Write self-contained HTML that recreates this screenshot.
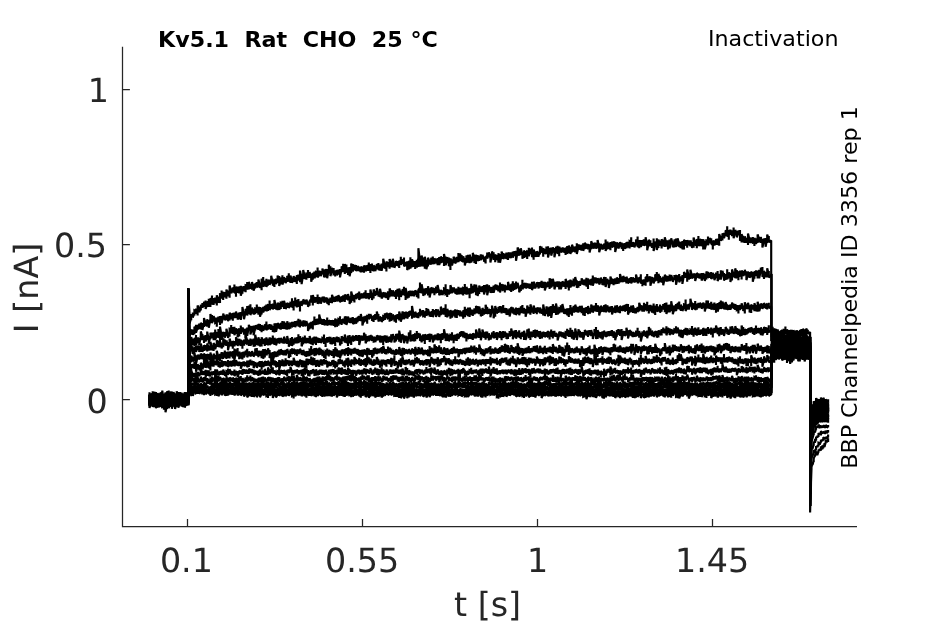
<!DOCTYPE html>
<html lang="en">
<head>
<meta charset="utf-8">
<title>Kv5.1 Rat CHO 25 °C - Inactivation</title>
<style>
html,body{margin:0;padding:0;background:#fff;}
body{width:945px;height:624px;overflow:hidden;position:relative;font-family:"DejaVu Sans","Liberation Sans",sans-serif;}
svg{position:absolute;left:0;top:0;display:block;will-change:transform;}
.tk{font-size:33.33px;fill:#262626;text-rendering:geometricPrecision;}
.sm{font-size:21.33px;fill:#000;}
.ax{stroke:#262626;stroke-width:1.25;fill:none;stroke-linecap:butt;}
.tr path{fill:none;stroke:#000;stroke-width:2.15;stroke-linejoin:miter;stroke-miterlimit:2;stroke-linecap:butt;}
</style>
</head>
<body>
<svg width="945" height="624" viewBox="0 0 945 624" font-family="'DejaVu Sans','Liberation Sans',sans-serif">
<rect width="945" height="624" fill="#fff"/>
<!-- axes -->
<g class="ax">
<path d="M122.5,46.8 V526.5 H857"/>
<path d="M122.5,89.5 H129.9 M122.5,244.5 H129.9 M122.5,399.5 H129.9"/>
<path d="M187.5,526.5 V518.9 M362.5,526.5 V518.9 M537.5,526.5 V518.9 M712.5,526.5 V518.9"/>
</g>
<!-- tick labels -->
<g class="tk" text-anchor="end">
<text x="109" y="102.4">1</text>
<text x="107" y="257.4">0.5</text>
<text x="107.6" y="412.5">0</text>
</g>
<g class="tk" text-anchor="middle">
<text x="186.4" y="572.4">0.1</text>
<text x="362.1" y="572.3">0.55</text>
<text x="537.5" y="572.3">1</text>
<text x="712.1" y="572.3">1.45</text>
<text x="487.6" y="615.9">t [s]</text>
<text transform="translate(38.1,288) rotate(-90)">I [nA]</text>
</g>
<!-- titles -->
<text class="sm" transform="translate(158,46.8) scale(1.0417,1)" font-weight="bold" xml:space="preserve">Kv5.1  Rat  CHO  25 °C</text>
<text class="sm" transform="translate(838.5,45.8) scale(1.0417,1)" text-anchor="end">Inactivation</text>
<text class="sm" transform="translate(856.7,468.8) rotate(-90) scale(1.0417,1)">BBP Channelpedia ID 3356 rep 1</text>
<!-- traces -->
<g class="tr">
<path d="M149.5,396.8L149.5,397.6V394.6V400.5L151.1,399V403.8V394.2L152.7,396.3V393.2V399.5L154.3,397.1V400.7V393.5L155.9,396.6V392V401.3L157.5,396.7V399.5V394L159.1,398.6V394.7V402.6L160.7,396.8V399.9V393.6L162.3,397V394.5V399.5L163.9,398.4V402.8V394L165.5,397.5V394.6V400.3L167.1,397.2V403.1V391.3L168.7,394.8V390.5V399.1L170.3,398.3V402.3V394.3L171.9,396.4V391.5V401.3L173.5,398.7V403.2V394.1L175.1,396.5V393.8V399.3L176.7,396.9V399.5V394.2L178.3,396.6V393.8V399.3L179.9,396V399.2V392.7L181.5,396.3V393.8V398.8L183.1,397.5V401.5V393.6L184.7,395.4V392.1V398.7L186.3,395.6V398.8V392.4L188.2,398.8V288.4L189.6,320.8V318.2V323.4L191.2,317.6V320.2V315.1L192.8,315V312.5V317.6L194.4,312.9V315.5V310.3L196,311.1V308.5V313.7L197.6,310.4V315.5V305.4L199.2,309.4V306.6V312.3L200.8,308V310.5V305.6L202.4,305.4V303V307.8L204,304.4V307V301.8L205.6,304.7V300.4V309L207.2,304.3V307V301.7L208.8,302.7V298.8V306.7L210.4,302.7V307.1V298.3L212,300.1V295.6V304.6L213.6,301.7V305.1V298.3L215.2,300.3V297.5V303.2L216.8,300.5V305.6V295.3L218.4,299.7V296.7V302.8L220,298.6V302.9V294.2L221.6,294.5V290.5V298.5L223.2,296.1V300.1V292.1L224.8,294.7V292V297.3L226.4,294.2V298.8V289.6L228,293.3V290.4V296.2L229.6,291.7V297.7V285.6L231.2,290.8V288.4V293.3L232.8,290V292.4V287.7L234.4,288.9V284.6V293.1L236,291.7V296.7V286.8L237.6,289.6V286.6V292.7L239.2,290V293.4V286.5L240.8,290.7V285.7V295.8L242.4,290.3V293.7V286.8L244,288.6V286V291.2L245.6,288.7V292.2V285.2L247.2,285.8V282V289.6L248.8,285.7V289.4V281.9L250.4,286.5V284.1V288.8L252,285.9V289.7V282L253.6,287.3V283.9V290.7L255.2,286V288.6V283.4L256.8,284.8V282.1V287.6L258.4,283.5V287.5V279.6L260,285.4V282.8V288L261.6,284.5V290.2V278.7L263.2,281.9V277.1V286.7L264.8,283.7V286.4V281L266.4,282.8V278.7V286.9L268,282.9V285.7V280L269.6,282.1V279.5V284.8L271.2,279.8V283.8V275.8L272.8,283V280.5V285.5L274.4,283.7V286.9V280.4L276,281.3V278.5V284.1L277.6,279.3V283.1V275.5L279.2,280.9V276V285.9L280.8,281.1V284.4V277.7L282.4,280V275.3V284.6L284,279.9V282.5V277.3L285.6,280.5V277.9V283.2L287.2,278.9V281.9V276L288.8,277.4V273.3V281.5L290.4,279.3V282.9V275.6L292,280.2V277.5V282.8L293.6,279V281.9V276.1L295.2,279.4V276.7V282L296.8,279.7V284.1V275.3L298.4,277.5V274.5V280.4L300,276.5V282.3V270.6L301.6,278.9V273.7V284.2L303.2,274.5V278.9V270.1L304.8,276.5V274V279L306.4,276.6V279.7V273.5L308,273.8V270V277.7L309.6,275.1V278.1V272.1L311.2,277.7V273.6V281.7L312.8,276.3V279.7V273L314.4,274.9V271.5V278.3L316,274.6V277.2V271.9L317.6,272.5V267.4V277.5L319.2,273.7V276.5V270.9L320.8,273.5V270.9V276.1L322.4,271.6V274.6V268.5L324,273.4V269.5V277.3L325.6,273.3V277.5V269.1L327.2,273.7V269.1V278.3L328.8,269.1V273.5V264.7L330.4,271.2V266.2V276.1L332,270.6V273.1V268L333.6,271.1V268V274.2L335.2,273.7V276.6V270.7L336.8,272.5V269.7V275.2L338.4,272.2V274.7V269.6L340,273.2V269.1V277.4L341.6,269.2V271.7V266.6L343.2,267.9V263.7V272L344.8,269.1V274.1V264.2L346.4,268.4V264.4V272.4L348,271.1V275V267.3L349.6,271.6V267V276.3L351.2,268.2V272.9V263.6L352.8,267.7V264V271.4L354.4,267.6V270.2V264.9L356,268V265V270.9L357.6,268.6V271.2V265.9L359.2,268.8V266.4V271.1L360.8,269.6V272.6V266.7L362.4,269.2V266.4V272.1L364,269.1V272.7V265.5L365.6,268.3V265.3V271.2L367.2,268.2V271.1V265.3L368.8,266.6V262.4V270.7L370.4,268.6V273V264.2L372,267.1V263.6V270.6L373.6,268.4V271.4V265.4L375.2,268.2V265.4V271.1L376.8,266.4V268.9V264L378.4,266.5V263V270.1L380,267.8V270.8V264.7L381.6,267.3V263.6V270.9L383.2,263.4V268V258.8L384.8,265.7V263V268.5L386.4,266.4V271.4V261.4L388,264.6V262.1V267L389.6,263.9V268.8V259L391.2,263.8V260.6V267L392.8,263V267.4V258.7L394.4,265.4V263.1V267.8L396,263.5V266V261.1L397.6,263.6V261.1V266L399.2,264.7V268V261.5L400.8,260.8V256.8V264.7L402.4,261.9V264.3V259.4L404,261.8V257.4V266.3L405.6,264.2V266.6V261.8L407.2,265.6V261.2V270.1L408.8,265.4V269.6V261.1L410.4,262.8V257.2V268.4L412,263.3V267.3V259.3L413.6,263.4V261V265.9L415.2,265.2V269V261.3L416.8,263.7V259.7V267.6L418.4,257.7V267.1V248.2L420,261.4V256.3V266.5L421.6,261V266.6V255.5L423.2,261.9V257.4V266.4L424.8,262.8V268.8V256.7L426.4,264.5V259.7V269.2L428,262.1V266.4V257.7L429.6,262V259.5V264.4L431.2,261.2V264.7V257.8L432.8,260.2V256.4V263.9L434.4,261.4V264.3V258.5L436,260.7V258.4V263.1L437.6,261.8V265.3V258.2L439.2,261V257.1V265L440.8,259.9V263.2V256.6L442.4,259.7V257V262.5L444,260.1V266.1V254.1L445.6,260.8V256.4V265.2L447.2,260.2V263.2V257.2L448.8,261.7V257.4V265.9L450.4,264.2V270V258.4L452,262.3V259.3V265.4L453.6,259.9V263.1V256.7L455.2,260.5V257.5V263.6L456.8,260.2V262.6V257.7L458.4,257.5V253V261.9L460,257.2V260.9V253.5L461.6,258.3V254.9V261.6L463.2,259.3V262.5V256.2L464.8,261.8V258V265.6L466.4,259.3V263.1V255.5L468,258.6V254.7V262.5L469.6,258.9V263.2V254.7L471.2,259.6V256.7V262.4L472.8,257.1V261.2V252.9L474.4,258.9V254.6V263.1L476,259.4V264V254.9L477.6,258V255.1V260.9L479.2,258.5V260.9V256.1L480.8,257.1V254.3V259.9L482.4,257.2V259.6V254.8L484,259V256.5V261.5L485.6,260.4V263.5V257.3L487.2,255.5V252.5V258.5L488.8,254.7V257.2V252.3L490.4,258.1V253.6V262.6L492,255.1V258.6V251.5L493.6,255.6V252.2V258.9L495.2,258.4V262.3V254.4L496.8,257.6V255V260.1L498.4,258V262.8V253.2L500,258.4V254V262.8L501.6,255.3V259.1V251.6L503.2,255.9V252.9V258.9L504.8,256.3V258.7V253.9L506.4,255.7V252.5V258.9L508,256.4V260.1V252.7L509.6,255.1V252.3V258L511.2,255.6V258.3V252.8L512.8,254.6V251.6V257.6L514.4,253.6V256.1V251L516,255.7V250.7V260.8L517.6,251.7V256.1V247.4L519.2,252.1V248.7V255.5L520.8,251.6V254.9V248.3L522.4,255.3V251.9V258.7L524,254.2V258V250.5L525.6,254V251V257L527.2,255.2V259V251.4L528.8,252V247.8V256.2L530.4,251.4V254.1V248.7L532,252.3V247.4V257.1L533.6,254.6V259.7V249.5L535.2,254.1V251.4V256.7L536.8,254.1V256.9V251.2L538.4,254.2V251.7V256.7L540,250.3V254.4V246.2L541.6,249.1V246.5V251.8L543.2,252.5V256.8V248.2L544.8,251.4V248.7V254.1L546.4,250.5V254.3V246.6L548,251.9V246.2V257.6L549.6,250.7V253.6V247.8L551.2,251.6V247.6V255.6L552.8,250V252.7V247.3L554.4,252.7V248.1V257.2L556,249.9V253V246.7L557.6,249.8V245.8V253.8L559.2,251.6V256.3V246.8L560.8,250.1V247.8V252.5L562.4,250V252.5V247.6L564,250.1V247.7V252.5L565.6,251.3V254.9V247.7L567.2,249.9V246V253.8L568.8,249.4V253.2V245.5L570.4,250.4V246.8V253.9L572,248.6V252.6V244.7L573.6,249V246.5V251.5L575.2,249.5V252.4V246.6L576.8,248.7V243.3V254.1L578.4,247.3V249.9V244.6L580,247.2V244.7V249.7L581.6,247.9V250.8V245L583.2,247V243.2V250.8L584.8,246V249.2V242.8L586.4,246V243.6V248.5L588,246.7V249.4V244.1L589.6,248.3V244.2V252.4L591.2,245.3V249.3V241.2L592.8,245.6V242.8V248.5L594.4,245.7V248.7V242.7L596,245.7V242.7V248.7L597.6,244.2V248.5V239.9L599.2,247.7V243.2V252.3L600.8,246.7V249.6V243.9L602.4,247V244.6V249.4L604,246.4V249.1V243.8L605.6,245.3V239.5V251L607.2,245.7V249.6V241.7L608.8,245.8V242.7V248.8L610.4,246.3V250.2V242.3L612,244.6V241.5V247.6L613.6,244.2V247.2V241.2L615.2,246.9V241.7V252.1L616.8,245.5V248.5V242.5L618.4,245.6V242.7V248.5L620,244.7V247.3V242.1L621.6,245.6V242.6V248.6L623.2,247.3V251.1V243.5L624.8,246V243.1V248.8L626.4,245.3V248.4V242.2L628,244.6V241.7V247.5L629.6,244.8V248.5V241.1L631.2,241.9V237.3V246.5L632.8,244.7V247.1V242.3L634.4,244.9V242.3V247.4L636,242.7V245.7V239.6L637.6,241.8V236.6V247.1L639.2,244.3V248.2V240.3L640.8,243.5V240.1V246.9L642.4,243V245.8V240.2L644,242.5V239.3V245.8L645.6,241.5V245.8V237.3L647.2,245.5V240.7V250.3L648.8,242.9V246.1V239.7L650.4,242.9V240.2V245.5L652,245.7V248.1V243.3L653.6,244.8V238.5V251.1L655.2,244.3V247V241.7L656.8,244.2V238.2V250.1L658.4,243.8V248.1V239.6L660,243.2V240.6V245.7L661.6,243.8V248.4V239.2L663.2,242.9V239.6V246.3L664.8,242.2V247.1V237.3L666.4,243.2V240.3V246L668,244.9V249.5V240.4L669.6,243.8V239.4V248.2L671.2,241.5V244.6V238.3L672.8,244.3V241.3V247.3L674.4,243.5V247.5V239.5L676,242.7V238.6V246.8L677.6,242.2V246.2V238.2L679.2,244.2V241.5V246.9L680.8,245.2V248.2V242.1L682.4,245.1V241V249.3L684,244.6V249.4V239.8L685.6,242.7V239.9V245.5L687.2,244V247.7V240.3L688.8,242.8V240.2V245.3L690.4,243.4V246.4V240.4L692,245V241.9V248L693.6,242.7V247.7V237.6L695.2,242.8V240.3V245.4L696.8,243.7V248.2V239.3L698.4,241V236V246L700,242.6V246.2V239L701.6,242.5V239V245.9L703.2,244.3V249.4V239.2L704.8,245V240.7V249.3L706.4,243V245.5V240.4L708,240.8V236.5V245.1L709.6,240.5V242.9V238.1L711.2,240.9V238.3V243.5L712.8,245.2V249.6V240.7L714.4,242.9V240.3V245.4L716,242V245.1V238.9L717.6,241.8V238.6V244.9L719.2,239.9V245.7V234L720.8,238.3V235.7V240.8L722.4,237V240.5V233.4L724,235.5V232.8V238.3L725.6,233.2V235.9V230.5L727.2,231.5V226.3V236.6L728.8,235V239.8V230.2L730.4,231.9V229.4V234.4L732,233.4V236.3V230.5L733.6,232.9V227.5V238.2L735.2,232.8V235.5V230L736.8,234.1V230.8V237.3L738.4,232.7V235.1V230.4L740,235.3V229.9V240.7L741.6,238.4V242.5V234.2L743.2,239V235.8V242.3L744.8,239.8V243.1V236.5L746.4,240.4V238.1V242.7L748,239.3V245.1V233.4L749.6,240.1V237.3V242.8L751.2,240.5V242.9V238.1L752.8,239.8V237V242.6L754.4,242V246V238.1L756,241.1V238.2V244L757.6,238.6V242.9V234.4L759.2,239.4V236.7V242.1L760.8,240V242.9V237.1L762.4,243.2V238.9V247.5L764,240.9V243.5V238.4L765.6,242.5V238.1V246.8L767.2,238.7V242.9V234.5L768.8,239.1V236V242.2L771.2,240.5V332L772.6,330.1V326.7V333.5L774.2,332.7V337V328.4L775.8,331.8V328.7V334.9L777.4,332.8V336.1V329.4L779,333.5V331.3V335.8L780.6,333.3V335.9V330.7L782.2,331.9V329.4V334.3L783.8,332.4V334.8V329.9L785.4,330.2V326.4V334L787,331.9V334.3V329.4L788.6,332.3V330.1V334.5L790.2,333.5V337.1V329.9L791.8,332.9V329.8V336.1L793.4,332.2V334.2V330.2L795,334.1V330.5V337.6L796.6,332.8V335.1V330.5L798.2,333.1V331V335.2L799.8,332.3V334.7V330L801.4,332.4V328.9V336L803,333.1V337.5V328.8L804.6,331.9V329.2V334.6L806.2,331.6V334.6V328.5L807.8,331.8V329.7V333.8L810.1,332V440L811.3,407V408.7V405.4L812.5,405.9V404.3V407.5L813.7,404V406.7V401.3L814.9,403.4V401.4V405.3L816.1,401.2V404.3V398.1L817.3,400.9V398.9V402.9L818.5,401.5V403.1V400L819.7,400.5V398.9V402.2L820.9,400.1V402.8V397.4L822.1,402V400.5V403.5L823.3,401V404.3V397.8L824.5,400.4V398.9V402L825.7,400.7V402.2V399.3L826.9,402V399.2V404.8L828.1,401V402.7V399.2"/>
<path d="M149.5,399.5L149.5,398.2V394.6V401.8L151.1,399.1V402V396.2L152.7,400V395.4V404.5L154.3,400V403V397L155.9,398.9V394.7V403.1L157.5,400.1V403.7V396.6L159.1,398.1V394.1V402.1L160.7,398.9V401.4V396.3L162.3,399.8V397V402.5L163.9,400.8V404.1V397.6L165.5,399V395.3V402.7L167.1,398.9V401.6V396.3L168.7,398.8V395.2V402.4L170.3,399.5V402.4V396.7L171.9,401.2V396.9V405.4L173.5,399.5V402.3V396.7L175.1,398.7V395.7V401.7L176.7,398.8V403.9V393.8L178.3,400.5V395.9V405L179.9,400.3V404.6V396L181.5,397.6V393.4V401.9L183.1,400.9V403.7V398L184.7,401.1V397.8V404.5L186.3,399.5V403.2V395.8L188.7,401.5V288.5L189.6,332.9V330.2V335.6L191.2,332.2V334.8V329.6L192.8,332.2V329.5V334.9L194.4,330.6V334.5V326.8L196,328.7V324.8V332.7L197.6,327.6V330.1V325.2L199.2,326.4V323.6V329.1L200.8,326.1V329.6V322.7L202.4,326.6V323V330.1L204,322.5V327V318L205.6,323.2V320.4V325.9L207.2,323V326.7V319.3L208.8,323.9V319.9V327.8L210.4,318.7V323.2V314.1L212,319.1V315.1V323L213.6,318.9V321.7V316.1L215.2,320.3V317.6V323L216.8,322.3V326.7V317.9L218.4,319.2V316.5V321.9L220,320.6V325.1V316.1L221.6,319.5V315.8V323.2L223.2,316.5V319.6V313.5L224.8,317.8V315.4V320.3L226.4,317.4V320.3V314.4L228,317.8V314.4V321.2L229.6,316.7V320.6V312.7L231.2,316.2V313.3V319.1L232.8,316.9V320.8V313L234.4,315.3V312.4V318.1L236,314.8V318V311.6L237.6,316.3V313.2V319.5L239.2,315.9V319.3V312.4L240.8,315.9V312V319.9L242.4,311.3V315.7V306.9L244,315.2V311.2V319.2L245.6,312.1V315.2V309.1L247.2,310.7V306.1V315.4L248.8,309.9V314.1V305.7L250.4,309.7V304.3V315.1L252,310.7V313.7V307.7L253.6,311.8V309.1V314.6L255.2,311.2V314.2V308.3L256.8,308.7V304.6V312.7L258.4,310.9V314.8V306.9L260,311.9V307V316.8L261.6,311.2V314.6V307.9L263.2,309.6V306.8V312.4L264.8,308.6V311.3V306L266.4,307.9V304.5V311.3L268,307.9V310.9V305L269.6,305.3V300.5V310L271.2,306.8V309.1V304.5L272.8,306.5V303.6V309.5L274.4,304.5V309V300L276,307.2V304.7V309.6L277.6,306.5V310.2V302.7L279.2,306.2V302.7V309.7L280.8,306V309.1V302.8L282.4,303.7V300.8V306.7L284,304.9V309.1V300.8L285.6,306.1V303.2V309L287.2,305.3V308V302.7L288.8,305.6V303.1V308.1L290.4,304.9V307.2V302.6L292,302.8V298.3V307.3L293.6,306.1V310.5V301.7L295.2,301.8V297.5V306.1L296.8,303.7V307.4V300.1L298.4,302.4V298.9V305.9L300,306.6V311.4V301.8L301.6,303.3V300.8V305.8L303.2,301.9V304.4V299.4L304.8,302V299.7V304.2L306.4,302.2V304.8V299.6L308,304.1V301.4V306.8L309.6,303.5V305.8V301.1L311.2,298.8V295.2V302.4L312.8,300.2V305.4V295L314.4,299.8V297V302.6L316,300.1V302.5V297.6L317.6,299.2V294.6V303.8L319.2,300.5V303.8V297.3L320.8,300.6V297.5V303.7L322.4,299.1V301.5V296.7L324,299.6V296.6V302.5L325.6,300.1V302.5V297.6L327.2,300.5V297.5V303.6L328.8,302.1V305.2V299.1L330.4,300.1V297.5V302.8L332,299V303.2V294.8L333.6,299.2V296.7V301.7L335.2,299.4V302.1V296.7L336.8,298.4V295.7V301.2L338.4,298.2V301.4V295L340,299.4V296.6V302.2L341.6,299.3V302.1V296.5L343.2,298.2V295.3V301.2L344.8,298.3V302V294.5L346.4,296.9V294.4V299.5L348,297.2V300.4V293.9L349.6,300.1V296.3V303.9L351.2,297.1V302.7V291.6L352.8,297.6V294.7V300.5L354.4,299V302.6V295.5L356,296.5V293.8V299.1L357.6,295.8V298.6V293.1L359.2,295.7V291.4V299.9L360.8,296.3V298.8V293.7L362.4,295.7V293.2V298.3L364,295.5V298.2V292.7L365.6,294.3V290.2V298.5L367.2,296V298.6V293.3L368.8,296.1V293V299.2L370.4,293.8V298.1V289.6L372,296.3V292.7V299.9L373.6,294V298.5V289.4L375.2,293.4V291V295.8L376.8,291.6V295.1V288.1L378.4,294.1V291.7V296.5L380,293.1V297.3V288.8L381.6,295.8V293V298.5L383.2,294.9V297.4V292.3L384.8,294.8V292.3V297.3L386.4,295.6V298.3V292.9L388,295.5V291.3V299.8L389.6,292.8V297.2V288.4L391.2,293.1V290V296.1L392.8,293.4V296.4V290.5L394.4,294V291.4V296.6L396,294.5V298.9V290.2L397.6,292.6V288.7V296.4L399.2,294.5V300.3V288.6L400.8,293.8V290.7V296.8L402.4,292.3V295.2V289.4L404,290.9V286.8V295L405.6,294V300V288L407.2,295.4V292.6V298.2L408.8,294.6V297.8V291.3L410.4,293.2V290.4V296L412,293.6V296.2V291L413.6,293.5V290.7V296.3L415.2,292.8V295.2V290.3L416.8,293.7V290.4V297L418.4,294.2V298.6V289.9L420,287.6V282.5V292.7L421.6,289V293.6V284.3L423.2,292.1V288.4V295.7L424.8,292V295.2V288.7L426.4,290.7V288V293.4L428,290.9V295.6V286.2L429.6,292.9V288.3V297.5L431.2,290V292.7V287.4L432.8,289.9V287.5V292.2L434.4,291.9V295.2V288.6L436,289.9V286.5V293.2L437.6,289.1V293V285.1L439.2,292.5V289.6V295.3L440.8,292.6V295.2V290L442.4,292.6V290.2V295L444,291.3V294.2V288.4L445.6,289.2V284.3V294.1L447.2,293.2V297V289.4L448.8,292V289.6V294.4L450.4,289.5V293.8V285.2L452,290.1V287.2V293.1L453.6,290V292.6V287.4L455.2,291.1V288.7V293.5L456.8,292.2V294.8V289.7L458.4,290.5V286.8V294.2L460,291V294.2V287.9L461.6,290.9V287.5V294.3L463.2,291.7V295.4V288.1L464.8,288.9V284V293.8L466.4,290.9V294.8V287L468,290.8V288.3V293.4L469.6,293.8V298.2V289.3L471.2,288.6V283.7V293.4L472.8,289.6V293.3V285.9L474.4,288.1V284.3V291.9L476,290V295.3V284.7L477.6,291.9V287.8V295.9L479.2,289.8V294V285.6L480.8,289.2V286.6V291.7L482.4,289.3V292.3V286.2L484,289.7V285V294.4L485.6,288.6V292.2V284.9L487.2,289.8V284.3V295.2L488.8,288.1V290.9V285.4L490.4,289.8V286.9V292.7L492,290.1V293.1V287.1L493.6,289.1V285.6V292.7L495.2,287.2V289.6V284.7L496.8,287.2V284.7V289.8L498.4,288.7V291.5V285.9L500,287.4V282.4V292.4L501.6,287.3V290.4V284.3L503.2,287V284.3V289.7L504.8,288.9V292.6V285.1L506.4,287.8V285.5V290.1L508,286V290.1V281.9L509.6,287.8V285.2V290.5L511.2,288V292V284L512.8,285.9V281.3V290.5L514.4,287.2V289.9V284.4L516,285.3V281.6V288.9L517.6,285.5V288.3V282.8L519.2,289.5V286.7V292.3L520.8,288.5V291V286L522.4,284.5V279.8V289.2L524,285.7V288.2V283.2L525.6,285.5V282.8V288.3L527.2,285.9V288.2V283.5L528.8,285.8V283.4V288.3L530.4,286.3V288.9V283.8L532,285.9V281.8V290.1L533.6,285.2V288.8V281.7L535.2,286.1V283.8V288.4L536.8,284.6V287V282.3L538.4,285.2V282V288.4L540,284.9V287.6V282.2L541.6,284.3V280.7V287.8L543.2,284.9V287.9V281.9L544.8,286.1V281.7V290.4L546.4,285.1V287.5V282.8L548,284.3V281.5V287.1L549.6,283.7V289V278.3L551.2,283.1V278.8V287.4L552.8,282.6V286.5V278.7L554.4,285.5V281.8V289.3L556,284.3V286.8V281.9L557.6,284V281.3V286.7L559.2,285.5V289.4V281.6L560.8,285.7V282.1V289.3L562.4,284V286.8V281.2L564,284.1V281.5V286.8L565.6,283.9V288.9V278.9L567.2,283.9V280.9V286.8L568.8,285.6V290.6V280.5L570.4,283.5V279.6V287.4L572,284V286.5V281.5L573.6,282.4V278.5V286.3L575.2,281.3V285.5V277.1L576.8,284V280.3V287.7L578.4,284.7V287.8V281.6L580,283.2V280.8V285.7L581.6,281.4V284.4V278.3L583.2,282.2V279.6V284.8L584.8,282.6V285.4V279.7L586.4,282.1V277.7V286.5L588,283.8V289V278.6L589.6,282.1V279.5V284.6L591.2,282.3V285.4V279.1L592.8,280.7V275.6V285.8L594.4,280.4V283.2V277.6L596,280.3V277.4V283.2L597.6,280.9V283.5V278.2L599.2,281.5V278.3V284.6L600.8,280.5V283.6V277.5L602.4,282.1V279.1V285L604,281.3V285.4V277.1L605.6,282V277V286.9L607.2,281.4V284V278.8L608.8,283.8V279.7V288L610.4,280.5V284.3V276.6L612,281.1V278.4V283.8L613.6,282.2V285.3V279.1L615.2,281.1V278.3V284L616.8,280.8V284.1V277.5L618.4,280.8V277.9V283.6L620,278.2V282.5V274L621.6,279.5V277V282L623.2,279.1V282.2V276L624.8,279.2V276.9V281.5L626.4,280.1V283.6V276.7L628,281.1V278.7V283.4L629.6,280.6V283V278.1L631.2,280.1V276.9V283.4L632.8,279.9V282.4V277.4L634.4,280.3V277.9V282.6L636,278.3V282.1V274.5L637.6,280.6V277.9V283.3L639.2,279.9V282.5V277.3L640.8,278.5V274.3V282.6L642.4,283.1V286.2V280L644,281.9V279.2V284.7L645.6,281.4V285.7V277L647.2,278V273.9V282L648.8,278.9V281.5V276.4L650.4,281V276.2V285.8L652,279.8V282.4V277.2L653.6,280.4V277.4V283.4L655.2,278V281.4V274.6L656.8,276.2V271.9V280.5L658.4,278.6V283.2V273.9L660,278.6V276.1V281L661.6,280.3V282.8V277.8L663.2,280.8V276.4V285.2L664.8,278V281.4V274.7L666.4,278.4V275.4V281.5L668,279V281.6V276.5L669.6,277.7V274.4V280.9L671.2,277.9V280.7V275.1L672.8,279.7V277.4V282L674.4,277.5V279.9V275.1L676,279.8V274.7V284.8L677.6,278V280.6V275.4L679.2,278.2V274.1V282.3L680.8,278.8V281.2V276.4L682.4,279.5V275.1V283.9L684,275V278V272.1L685.6,275.2V272.7V277.7L687.2,275.5V281.7V269.4L688.8,276.5V273.7V279.4L690.4,274.4V278.9V269.8L692,275.9V273.5V278.3L693.6,275.8V278.2V273.4L695.2,277.2V273.6V280.9L696.8,275.3V277.7V272.9L698.4,275.6V273.2V278.1L700,276.3V278.7V273.9L701.6,276.7V272.9V280.5L703.2,276.4V279.6V273.2L704.8,277.4V273.8V281L706.4,275.5V279.4V271.5L708,274.8V271.7V277.8L709.6,275.4V278.1V272.7L711.2,275.6V272.1V279.1L712.8,275.9V278.8V273L714.4,277.2V274.1V280.2L716,275.4V278.3V272.6L717.6,276.1V271.1V281.1L719.2,277.2V279.7V274.7L720.8,274.9V270.3V279.6L722.4,273.4V276V270.8L724,276.8V273.1V280.5L725.6,277.6V279.9V275.2L727.2,274.3V269.3V279.3L728.8,275.3V278.4V272.3L730.4,277.4V272.7V282L732,274.9V280.5V269.4L733.6,274.5V271.8V277.2L735.2,273.4V278.3V268.4L736.8,273.7V270.1V277.2L738.4,276.3V280.3V272.3L740,273.2V270.6V275.8L741.6,275V279.6V270.4L743.2,273.5V271.1V275.9L744.8,272.7V275.5V269.8L746.4,275.7V271.3V280.1L748,274.5V277.5V271.6L749.6,274.9V272V277.8L751.2,274.4V277.5V271.4L752.8,276.9V272V281.7L754.4,275.1V278.7V271.5L756,272.7V270.3V275.1L757.6,274.6V278.5V270.6L759.2,274V269.8V278.2L760.8,270.5V273.3V267.7L762.4,271.9V267.1V276.7L764,275V279.1V270.9L765.6,274.7V272.1V277.2L767.2,272.9V277.4V268.3L768.8,274.2V270.9V277.6L771.7,274.1V337L772.6,335.3V332.2V338.4L774.2,337.1V342.5V331.7L775.8,338.6V334.8V342.4L777.4,336.4V339.1V333.6L779,338.3V333.5V343.1L780.6,336.5V341.7V331.3L782.2,334.7V330.8V338.6L783.8,335.8V338.9V332.7L785.4,339.7V334.9V344.5L787,338.2V342.1V334.3L788.6,336.6V334.2V339L790.2,336.4V339.4V333.4L791.8,338.3V335.2V341.4L793.4,336.3V340.2V332.3L795,336.3V333.6V339.1L796.6,334.6V338.7V330.6L798.2,335.4V332.7V338L799.8,336.7V339.8V333.5L801.4,339.7V336.8V342.6L803,338.6V341.2V336L804.6,335V331.7V338.3L806.2,337.2V340.3V334L807.8,338.3V335.8V340.8L810.7,337V446L811.3,412.3V414.3V410.4L812.5,408.8V406.8V410.7L813.7,406.4V408V404.8L814.9,405.5V402.2V408.7L816.1,405.7V408.8V402.7L817.3,405.4V402.9V407.8L818.5,404.2V405.6V402.8L819.7,404.1V401.7V406.5L820.9,403.7V405.1V402.3L822.1,404.1V402.5V405.8L823.3,404V405.5V402.6L824.5,403.7V401.6V405.7L825.7,402.9V404.5V401.2L826.9,404.8V402.4V407.2L828.1,404.1V405.7V402.4"/>
<path d="M149.5,402.1L149.5,403.7V399.4V407.9L151.1,402.6V405.4V399.8L152.7,402.8V400.1V405.6L154.3,402.8V406V399.6L155.9,401V397.1V404.8L157.5,403.4V407.6V399.3L159.1,402.4V399.4V405.4L160.7,402.9V405.4V400.3L162.3,402.6V399.7V405.5L163.9,402.2V405.6V398.8L165.5,403.9V398.2V409.7L167.1,401.7V406.6V396.8L168.7,403.6V399V408.2L170.3,402.7V405.8V399.7L171.9,402.4V400.1V404.7L173.5,401.6V405.2V398.1L175.1,402.6V399.1V406L176.7,402.6V406.9V398.3L178.3,401.2V398V404.4L179.9,401.2V404.3V398.1L181.5,402.9V399.3V406.5L183.1,402.3V405V399.5L184.7,402.6V399.7V405.5L186.3,402.9V405.9V399.8L188.2,404.1V288.4L189.6,342.5V338.4V346.6L191.2,341V344.9V337L192.8,341.9V339V344.8L194.4,342V346.2V337.9L196,340.2V335V345.5L197.6,340.3V343.1V337.5L199.2,341.7V338V345.4L200.8,335.8V340.2V331.4L202.4,336.6V334.1V339.1L204,339.4V342.9V335.9L205.6,338.2V335.1V341.4L207.2,336V340.3V331.6L208.8,339.7V335.7V343.7L210.4,336V339.3V332.8L212,335.2V332.5V337.9L213.6,336.4V340.3V332.5L215.2,334.8V329.6V339.9L216.8,335.3V337.5V333L218.4,333.5V329.1V337.9L220,333.8V341V326.6L221.6,335.8V331.8V339.8L223.2,334.4V336.8V332.1L224.8,334.8V331.9V337.8L226.4,332.5V336.3V328.7L228,335.2V332.5V337.9L229.6,332.7V336.7V328.7L231.2,329.1V325V333.3L232.8,330.6V334V327.3L234.4,330.9V326.7V335.2L236,331.1V334V328.3L237.6,332.9V328.8V337.1L239.2,332.9V336.6V329.3L240.8,329.6V325.4V333.7L242.4,329.9V332.2V327.5L244,331.1V328.7V333.5L245.6,333.4V338V328.7L247.2,331.6V327.4V335.9L248.8,327.3V329.9V324.8L250.4,330V325.7V334.4L252,329.3V332.4V326.2L253.6,330.4V325.5V335.3L255.2,328V330.4V325.6L256.8,326.9V324.7V329.1L258.4,327V330V324L260,327.2V323.9V330.4L261.6,328.7V332.2V325.3L263.2,328.2V325.6V330.7L264.8,327.1V329.7V324.4L266.4,325.9V321.5V330.2L268,327.5V329.8V325.1L269.6,326.5V323.9V329.1L271.2,327.3V330V324.7L272.8,328.9V326V331.9L274.4,327.9V332.4V323.5L276,327.5V323.3V331.7L277.6,325.4V328V322.9L279.2,326.1V323.5V328.8L280.8,326.5V329.8V323.1L282.4,324.8V320.9V328.7L284,325.3V329V321.6L285.6,326.2V323.1V329.3L287.2,325.5V329.7V321.3L288.8,326.1V323.3V328.9L290.4,326.2V328.8V323.6L292,324.5V321.8V327.2L293.6,324.5V327.1V321.9L295.2,324.2V321.1V327.2L296.8,323.3V325.7V321L298.4,322.7V318.8V326.6L300,323.7V327.4V320L301.6,323.6V321.4V325.8L303.2,323.6V326.8V320.5L304.8,323.3V320.6V326.1L306.4,323.6V326V321.1L308,327.2V323.4V331L309.6,326.1V329.3V322.8L311.2,324.9V321.8V328L312.8,325.9V329.6V322.1L314.4,320.9V316.6V325.1L316,322.1V325.1V319.2L317.6,321.4V318.4V324.5L319.2,319.5V324.3V314.6L320.8,321.2V318.6V323.8L322.4,322.3V325.1V319.4L324,322.1V319.1V325.1L325.6,322.9V325.4V320.4L327.2,321.5V317.6V325.5L328.8,322.7V325.3V320.2L330.4,322.5V319.9V325.1L332,322.9V325.5V320.2L333.6,322.9V320V325.8L335.2,322.9V327.3V318.5L336.8,322.9V319.3V326.5L338.4,322.4V325.8V318.9L340,319.7V316.3V323.1L341.6,322.3V325.1V319.5L343.2,320.9V318.5V323.3L344.8,320.4V324.3V316.4L346.4,320.6V316.3V324.9L348,319.6V322.4V316.8L349.6,320.5V318.2V322.8L351.2,320.4V323V317.8L352.8,320.6V317.1V324.1L354.4,321.3V324.2V318.4L356,320.6V317.8V323.5L357.6,319.6V322.2V316.9L359.2,318.3V315.8V320.8L360.8,317.5V321.2V313.9L362.4,321.2V316.9V325.5L364,319.6V322.6V316.6L365.6,318.4V315.7V321.1L367.2,319.9V323.8V316L368.8,316.5V313.7V319.2L370.4,316.4V318.8V314L372,318.3V315.9V320.8L373.6,318.8V322V315.6L375.2,316.9V314.1V319.8L376.8,315.5V319.6V311.4L378.4,317.8V314.1V321.5L380,318.8V321.2V316.4L381.6,319.5V316.9V322L383.2,318.5V321.1V316L384.8,316.5V313.3V319.7L386.4,315.6V318.2V312.9L388,315.7V313.3V318.2L389.6,317.4V321.7V313L391.2,316.9V313.1V320.7L392.8,317V319.7V314.4L394.4,318.3V315.2V321.4L396,318.8V322.7V315L397.6,316.6V314.1V319L399.2,315.9V320.4V311.5L400.8,317.6V313.5V321.8L402.4,315.6V319.6V311.5L404,315.6V312.1V319L405.6,315.1V318.3V311.8L407.2,315.3V312V318.6L408.8,314.2V317V311.5L410.4,313V310.6V315.4L412,312.4V318.7V306L413.6,315.1V312.6V317.5L415.2,314.6V317.4V311.8L416.8,315.2V312.9V317.6L418.4,315.8V318.3V313.3L420,312.5V308.8V316.2L421.6,313V315.5V310.5L423.2,313V310.1V315.9L424.8,315V317.8V312.3L426.4,311.8V307.9V315.7L428,312.2V315.3V309.1L429.6,314.2V312V316.4L431.2,314.2V316.9V311.6L432.8,313V308.9V317.1L434.4,312.5V314.6V310.3L436,313V309V317L437.6,312.4V315.4V309.4L439.2,313.8V310.7V316.9L440.8,310.9V315.2V306.7L442.4,311.3V308.4V314.2L444,311.5V314.8V308.1L445.6,310.5V304.2V316.8L447.2,313.2V317.5V309L448.8,313V310.8V315.2L450.4,314.4V318.7V310.1L452,313.9V310.4V317.4L453.6,313.2V315.8V310.6L455.2,313.4V309.3V317.5L456.8,314V318V310L458.4,312.4V310V314.8L460,313.6V316.4V310.8L461.6,314V311.7V316.3L463.2,314.6V318.7V310.4L464.8,311.8V306.7V316.9L466.4,312.1V315.1V309.1L468,311.8V307.5V316.2L469.6,312.3V317V307.5L471.2,311.9V309.7V314.1L472.8,313.4V316V310.7L474.4,311.2V308.2V314.2L476,309.7V313.4V306L477.6,309.6V306V313.2L479.2,310.4V314.2V306.5L480.8,312.9V309.6V316.3L482.4,311.9V315.9V307.9L484,311.8V309.1V314.4L485.6,309.5V314.1V304.8L487.2,310.4V306.9V313.9L488.8,311.3V313.9V308.8L490.4,313.1V308.9V317.2L492,309.6V313.6V305.6L493.6,313.4V308.4V318.3L495.2,311.5V316.8V306.1L496.8,311.2V308.9V313.6L498.4,310V313V307L500,309.1V306.1V312.1L501.6,310V313.5V306.6L503.2,308.8V304.9V312.6L504.8,310.6V313.2V308.1L506.4,311.5V308.1V314.8L508,312.2V314.9V309.6L509.6,312.3V308.3V316.4L511.2,309.4V311.7V307.1L512.8,310.2V307.3V313.2L514.4,311.9V314.8V309L516,311.2V307.5V315L517.6,311.2V314.1V308.3L519.2,311.4V307.7V315.2L520.8,309.8V313.2V306.4L522.4,309V305V313.1L524,310.8V313.7V308L525.6,312.8V308.9V316.7L527.2,309.5V313.4V305.5L528.8,310.1V307.1V313.2L530.4,309.6V314.8V304.4L532,310.1V307.8V312.4L533.6,309.8V314V305.6L535.2,310.3V308V312.6L536.8,311V314.2V307.8L538.4,309.5V307.2V311.9L540,310.6V313.4V307.7L541.6,311.5V309.3V313.7L543.2,310V315.6V304.5L544.8,312.7V309.5V315.9L546.4,310.2V314V306.4L548,311.8V307.2V316.4L549.6,311.4V316.1V306.6L551.2,312V306.1V317.9L552.8,308.6V313V304.2L554.4,309.3V306V312.7L556,309.3V315V303.5L557.6,311.4V308.4V314.4L559.2,310.8V313.6V308.1L560.8,308.7V305.2V312.2L562.4,308.3V312.6V304L564,311.2V308.8V313.7L565.6,311.6V314.2V309L567.2,311.8V308.2V315.3L568.8,313.1V316.9V309.3L570.4,309.6V305V314.2L572,311.7V315.7V307.7L573.6,309.1V305.7V312.5L575.2,308.5V312.3V304.7L576.8,309.5V306.8V312.1L578.4,309.8V312.7V306.9L580,308.7V305.8V311.6L581.6,309.4V313.2V305.7L583.2,311.6V307.9V315.2L584.8,311.9V315.9V307.9L586.4,309.9V307.1V312.8L588,310.1V314.2V306.1L589.6,310.8V308V313.6L591.2,308.6V312.6V304.6L592.8,309V305.6V312.5L594.4,308.6V311.3V305.9L596,307.3V303.1V311.5L597.6,308.7V312V305.3L599.2,311.1V306.6V315.6L600.8,309V312.2V305.8L602.4,309V306.5V311.6L604,308.8V312.3V305.3L605.6,308.3V304.3V312.3L607.2,308.5V311.5V305.4L608.8,309.7V307.1V312.3L610.4,309.3V312.2V306.3L612,310.3V306V314.5L613.6,310.1V312.3V307.9L615.2,309.2V305.5V312.9L616.8,308.8V312.4V305.3L618.4,309.7V306.9V312.5L620,309.6V313.2V305.9L621.6,308.5V306.2V310.8L623.2,308.3V311V305.5L624.8,308.1V304.8V311.5L626.4,307.6V311.1V304L628,309.3V304V314.6L629.6,310.1V312.8V307.4L631.2,308.6V305.5V311.7L632.8,309.2V313.1V305.4L634.4,310.6V308.2V313L636,310.9V313.6V308.3L637.6,309.5V306.8V312.1L639.2,307.1V311.4V302.8L640.8,307.4V305V309.9L642.4,308.9V311.8V306L644,307V302.7V311.4L645.6,307.7V310.3V305.1L647.2,305.9V301.8V310L648.8,309.5V313.5V305.4L650.4,307.8V304.8V310.9L652,309.3V312.8V305.8L653.6,308.4V303.5V313.3L655.2,310.4V314.9V305.9L656.8,307.8V304V311.6L658.4,309.3V311.8V306.7L660,308.6V304.6V312.5L661.6,309.3V311.8V306.7L663.2,306.7V304V309.4L664.8,307.6V312.2V303L666.4,308.2V302.6V313.9L668,308.7V312.5V305L669.6,308.4V304.6V312.2L671.2,306.3V311.3V301.3L672.8,309.8V305.4V314.2L674.4,308.6V311.6V305.7L676,307.4V304V310.9L677.6,306V309V302.9L679.2,305.3V301.4V309.3L680.8,307.8V310.9V304.8L682.4,308.5V306V311L684,306.8V309.2V304.5L685.6,305.3V299.4V311.1L687.2,307.2V309.7V304.6L688.8,306.6V303.8V309.4L690.4,302.8V306.8V298.8L692,306.2V302.6V309.8L693.6,306.2V308.9V303.4L695.2,305.5V300.9V310.1L696.8,306.9V309.8V304.1L698.4,305.4V302.7V308L700,305.2V307.7V302.8L701.6,306V303.3V308.7L703.2,305.6V308.6V302.5L704.8,307.4V303.2V311.5L706.4,304.7V308.8V300.6L708,304.3V300.5V308.2L709.6,306.2V309.1V303.4L711.2,305.6V301.7V309.5L712.8,306.8V309.7V303.9L714.4,305.7V302.5V308.9L716,308.4V312.7V304L717.6,307.3V303V311.6L719.2,305.8V309.2V302.5L720.8,304.6V300.6V308.7L722.4,305.1V308.7V301.6L724,306.3V303.3V309.3L725.6,306V309.8V302.1L727.2,307.1V304.3V309.8L728.8,307.8V310.1V305.5L730.4,307V304.3V309.7L732,305.4V308.1V302.6L733.6,306.2V303.5V308.8L735.2,307.1V310.1V304.2L736.8,307.5V304.9V310.1L738.4,309.4V313.4V305.4L740,307.3V304.7V309.9L741.6,306.1V308.9V303.3L743.2,308.3V305.5V311L744.8,307.8V313.4V302.3L746.4,306.5V304.2V308.9L748,306V309.2V302.8L749.6,308.8V305.2V312.4L751.2,308.7V313V304.5L752.8,307.2V304.9V309.5L754.4,307.2V311.3V303.2L756,308.1V304.9V311.3L757.6,306.7V311.7V301.7L759.2,307.7V304.2V311.2L760.8,305.9V308.2V303.6L762.4,306.2V303.5V308.9L764,305.6V308.1V303L765.6,306.2V303.7V308.6L767.2,307V309.5V304.5L768.8,305.3V302.7V308L771.2,306.5V340L772.6,340.2V336.6V343.7L774.2,338.5V342.7V334.3L775.8,339.8V336.6V342.9L777.4,339.2V341.7V336.6L779,340.4V336.4V344.4L780.6,340.3V343.7V336.8L782.2,341.5V338.4V344.6L783.8,338.3V342.9V333.7L785.4,338.8V334.6V342.9L787,340.4V343.8V337L788.6,340.5V337.2V343.8L790.2,340.2V344.2V336.1L791.8,339.9V335.9V344L793.4,341V343.9V338L795,340.9V337.9V343.9L796.6,338.8V343.6V334L798.2,338.6V333.6V343.7L799.8,338.9V342.5V335.3L801.4,341.2V337.6V344.8L803,343V346.9V339L804.6,342.6V337.3V347.8L806.2,340.4V343.1V337.8L807.8,339.6V337V342.1L810.1,340V452L811.3,415.5V417.1V413.9L812.5,413.2V410.6V415.9L813.7,409.9V412.1V407.6L814.9,409.8V406.8V412.9L816.1,408.3V409.8V406.8L817.3,407.3V405.7V408.9L818.5,406V407.7V404.3L819.7,406.2V402.4V410.1L820.9,406.7V408.3V405L822.1,406V403.2V408.7L823.3,406V407.4V404.6L824.5,406V404.2V407.7L825.7,405.9V407.4V404.4L826.9,405V402.3V407.6L828.1,407V409.4V404.6"/>
<path d="M149.5,397.9L149.5,396.3V392.3V400.2L151.1,397.2V399.7V394.7L152.7,395.5V391.2V399.8L154.3,395.7V399.7V391.7L155.9,396.8V392.9V400.8L157.5,398.9V403.4V394.4L159.1,398.5V395.4V401.7L160.7,398.2V401.4V395L162.3,395.5V390.4V400.6L163.9,398.5V401.3V395.6L165.5,397.9V394.9V400.9L167.1,399.9V403.8V396.1L168.7,398.8V395.7V402L170.3,399.5V404.4V394.6L171.9,396.8V393.1V400.5L173.5,396.7V400.6V392.9L175.1,396.7V394.1V399.4L176.7,396V400.8V391.2L178.3,398V395.7V400.3L179.9,398.1V400.9V395.2L181.5,396.7V392.4V400.9L183.1,398.1V401.1V395.1L184.7,398.3V395.9V400.7L186.3,398.3V401.5V395.2L188.7,399.9V292.1L189.6,352V348.1V355.9L191.2,347.8V351.5V344L192.8,350.8V347.6V354.1L194.4,351.3V354.6V348L196,348.8V345.9V351.8L197.6,347.8V350.1V345.6L199.2,349V346.1V351.9L200.8,347.8V352.1V343.6L202.4,349.3V346.7V351.9L204,348V350.9V345.2L205.6,347.6V345V350.2L207.2,347.4V351.4V343.4L208.8,348.2V346V350.4L210.4,346.2V350.5V341.9L212,347.7V345.2V350.2L213.6,346.9V350.9V343L215.2,346.5V343.7V349.3L216.8,343.6V346.9V340.3L218.4,343.6V340.4V346.9L220,344.3V347.5V341.1L221.6,345.5V342.7V348.4L223.2,342.8V347.2V338.5L224.8,342.3V339.5V345.2L226.4,343.1V345.9V340.4L228,346.2V342.1V350.2L229.6,342.6V346.5V338.7L231.2,343.6V341.3V345.9L232.8,344.8V348.7V341L234.4,343.7V341.1V346.3L236,341.1V345.1V337.2L237.6,342.1V338.4V345.9L239.2,342.2V345.4V339L240.8,342.2V339.4V345L242.4,344.7V348.7V340.7L244,342.4V339.4V345.4L245.6,339.2V343.9V334.6L247.2,341.2V338.7V343.6L248.8,343V345.9V340.1L250.4,342.2V338.6V345.8L252,342.2V344.8V339.5L253.6,342.6V338.5V346.8L255.2,340.6V346.6V334.7L256.8,341.7V338.6V344.8L258.4,341.6V345.8V337.3L260,342.8V339.1V346.4L261.6,341.9V346.6V337.3L263.2,341.4V339V343.7L264.8,342.3V346V338.6L266.4,341V337.2V344.8L268,342.1V345.4V338.8L269.6,341.2V337.3V345.1L271.2,341.7V344.5V338.8L272.8,339.5V335.4V343.6L274.4,341.5V345.1V337.9L276,341.8V338.4V345.3L277.6,340.7V343V338.4L279.2,340.5V337.7V343.4L280.8,340.3V342.8V337.9L282.4,340.9V338.6V343.3L284,340.3V343.8V336.7L285.6,341.1V338.8V343.3L287.2,339.9V343.9V335.9L288.8,343.6V340.6V346.7L290.4,342V345.7V338.3L292,341.5V337.1V345.9L293.6,341.9V344.8V339.1L295.2,340.4V337.5V343.3L296.8,340.5V343.4V337.6L298.4,338.6V334.3V342.9L300,339.2V342.1V336.3L301.6,342.2V338.1V346.3L303.2,341.3V344.2V338.4L304.8,339.3V335.6V342.9L306.4,340.8V343.5V338L308,340.4V338V342.8L309.6,339.9V343.7V336.1L311.2,341.4V338.5V344.3L312.8,341.5V345.3V337.7L314.4,339.9V336.6V343.3L316,341V344.9V337.1L317.6,340V337.5V342.4L319.2,340.7V343V338.4L320.8,340.8V338.6V343L322.4,340.2V342.5V337.9L324,338.6V334.5V342.8L325.6,342.8V346.9V338.7L327.2,339.9V337.1V342.6L328.8,339.6V342.3V337L330.4,340.4V336.8V343.9L332,341.2V344.4V338L333.6,340.3V337.1V343.6L335.2,341.9V345.9V337.9L336.8,339.1V336.5V341.7L338.4,339.9V342.6V337.2L340,341.9V338.4V345.4L341.6,340.2V344.1V336.2L343.2,338.9V336.7V341.1L344.8,338.6V342.8V334.4L346.4,340.5V337.9V343.1L348,340.8V346.1V335.6L349.6,339V334.9V343.2L351.2,341V345.1V336.9L352.8,338.2V335.2V341.3L354.4,338.8V341.3V336.4L356,337.6V335V340.2L357.6,338.3V341.1V335.4L359.2,340V335.1V344.9L360.8,338.3V340.8V335.8L362.4,338.2V335.6V340.7L364,336.7V340.6V332.8L365.6,338.8V334.3V343.3L367.2,339.2V341.8V336.6L368.8,338.3V335.4V341.1L370.4,337.9V340.6V335.2L372,337.7V335.4V340L373.6,339.7V342.7V336.7L375.2,339.4V336.8V342L376.8,337.9V340.5V335.4L378.4,337.3V335.2V339.4L380,339.1V342.5V335.8L381.6,338.7V335.8V341.5L383.2,340.6V344.9V336.2L384.8,338.2V335.3V341.2L386.4,339.3V342.9V335.7L388,339.7V337V342.3L389.6,339.7V341.9V337.5L391.2,338.4V334.3V342.5L392.8,336.5V338.9V334.1L394.4,339.2V336V342.4L396,337.8V341.5V334L397.6,336.4V333.4V339.4L399.2,336.2V341.8V330.6L400.8,338.7V334.6V342.8L402.4,336.8V339.5V334.1L404,339.2V335.2V343.2L405.6,338.3V340.8V335.8L407.2,339.9V336.3V343.5L408.8,335.8V339.2V332.5L410.4,335.9V330.3V341.4L412,338.1V341.2V334.9L413.6,337.7V334.1V341.3L415.2,337.8V341.2V334.4L416.8,335V331V338.9L418.4,335.5V337.9V333.1L420,337.1V333.4V340.8L421.6,339.2V342.5V335.8L423.2,337.1V334.3V340L424.8,339.2V344V334.4L426.4,337.1V334.4V339.7L428,337.1V340V334.2L429.6,337.7V333.4V342L431.2,336.6V339.3V334L432.8,338.9V335.4V342.5L434.4,337.6V340.4V334.9L436,336.9V334.4V339.4L437.6,337V340.5V333.4L439.2,336.4V333.7V339.1L440.8,338.7V343.3V334.1L442.4,336.3V332.9V339.7L444,333.9V338.4V329.3L445.6,337.1V333.3V340.9L447.2,337.3V341V333.6L448.8,338V334.8V341.2L450.4,337.7V340.3V335L452,335.8V332.2V339.4L453.6,339.1V343.3V335L455.2,337.5V334.5V340.5L456.8,337.4V341V333.9L458.4,336.3V333.6V339L460,334.6V337V332.2L461.6,333.5V331V335.9L463.2,334.6V337.6V331.5L464.8,334.9V332.6V337.2L466.4,337.3V341.5V333.1L468,336.6V334.2V339L469.6,336.5V339.1V333.9L471.2,336.5V334.1V339L472.8,336.6V340V333.2L474.4,335.8V333.2V338.3L476,334.1V338.6V329.5L477.6,335V332.5V337.4L479.2,333.2V338V328.4L480.8,336.2V332.3V340.2L482.4,333.4V337.3V329.6L484,335V332.3V337.7L485.6,335.7V339.7V331.8L487.2,334.4V331.6V337.1L488.8,336.9V340.4V333.3L490.4,337.4V335.1V339.6L492,335V337.4V332.6L493.6,334.5V330.9V338.2L495.2,335.5V338.1V332.8L496.8,335.9V332V339.8L498.4,335.1V337.3V332.9L500,334.4V331V337.7L501.6,336V340.2V331.9L503.2,334.3V330.9V337.8L504.8,334.2V336.9V331.6L506.4,335.8V332.8V338.8L508,336.7V339V334.4L509.6,333.7V331V336.5L511.2,332.3V335.9V328.6L512.8,335.2V331.3V339.2L514.4,333.9V337.4V330.4L516,334.3V330.1V338.6L517.6,334.5V337V332L519.2,333.9V330.3V337.4L520.8,336.2V339.2V333.1L522.4,334.1V331.8V336.5L524,335.3V339.9V330.8L525.6,336.7V333.5V339.9L527.2,333.1V336.6V329.6L528.8,332.7V328.6V336.8L530.4,335.9V340V331.8L532,334.3V331.6V337L533.6,333.6V337V330.2L535.2,333.8V329.5V338L536.8,333.3V336.4V330.2L538.4,334V330.9V337.1L540,335.1V339V331.2L541.6,335.2V332.2V338.3L543.2,334.4V337.1V331.7L544.8,334.7V332.1V337.2L546.4,334.6V336.9V332.2L548,333.5V330.7V336.4L549.6,335.7V339.6V331.9L551.2,333V329.5V336.4L552.8,334.9V338.4V331.4L554.4,333.1V330.7V335.5L556,335.1V337.1V333L557.6,337V333.5V340.6L559.2,334.2V336.8V331.7L560.8,334V331.6V336.3L562.4,334.9V337.4V332.4L564,335.1V332.4V337.9L565.6,335.5V338.9V332L567.2,332.1V328.7V335.5L568.8,334.2V337V331.4L570.4,332.3V327.7V336.8L572,334.5V338.8V330.1L573.6,335.9V331.9V339.8L575.2,333.1V337.8V328.4L576.8,335.7V331.4V340L578.4,332.1V334.9V329.3L580,334V330.7V337.2L581.6,335V337.8V332.3L583.2,335.9V332V339.7L584.8,332.6V335.3V330L586.4,332.9V330.6V335.3L588,333.9V337V330.8L589.6,332.6V330.1V335.2L591.2,333.2V336.3V330L592.8,336V333V339.1L594.4,332.6V335.8V329.3L596,332.9V326.9V338.9L597.6,334.7V339.1V330.2L599.2,334.5V331.7V337.2L600.8,335.3V338.4V332.2L602.4,335.4V331.3V339.4L604,333.1V335.6V330.7L605.6,334.5V331.9V337L607.2,334.2V336.8V331.6L608.8,333.4V330.9V335.8L610.4,333.5V336V331L612,332.9V330V335.9L613.6,334.7V338.1V331.2L615.2,336.3V332.3V340.3L616.8,333.5V336.7V330.2L618.4,331.7V329V334.5L620,332.8V336V329.6L621.6,334.6V329V340.1L623.2,333.5V335.8V331.2L624.8,333.5V330.9V336L626.4,331.8V335.8V327.8L628,334.3V330.2V338.4L629.6,332.6V335.1V330L631.2,333.2V330.7V335.8L632.8,334.7V337.3V332.2L634.4,334.5V332.2V336.8L636,334.1V336.7V331.6L637.6,331.7V327.8V335.7L639.2,334.4V337.7V331.1L640.8,337V332.7V341.4L642.4,334.6V336.7V332.4L644,332.5V330.2V334.8L645.6,334.2V337.1V331.4L647.2,334.3V330.5V338.2L648.8,331.2V335.4V327L650.4,331.3V328.5V334.1L652,333.5V336.2V330.8L653.6,334.5V332V337.1L655.2,333.6V336.2V331L656.8,334.2V331V337.5L658.4,334V337.6V330.5L660,332.7V330.3V335.1L661.6,332.8V335.6V330.1L663.2,330.1V327.4V332.8L664.8,331.2V333.6V328.9L666.4,330.7V326.2V335.3L668,330.4V333V327.8L669.6,331.7V328.3V335.1L671.2,331.8V334.4V329.3L672.8,332.1V329.6V334.6L674.4,331.4V333.6V329.2L676,329.7V326.2V333.1L677.6,330.6V333.6V327.6L679.2,332.8V329.4V336.3L680.8,333.7V337.6V329.8L682.4,334.1V330.1V338L684,332V334.6V329.4L685.6,331.2V327.7V334.8L687.2,331.9V335.6V328.3L688.8,332.2V329.9V334.5L690.4,332V334.4V329.6L692,330.4V326V334.8L693.6,332.7V336.7V328.7L695.2,331.1V327.6V334.5L696.8,332.4V335.8V328.9L698.4,331V327.3V334.7L700,332.5V335V329.9L701.6,331.7V329.3V334.1L703.2,332V336.1V328L704.8,331.9V328.4V335.4L706.4,332.4V336V328.8L708,330.4V327.1V333.6L709.6,331.3V333.7V328.9L711.2,330.7V327.6V333.7L712.8,333.3V337.6V329L714.4,330.4V327.8V332.9L716,329.1V332.7V325.5L717.6,330.9V327.8V334L719.2,332V336.3V327.8L720.8,330.7V326.9V334.5L722.4,332V334.7V329.3L724,332.6V329.3V335.9L725.6,329.5V331.9V327L727.2,331.2V328.5V334L728.8,332.8V335.1V330.5L730.4,330V326.5V333.4L732,329.7V333.3V326.2L733.6,331.3V328.7V333.9L735.2,329.9V333.7V326.2L736.8,330.9V328.1V333.8L738.4,331.8V334.9V328.8L740,332.9V329.6V336.2L741.6,330.8V335.9V325.6L743.2,330.8V327V334.7L744.8,332.2V335.2V329.1L746.4,331.7V329.1V334.4L748,331V333.5V328.5L749.6,329.9V327.6V332.3L751.2,329.8V332.5V327.2L752.8,331.1V328.3V333.8L754.4,331.7V335V328.4L756,329.6V325.5V333.6L757.6,330.7V333.2V328.2L759.2,330.7V328.1V333.3L760.8,331.4V335.3V327.4L762.4,332.1V328.7V335.5L764,330.2V333.3V327L765.6,329.5V327.1V331.8L767.2,331.7V335V328.4L768.8,328.6V325.2V332L771.7,330.6V342.5L772.6,344.3V339.7V349L774.2,342.7V346.1V339.4L775.8,344.1V339.4V348.8L777.4,342.3V345.5V339.2L779,341.2V334.8V347.7L780.6,341.4V344.5V338.4L782.2,342.3V339.5V345L783.8,343.1V346.2V340L785.4,342.6V337.8V347.4L787,345.3V349.7V340.9L788.6,342.6V339.1V346.2L790.2,342.7V345.8V339.5L791.8,340.2V336.1V344.3L793.4,343.2V347.8V338.6L795,342.5V338.9V346.1L796.6,339.4V343.9V335L798.2,342.7V338.3V347.2L799.8,344.3V348.8V339.9L801.4,343.3V340.8V345.9L803,342.5V345.9V339.1L804.6,343.9V340.5V347.2L806.2,342.3V348.2V336.4L807.8,342.2V338.8V345.7L810.7,342.5V458L811.3,419.1V420.7V417.5L812.5,415V413.4V416.6L813.7,412.7V414.7V410.8L814.9,412.5V409.9V415.2L816.1,410.7V412.3V409.1L817.3,409.1V406.9V411.3L818.5,409V410.5V407.6L819.7,408.2V405.6V410.8L820.9,408.6V410.7V406.5L822.1,408.2V406.4V410.1L823.3,407.9V410V405.7L824.5,409.1V406.6V411.7L825.7,408V409.6V406.5L826.9,408.2V406.8V409.7L828.1,408.7V410.9V406.5"/>
<path d="M149.5,400.5L149.5,401.4V398.9V403.9L151.1,401.1V405.5V396.6L152.7,398.7V394.3V403.2L154.3,400.4V404.6V396.3L155.9,401.1V397.6V404.7L157.5,400.9V403.8V398L159.1,401.5V397.5V405.5L160.7,398.5V402.6V394.5L162.3,399.9V397.2V402.7L163.9,399.1V402.8V395.4L165.5,398.9V394.5V403.3L167.1,401.6V406.2V397.1L168.7,400V395.9V404L170.3,402.1V405.1V399.1L171.9,402.3V398.7V405.8L173.5,401.9V405.8V397.9L175.1,400.4V394.9V405.9L176.7,401.4V405.1V397.8L178.3,400.3V396.9V403.7L179.9,399.7V403.4V396.1L181.5,399.4V395.6V403.2L183.1,401.6V405.5V397.7L184.7,399.4V395.9V402.9L186.3,400.4V403.4V397.4L188.2,402.5V288.4L189.6,360.1V357.7V362.6L191.2,359.1V362.4V355.8L192.8,359.3V357V361.6L194.4,357.2V360.9V353.5L196,359.4V355.2V363.6L197.6,357.2V359.6V354.8L199.2,356.9V354.4V359.4L200.8,356.2V358.9V353.5L202.4,356.1V353.8V358.4L204,358.4V363.3V353.5L205.6,357.6V353.9V361.3L207.2,356.8V359.7V354L208.8,356.8V353.9V359.6L210.4,357.7V362.9V352.4L212,358.7V355.2V362.2L213.6,357.4V361V353.8L215.2,357.1V354.9V359.3L216.8,355.1V359.5V350.7L218.4,357.2V354.6V359.7L220,357.5V361V354L221.6,355.4V352.1V358.6L223.2,355.9V359.1V352.8L224.8,354V350.4V357.6L226.4,355.5V359.1V352L228,354.8V351.4V358.1L229.6,355.1V358.6V351.7L231.2,353.8V351.4V356.3L232.8,354.9V358.5V351.3L234.4,353.9V348.5V359.3L236,352.2V354.8V349.6L237.6,351.7V347.9V355.5L239.2,355.6V359.3V351.8L240.8,355.5V352.6V358.4L242.4,355.7V359.4V352.1L244,354.4V351.4V357.4L245.6,352.8V355V350.7L247.2,353V348.8V357.3L248.8,353.9V356.3V351.6L250.4,354.1V351.7V356.4L252,353.6V356.1V351.1L253.6,354.6V352.4V356.8L255.2,352.1V355.7V348.4L256.8,351.7V348V355.4L258.4,354.1V357.3V351L260,353.2V350.8V355.5L261.6,354.5V358.3V350.7L263.2,353.8V348.9V358.7L264.8,353.4V357.6V349.2L266.4,352.6V349.8V355.3L268,351.2V354.2V348.2L269.6,354V350V358L271.2,355.5V358.2V352.7L272.8,356.2V351.9V360.6L274.4,354.6V357.5V351.6L276,354.4V352.1V356.7L277.6,353.9V356.8V351L279.2,352.3V349.5V355.2L280.8,352V354.8V349.2L282.4,352.4V350.1V354.7L284,353.2V355.6V350.8L285.6,352.6V349.7V355.5L287.2,351.1V353.4V348.9L288.8,354.3V350.7V358L290.4,353.2V356.9V349.5L292,351.1V348.3V353.8L293.6,351.5V354.1V348.9L295.2,351.4V349.2V353.6L296.8,352.8V356V349.7L298.4,351.6V349.2V354L300,351.2V353.6V348.8L301.6,352.4V350V354.8L303.2,352.6V355.2V349.9L304.8,353.6V351.3V355.9L306.4,354.2V357.1V351.3L308,353.5V351V355.9L309.6,353V356.3V349.7L311.2,350.4V345.9V354.9L312.8,351.9V354.4V349.4L314.4,351.9V347.9V355.9L316,351.9V355.6V348.1L317.6,351.4V348.5V354.2L319.2,351.5V355.3V347.8L320.8,351.2V348.8V353.7L322.4,353.1V356.3V349.9L324,354.5V351.2V357.7L325.6,355V358.9V351L327.2,351.8V348.4V355.2L328.8,353.2V356.5V350L330.4,352.5V350.2V354.7L332,353.4V355.9V351L333.6,353.4V348.9V357.9L335.2,351.8V356.3V347.3L336.8,352.7V348.8V356.5L338.4,353.9V357.2V350.5L340,354.2V350.4V358.1L341.6,352.7V355.6V349.8L343.2,351.6V349.2V354.1L344.8,352.4V355.7V349.2L346.4,351V347.9V354.1L348,351.7V355.9V347.6L349.6,350.8V348.2V353.3L351.2,352.4V355.6V349.2L352.8,351.2V348.8V353.5L354.4,350.8V353.7V347.9L356,351V348.8V353.3L357.6,352.1V355V349.1L359.2,352.9V349.8V356.1L360.8,353.3V356.4V350.2L362.4,353.3V349.6V357L364,352.1V354.5V349.6L365.6,352.3V349.6V354.9L367.2,352.8V357.5V348.1L368.8,351.4V348.4V354.4L370.4,352.7V355.1V350.3L372,353.8V349.9V357.6L373.6,352.2V355.7V348.6L375.2,350.1V347.6V352.6L376.8,351.7V354.3V349L378.4,350.9V348.5V353.3L380,350.5V352.6V348.5L381.6,350.3V346.9V353.6L383.2,349.4V353V345.9L384.8,351.4V349V353.8L386.4,352.2V354.5V350L388,349.8V346.5V353.1L389.6,350.4V353.1V347.8L391.2,351.1V348.5V353.7L392.8,352.4V354.6V350.2L394.4,352.5V350.3V354.8L396,352.2V355.1V349.3L397.6,351.9V349.4V354.3L399.2,350.9V354.8V347.1L400.8,352.5V349.4V355.7L402.4,352.3V356.7V348L404,351.2V348V354.4L405.6,351.6V353.8V349.4L407.2,351.6V349.4V353.8L408.8,351.3V353.6V349.1L410.4,352.2V349.7V354.6L412,350.9V353.3V348.6L413.6,351.5V349.1V354L415.2,351.7V356.5V346.9L416.8,351.8V348.9V354.6L418.4,350.9V354.6V347.2L420,351.3V348.5V354.1L421.6,350.9V354.3V347.6L423.2,352.5V349.8V355.2L424.8,352.3V354.6V350L426.4,352.3V350.1V354.4L428,353.4V356.2V350.6L429.6,351.3V346.1V356.6L431.2,350.3V352.7V347.8L432.8,350.8V348.3V353.3L434.4,348.8V353.2V344.4L436,349.5V346.1V352.9L437.6,350.2V353V347.3L439.2,348.7V345.2V352.2L440.8,350.7V354V347.4L442.4,352V349.8V354.2L444,350.7V354V347.4L445.6,351.4V348.2V354.7L447.2,351.5V354.9V348.2L448.8,352.4V350V354.8L450.4,351.6V354V349.2L452,350.8V347.9V353.8L453.6,350.1V353.4V346.8L455.2,351V348.8V353.1L456.8,350.9V353.3V348.6L458.4,353.1V349V357.3L460,351.8V354.2V349.4L461.6,351.5V349V354.1L463.2,350.9V353.2V348.6L464.8,350.9V347.7V354.1L466.4,350.6V353.2V348L468,350.1V347.8V352.3L469.6,350.7V352.9V348.4L471.2,348.9V345.5V352.3L472.8,349.5V351.9V347L474.4,348.8V345.6V352.1L476,351.3V354.8V347.7L477.6,350.1V347.9V352.3L479.2,348.3V352.2V344.4L480.8,350.6V348.1V353L482.4,352.4V355.5V349.2L484,352.9V349.7V356.1L485.6,351.1V353.7V348.5L487.2,350.8V348.3V353.2L488.8,349.8V352.3V347.4L490.4,350.1V346V354.3L492,351.3V353.7V348.9L493.6,351.1V348.7V353.5L495.2,350.4V353.2V347.6L496.8,351.1V348.9V353.2L498.4,351.3V354.1V348.5L500,350.1V347.1V353.1L501.6,348.8V351.9V345.6L503.2,348.8V346.1V351.4L504.8,348.3V352.8V343.9L506.4,348.3V344.4V352.1L508,349.1V353.1V345.2L509.6,350.8V347.9V353.7L511.2,348.5V352.1V345L512.8,349.6V347V352.3L514.4,350.7V353.5V347.8L516,349.4V346.3V352.5L517.6,348.7V354.1V343.3L519.2,350.9V346.7V355L520.8,350.6V353V348.2L522.4,352V348.1V355.8L524,351.4V353.7V349.1L525.6,350.4V347.7V353.2L527.2,350.4V353.2V347.6L528.8,349.4V345.9V352.8L530.4,350.9V353.2V348.6L532,349.9V347.7V352L533.6,348.9V351.4V346.3L535.2,348.8V345.8V351.8L536.8,349V352.5V345.4L538.4,351.1V348.7V353.6L540,349.6V353.3V345.8L541.6,350.3V347.9V352.7L543.2,351V354.2V347.8L544.8,349.1V345.7V352.4L546.4,351V353.9V348.2L548,349.7V347.6V351.8L549.6,349.7V352.6V346.8L551.2,349.9V346.9V352.8L552.8,349.1V354.1V344.2L554.4,349V346.5V351.4L556,349.8V352.5V347L557.6,350.8V348.2V353.5L559.2,349.1V353V345.1L560.8,349.6V346.4V352.7L562.4,351.4V355.7V347.1L564,352.6V348.7V356.6L565.6,348.9V351.3V346.5L567.2,346.6V342.4V350.8L568.8,350.1V355.1V345.2L570.4,350.4V347.9V352.9L572,350.4V352.5V348.4L573.6,351.1V348.8V353.3L575.2,350.6V353.2V348L576.8,349.4V346.6V352.3L578.4,350.7V352.8V348.5L580,351.6V348.4V354.9L581.6,349.1V351.8V346.3L583.2,351V348.4V353.6L584.8,351.6V354.4V348.8L586.4,352V348.1V355.9L588,350.3V353.1V347.6L589.6,349.3V345.4V353.2L591.2,352V354.4V349.6L592.8,351.4V348.7V354.1L594.4,350.3V355.9V344.8L596,351.7V347.9V355.4L597.6,352.9V356.9V348.9L599.2,350.3V346.9V353.7L600.8,349.6V352.8V346.4L602.4,351.1V347.2V355L604,349.5V352V347.1L605.6,349.3V346.7V351.9L607.2,350.1V352.5V347.7L608.8,350.4V347.8V353L610.4,351.5V355.2V347.8L612,349.6V347V352.2L613.6,347.9V351.7V344L615.2,347.7V344.6V350.9L616.8,349.9V352.1V347.7L618.4,349.4V346.6V352.2L620,348.9V352.3V345.5L621.6,349.8V347.5V352.1L623.2,350.3V352.9V347.6L624.8,350.5V347.4V353.6L626.4,349.6V352.3V346.8L628,349.4V347.1V351.7L629.6,348.9V351.4V346.5L631.2,348.7V343.8V353.5L632.8,347.4V350.8V343.9L634.4,351.1V347.2V355L636,348V351.7V344.3L637.6,349.5V346.1V353L639.2,348.5V350.6V346.3L640.8,350.4V347V353.8L642.4,349.3V351.4V347.2L644,347.9V345.2V350.7L645.6,348.6V350.8V346.4L647.2,350.5V346.8V354.3L648.8,350.3V354.3V346.2L650.4,348V345.1V350.9L652,350.6V353.8V347.4L653.6,349.8V346.9V352.7L655.2,348.5V353.1V343.8L656.8,350V347.1V352.8L658.4,350.5V352.8V348.2L660,352.5V349.2V355.8L661.6,351.7V354.2V349.2L663.2,349V347V351.1L664.8,347.3V351.4V343.1L666.4,351V348.3V353.6L668,350.1V353.3V346.9L669.6,350.5V345.5V355.4L671.2,350.5V352.9V348.1L672.8,348.2V344.5V352L674.4,347.9V350.9V344.9L676,348.3V345.9V350.7L677.6,349.2V351.6V346.8L679.2,349.2V346.6V351.8L680.8,347.4V350.5V344.2L682.4,349.3V345.8V352.8L684,349.5V352.6V346.4L685.6,348.6V346.3V350.9L687.2,348.5V351V345.9L688.8,349V344.7V353.3L690.4,349.4V352.3V346.5L692,350.4V348.2V352.7L693.6,350.9V353.5V348.4L695.2,349.6V345.2V354.1L696.8,347.4V350.4V344.5L698.4,348.7V346.6V350.9L700,347.9V351V344.9L701.6,348V343.4V352.7L703.2,349.2V352.8V345.6L704.8,350.1V346.8V353.4L706.4,349.2V352.1V346.3L708,348.9V346.2V351.5L709.6,348.3V350.6V346L711.2,348.4V345.5V351.3L712.8,349.3V352.3V346.3L714.4,351V346.6V355.4L716,350.6V352.9V348.2L717.6,348.3V344.6V352.1L719.2,347.3V350.7V343.9L720.8,349.3V345.3V353.2L722.4,348.6V351.2V345.9L724,347V343.7V350.2L725.6,346.4V349.5V343.3L727.2,346.6V343V350.2L728.8,347.5V350.9V344.1L730.4,349.8V346.6V353L732,349V351.7V346.3L733.6,349.3V346.7V351.8L735.2,349.3V352.3V346.4L736.8,348.9V346.8V351.1L738.4,349.7V352.6V346.9L740,349.7V346.8V352.5L741.6,347.3V350.3V344.2L743.2,348.1V345.7V350.5L744.8,348V350.9V345.2L746.4,348.7V343V354.3L748,349V351.4V346.6L749.6,350.1V346.8V353.5L751.2,348.6V351.3V345.9L752.8,348.9V344.7V353.1L754.4,348.1V351.2V344.9L756,350.3V346.9V353.8L757.6,347.1V350.4V343.7L759.2,348.6V346.3V350.8L760.8,348.3V351V345.5L762.4,350.4V346.9V353.8L764,350V352.5V347.5L765.6,349.1V346.5V351.7L767.2,349.5V353.5V345.5L768.8,349.7V346.1V353.2L771.2,348.6V344.5L772.6,342.4V337.4V347.4L774.2,343.9V347.2V340.5L775.8,344.4V341.8V347.1L777.4,344.6V348.3V340.9L779,344.6V341.7V347.5L780.6,345.3V348V342.5L782.2,346V343.4V348.6L783.8,346.1V350.3V342L785.4,346V342.5V349.6L787,345.7V351.9V339.6L788.6,345.6V341.2V349.9L790.2,344.4V349V339.8L791.8,342.7V336.5V348.9L793.4,344V346.6V341.4L795,343.3V340.8V345.8L796.6,343.1V346.3V339.8L798.2,343.9V337.7V350.1L799.8,344.1V349.3V338.9L801.4,345V342V348L803,343.4V347.1V339.6L804.6,344.1V341V347.3L806.2,344.3V347.5V341.1L807.8,343.4V340.6V346.2L810.1,344.5V464L811.3,423.4V424.9V421.9L812.5,418.8V417.1V420.6L813.7,416.2V418.2V414.2L814.9,414.7V412.8V416.6L816.1,413.4V416.3V410.5L817.3,411.8V410.1V413.6L818.5,412.1V414.3V409.8L819.7,410.6V408.5V412.6L820.9,410.2V413.4V407L822.1,410.3V408.2V412.3L823.3,411.2V413.5V409L824.5,411.9V409.7V414.1L825.7,409.2V411.9V406.5L826.9,411.4V408.9V413.8L828.1,410V411.9V408.2"/>
<path d="M149.5,403.2L149.5,403.2V400.2V406.2L151.1,402.8V405.2V400.3L152.7,401.7V398.1V405.3L154.3,403.1V405.9V400.3L155.9,404.4V400.4V408.3L157.5,402.8V405.5V400.2L159.1,403.6V400.4V406.8L160.7,403.8V406.4V401.3L162.3,404.4V401.8V406.9L163.9,406V409.8V402.2L165.5,407.4V402.5V412.3L167.1,404.9V409.1V400.8L168.7,404.3V401.8V406.9L170.3,402.5V405.1V400L171.9,402.8V400V405.6L173.5,401.9V404.9V398.8L175.1,404.8V400.6V409L176.7,402.7V405.5V400L178.3,402.1V399.3V404.9L179.9,402.7V405.6V399.8L181.5,401.4V397.9V404.9L183.1,402.4V405.4V399.5L184.7,403.9V400.1V407.6L186.3,403V405.6V400.4L188.7,405.2V291.5L189.6,365.9V361.2V370.6L191.2,368.5V371.9V365.1L192.8,365.9V363.8V368L194.4,365.2V369V361.4L196,366.3V360.7V371.8L197.6,366.7V369.2V364.3L199.2,367.7V365.1V370.3L200.8,367.2V371.7V362.8L202.4,366.3V363.2V369.3L204,364.4V367.7V361.1L205.6,363.6V359.5V367.8L207.2,363.6V367.7V359.5L208.8,365.8V363.3V368.3L210.4,366.6V370.6V362.6L212,363.4V360.7V366.2L213.6,364V366.8V361.2L215.2,362.7V360.5V364.9L216.8,362.3V365.6V359L218.4,363.6V360.4V366.8L220,364.9V367.8V362.1L221.6,363.3V359.8V366.7L223.2,364.3V366.4V362.2L224.8,363.1V360.9V365.2L226.4,364V366.4V361.6L228,363.4V359.9V366.9L229.6,363.8V366.4V361.2L231.2,363.7V360.7V366.6L232.8,363.4V366.2V360.6L234.4,361.9V357.6V366.2L236,363V365.7V360.3L237.6,363.6V361.4V365.7L239.2,363.9V366V361.8L240.8,365.4V362.1V368.7L242.4,364.1V366.3V361.9L244,363.7V361.2V366.1L245.6,364.2V366.2V362.3L247.2,363.8V360.4V367.3L248.8,363.8V366.9V360.8L250.4,362.3V359.5V365.1L252,363.2V365.5V361L253.6,364.6V361.1V368.1L255.2,364.4V366.6V362.3L256.8,365.2V362.7V367.8L258.4,364.2V366.3V362.2L260,363.4V361V365.9L261.6,365.5V369.8V361.3L263.2,364.5V362.1V366.9L264.8,363.7V366.3V361.1L266.4,363.3V360.9V365.7L268,363.3V365.8V360.7L269.6,364V361.8V366.3L271.2,362.8V367.9V357.7L272.8,361.4V358.9V363.8L274.4,363.1V365.7V360.5L276,364.2V361.1V367.3L277.6,364.5V366.9V362.2L279.2,364.7V360.1V369.3L280.8,363.7V365.9V361.6L282.4,362.5V359.2V365.9L284,363.9V366.4V361.5L285.6,362.1V358.3V365.9L287.2,362.4V364.5V360.3L288.8,363V360.3V365.8L290.4,363.2V365.6V360.8L292,363.2V360.5V366L293.6,361.5V365.1V357.8L295.2,363V360.7V365.3L296.8,363.9V366.8V361L298.4,364V360.8V367.3L300,362.1V364.7V359.6L301.6,363.6V360.1V367L303.2,364V367.2V360.8L304.8,364.2V360.8V367.5L306.4,363.7V368.8V358.7L308,361.8V358.7V364.9L309.6,361.6V364V359.3L311.2,360.7V356.6V364.8L312.8,361.6V365.4V357.8L314.4,361.3V357.9V364.7L316,363.6V366.9V360.4L317.6,362.9V359.7V366.1L319.2,364.1V367.1V361L320.8,362.1V359.2V365L322.4,362.8V365.7V359.9L324,361.6V359.1V364.1L325.6,362.1V364.4V359.9L327.2,364.1V360.8V367.4L328.8,364V366.2V361.8L330.4,364V362V366L332,362.8V365.1V360.4L333.6,362.7V359.7V365.7L335.2,364.8V368.5V361.2L336.8,364.5V362.3V366.7L338.4,361.9V364.1V359.7L340,360.7V358.6V362.9L341.6,362V364.2V359.8L343.2,363.6V361.6V365.7L344.8,364.4V367.4V361.5L346.4,361.8V358.3V365.3L348,362.4V366.9V357.8L349.6,363.3V361.1V365.6L351.2,363.4V367V359.7L352.8,361.8V359.4V364.2L354.4,361.3V365.6V357.1L356,361.3V358.8V363.8L357.6,362V364.1V360L359.2,361.5V357.8V365.1L360.8,362.7V365.9V359.6L362.4,362.3V360V364.6L364,362.3V365.5V359.2L365.6,362.5V357.9V367L367.2,361.1V365.2V357L368.8,360.3V357.3V363.2L370.4,361.8V364.8V358.7L372,363.3V361.2V365.3L373.6,362.8V366.1V359.6L375.2,362.2V359.5V364.9L376.8,360.6V364.3V357L378.4,361.6V359.2V364.1L380,364.3V367.7V361L381.6,363V359.5V366.6L383.2,361.9V364.1V359.7L384.8,362.5V359.9V365L386.4,363.4V366.8V360.1L388,361.3V359.1V363.6L389.6,362V364.4V359.5L391.2,362.4V357.7V367.1L392.8,361V363.3V358.8L394.4,360.5V355.3V365.8L396,363.2V365.2V361.2L397.6,365.1V361.7V368.4L399.2,362.8V365.6V360L400.8,362.6V358.3V366.9L402.4,360.2V363.6V356.7L404,362.4V360.1V364.6L405.6,362.6V365.2V360L407.2,362V359.7V364.3L408.8,361.3V363.5V359.2L410.4,363V360.7V365.3L412,362.4V365V359.9L413.6,363.1V359.7V366.6L415.2,361.4V363.7V359.1L416.8,360V356.9V363.1L418.4,361V363.5V358.5L420,362.6V360.1V365.1L421.6,362.7V365V360.4L423.2,363V360.5V365.5L424.8,362.3V364.4V360.2L426.4,362.3V359.1V365.4L428,362V364.6V359.3L429.6,363.1V359.3V366.9L431.2,359.8V362.3V357.3L432.8,361V358.4V363.6L434.4,362.2V365.3V359.1L436,361.1V358.8V363.4L437.6,362.1V366.8V357.3L439.2,362.8V359.5V366L440.8,362.1V365.1V359.1L442.4,360.1V357.9V362.3L444,358.8V361.7V355.9L445.6,361.5V357.8V365.2L447.2,361V363.3V358.7L448.8,361V358.1V363.9L450.4,362.5V365.4V359.6L452,363.1V360.4V365.7L453.6,362.1V364.1V360.1L455.2,360.2V356.3V364.2L456.8,361.7V363.9V359.5L458.4,362V359.6V364.4L460,361.3V363.3V359.3L461.6,362.1V359.8V364.5L463.2,362.7V364.9V360.5L464.8,363.3V361V365.7L466.4,362.1V365.5V358.8L468,361.2V357.3V365.1L469.6,362.4V366V358.8L471.2,362V359.6V364.4L472.8,361.8V364.6V359L474.4,362.5V360V365L476,361.5V364V358.9L477.6,363.1V359.9V366.4L479.2,362.3V364.8V359.7L480.8,362.3V359.6V365L482.4,361.8V364.1V359.4L484,361.3V359.2V363.4L485.6,362.8V366.2V359.3L487.2,361.4V359.1V363.7L488.8,361.7V364.1V359.3L490.4,361.1V356.7V365.5L492,360.9V363.2V358.6L493.6,360.6V358.4V362.8L495.2,361.5V363.6V359.4L496.8,361.2V357.8V364.5L498.4,362.6V364.5V360.7L500,362.3V358.9V365.7L501.6,360.6V363.2V358L503.2,360.4V358.2V362.6L504.8,360V362.1V357.8L506.4,360.7V357.3V364.2L508,362.6V365.4V359.9L509.6,362.1V358.4V365.7L511.2,361V363.1V358.9L512.8,359.5V355.7V363.3L514.4,361.5V364.4V358.5L516,363.3V359.6V367L517.6,360.4V363.5V357.4L519.2,361.5V358.8V364.3L520.8,361.4V364V358.8L522.4,360.6V357.1V364L524,360.8V364.3V357.2L525.6,361.1V357.3V364.9L527.2,363.3V367.3V359.3L528.8,361.3V357.6V365.1L530.4,360.4V363V357.9L532,360.9V358.6V363.3L533.6,361V363.2V358.8L535.2,362.3V358.9V365.7L536.8,359.9V363.2V356.6L538.4,360.6V358.5V362.8L540,363V366.6V359.3L541.6,361.3V359.1V363.5L543.2,362.6V366.2V359L544.8,361.2V357.3V365L546.4,360.5V362.5V358.6L548,359.2V356.4V362L549.6,360.5V365.2V355.7L551.2,360.1V356.6V363.7L552.8,360.2V363.1V357.3L554.4,362.2V358.6V365.8L556,362.1V366V358.3L557.6,362.2V360.1V364.3L559.2,360V363.4V356.6L560.8,360V357V363L562.4,360.8V363.1V358.5L564,361.9V359.1V364.8L565.6,363.3V366.8V359.7L567.2,361.6V359.4V363.7L568.8,359.4V362.6V356.3L570.4,359.8V356.9V362.6L572,360.7V362.8V358.5L573.6,361.3V359.3V363.3L575.2,361.2V363.7V358.8L576.8,361.3V359.2V363.4L578.4,361.2V363.8V358.6L580,363.6V360V367.1L581.6,363.2V366.1V360.3L583.2,361.6V357.5V365.8L584.8,360.1V363.5V356.8L586.4,360.2V357.5V362.8L588,360V363.3V356.8L589.6,360.9V357.8V364L591.2,361.3V364.2V358.3L592.8,363.2V359.5V367L594.4,359.2V363V355.4L596,360.4V355.7V365.1L597.6,362V365.3V358.8L599.2,360.3V358.3V362.4L600.8,360.4V362.7V358L602.4,360.5V356.3V364.6L604,361V363.3V358.7L605.6,361V358.9V363.1L607.2,361V364.1V358L608.8,360.2V356.5V363.8L610.4,360V362.8V357.2L612,361.9V359.6V364.1L613.6,361.7V364.1V359.4L615.2,362.7V360.3V365.1L616.8,360.9V363V358.8L618.4,360.4V354.8V366.1L620,359.9V364.2V355.7L621.6,359.7V357.6V361.8L623.2,360.9V363.2V358.7L624.8,360.6V357.4V363.7L626.4,361.7V364.5V358.9L628,362.1V359.1V365.1L629.6,360.2V362.5V357.8L631.2,361.2V358.7V363.7L632.8,364V367.4V360.7L634.4,362.4V360V364.8L636,362.2V364.3V360.2L637.6,362.6V360.3V364.8L639.2,362.8V366.7V358.9L640.8,359.3V354.4V364.2L642.4,360.4V362.8V358L644,361.1V358.4V363.7L645.6,359.6V363V356.1L647.2,361.4V358.9V363.9L648.8,361V363.2V358.8L650.4,361.5V359.3V363.7L652,361.9V364V359.8L653.6,359.6V356.2V363L655.2,359.8V362.5V357.1L656.8,358.6V354.8V362.4L658.4,359.4V361.9V356.9L660,360.7V358.5V362.8L661.6,361.8V365.5V358.1L663.2,359.2V357V361.4L664.8,359.3V361.6V357L666.4,361.9V359.8V364.1L668,361.1V364V358.1L669.6,362.1V359.5V364.6L671.2,362.2V364.3V360.1L672.8,361.1V357.4V364.8L674.4,362.1V364.3V360L676,361.5V359V364L677.6,359.2V362.9V355.4L679.2,357V353.3V360.7L680.8,357.7V361.1V354.2L682.4,361.4V357.8V365.1L684,361.3V363.5V359.1L685.6,361.1V358.4V363.9L687.2,360.5V363.8V357.3L688.8,359.8V357.6V362.1L690.4,359V361.4V356.6L692,361V356.5V365.5L693.6,360.8V363.3V358.4L695.2,360.9V355.7V366.1L696.8,360.3V362.5V358.1L698.4,358.2V354.5V361.9L700,360.2V362.6V357.7L701.6,360.1V357.6V362.7L703.2,358.6V363.5V353.7L704.8,361V358V363.9L706.4,360.2V363.6V356.9L708,360.4V357.9V362.9L709.6,360.3V363.2V357.5L711.2,358.8V355.6V362L712.8,360.6V363.3V357.9L714.4,360.1V357.9V362.2L716,360.3V364.9V355.7L717.6,359.3V357V361.6L719.2,359.5V361.7V357.4L720.8,360.5V357.3V363.6L722.4,361.2V364.2V358.2L724,358V353.9V362.1L725.6,360.2V362.4V358L727.2,359.7V357V362.4L728.8,359.3V361.8V356.7L730.4,359.3V357.3V361.3L732,360V362.4V357.5L733.6,361.1V358.8V363.5L735.2,361.6V364.2V359L736.8,361.9V359.3V364.4L738.4,362.6V366.4V358.8L740,359.7V356.3V363.1L741.6,361.5V363.8V359.2L743.2,361.6V359.3V363.9L744.8,361V363.5V358.5L746.4,362.1V358.3V365.9L748,362.5V365.9V359L749.6,360.8V358.9V362.8L751.2,360.6V365.9V355.3L752.8,360.4V358.4V362.4L754.4,360.6V363.7V357.6L756,361.6V359V364.1L757.6,360.9V363.6V358.2L759.2,359.9V357.8V361.9L760.8,360.2V363.1V357.4L762.4,362.9V359.1V366.7L764,359.8V363.1V356.5L765.6,360.5V358.5V362.5L767.2,358.3V361.6V355L768.8,359.3V356.3V362.3L771.7,360.5V346.5L772.6,345.8V342.5V349.2L774.2,344.6V348.4V340.9L775.8,345.8V342.5V349L777.4,347.2V349.8V344.5L779,347.2V343.2V351.2L780.6,346.6V349.5V343.6L782.2,347.2V344.2V350.1L783.8,347.8V351.6V344L785.4,347.8V344V351.7L787,346.9V349.6V344.3L788.6,343.6V338.7V348.5L790.2,345.6V348.5V342.7L791.8,349.3V344.9V353.7L793.4,347.7V354.8V340.7L795,348.2V344.6V351.8L796.6,345.7V349.6V341.8L798.2,345V339.3V350.7L799.8,345.9V349V342.8L801.4,347.2V341.9V352.4L803,346V349V343L804.6,344.9V341.8V348L806.2,346.6V349.9V343.3L807.8,345.8V343.1V348.6L810.7,346.5V470L811.3,426.7V428.3V425.2L812.5,422.2V420.6V423.8L813.7,418.9V420.2V417.5L814.9,416.7V414.9V418.5L816.1,414.5V416.9V412.1L817.3,415V412.2V417.8L818.5,414.5V416.1V412.9L819.7,412.7V410.4V415.1L820.9,413.5V416.3V410.6L822.1,412.6V410.7V414.5L823.3,412.2V414.8V409.5L824.5,412.4V410.2V414.6L825.7,413.6V415.3V411.9L826.9,412.8V410.6V415.1L828.1,411.8V413.6V410"/>
<path d="M149.5,398.9L149.5,400.4V396.6V404.3L151.1,399.1V402.3V396L152.7,400.2V395.4V405L154.3,399.1V402.1V396.1L155.9,399.3V396.1V402.5L157.5,397.3V401.6V392.9L159.1,400.3V395.7V404.8L160.7,396.9V401.4V392.4L162.3,398V394.9V401.1L163.9,399.1V404.5V393.8L165.5,397.6V394.6V400.7L167.1,397V401.2V392.7L168.7,398.4V395.8V401L170.3,399.2V405.4V393L171.9,400.1V396V404.3L173.5,400.3V405V395.7L175.1,399.6V395V404.2L176.7,397V400.9V393.1L178.3,396.3V392.1V400.6L179.9,396.8V401.1V392.4L181.5,399.4V396.8V402L183.1,399.8V403.5V396.1L184.7,398.8V395.8V401.8L186.3,398.9V401.6V396.1L188.2,400.9V288.4L189.6,372.8V371.2V374.5L191.2,373.9V377.3V370.6L192.8,374.6V372.8V376.5L194.4,375.3V377.3V373.3L196,375V372.3V377.8L197.6,375.4V378.8V372L199.2,374.4V372.5V376.2L200.8,372.2V375.3V369L202.4,372.7V370.8V374.6L204,373.2V375.1V371.3L205.6,373.2V369.8V376.6L207.2,373.2V376V370.5L208.8,373.1V370.2V375.9L210.4,374.4V376.8V372.1L212,373.1V371.2V374.9L213.6,373.2V375.1V371.3L215.2,373.3V369.2V377.4L216.8,372.3V375.1V369.6L218.4,373.4V371.6V375.3L220,373.1V375V371.3L221.6,372.6V370.6V374.6L223.2,372.2V375V369.5L224.8,373.8V371.9V375.7L226.4,374.1V377.2V371L228,371.6V368.4V374.8L229.6,371.6V373.9V369.3L231.2,372.9V370.7V375.1L232.8,373.4V375.3V371.5L234.4,372.9V369.6V376.1L236,373.3V375.6V371L237.6,374.1V371.1V377.1L239.2,372.5V374.3V370.7L240.8,372V370.2V373.8L242.4,372.2V375V369.4L244,370.9V369V372.7L245.6,371.9V374V369.7L247.2,371.6V369.8V373.5L248.8,371.3V373.9V368.7L250.4,370.6V368.6V372.5L252,371.5V373.6V369.4L253.6,371.9V369.4V374.4L255.2,372.7V374.7V370.6L256.8,372.6V370.8V374.4L258.4,373.4V376V370.7L260,372.1V369.3V375L261.6,372.5V374.2V370.7L263.2,372.1V370.3V373.8L264.8,372V375V369L266.4,373V371.2V374.8L268,371.1V374.8V367.5L269.6,371.7V369.3V374.1L271.2,370.7V372.9V368.5L272.8,369.9V367.3V372.5L274.4,372.2V374V370.4L276,372.6V370.5V374.7L277.6,372.9V374.5V371.2L279.2,372.1V369V375.2L280.8,372.2V373.9V370.4L282.4,371.9V370V373.8L284,372.3V374.5V370L285.6,372.6V370.4V374.8L287.2,373.4V376.6V370.1L288.8,371.2V369.3V373.1L290.4,369.8V372.8V366.7L292,372.1V370.1V374.2L293.6,373.3V375.5V371.1L295.2,371.6V369.8V373.3L296.8,371.5V373.6V369.5L298.4,372.2V370V374.3L300,372.1V373.7V370.4L301.6,372.8V369.6V376L303.2,372.2V375.2V369.3L304.8,371.1V367.6V374.6L306.4,371.1V373.4V368.9L308,372.8V369.9V375.7L309.6,373.7V376.4V370.9L311.2,372V369.9V374L312.8,371.3V373.4V369.2L314.4,372.6V369.4V375.9L316,372.6V375.8V369.4L317.6,373V370.9V375.2L319.2,372.6V375.1V370.2L320.8,371.5V369.5V373.5L322.4,372.5V374.9V370.1L324,372.3V370V374.7L325.6,372.3V374.8V369.7L327.2,374.3V371.3V377.4L328.8,372.8V374.7V371L330.4,371.8V369.2V374.5L332,371.2V373V369.5L333.6,371.2V368.9V373.4L335.2,372.5V374.6V370.4L336.8,372.1V369.5V374.7L338.4,370.9V374.2V367.5L340,370.9V367.9V373.8L341.6,371.3V375.1V367.6L343.2,371.3V369.2V373.4L344.8,371.9V374.5V369.3L346.4,372.3V369.7V374.9L348,371.5V375.4V367.6L349.6,371.1V369V373.1L351.2,373.5V376.6V370.4L352.8,372.5V369.8V375.2L354.4,372V373.7V370.3L356,373.1V370.5V375.8L357.6,371.7V373.4V370L359.2,371.8V369.6V374L360.8,372.9V374.4V371.3L362.4,371.8V369.5V374.1L364,371V373.7V368.4L365.6,371.5V368.5V374.4L367.2,371.2V372.9V369.4L368.8,371.6V369.7V373.6L370.4,370.8V373.6V368L372,372.5V370.4V374.5L373.6,372.3V374.4V370.2L375.2,370.2V367.4V372.9L376.8,371.9V375.1V368.7L378.4,372V368.8V375.3L380,372.3V374.3V370.4L381.6,370.7V367.2V374.1L383.2,371.8V374.2V369.4L384.8,372.8V370.8V374.8L386.4,372.3V375V369.5L388,373.1V371.2V374.9L389.6,371.9V374.1V369.7L391.2,371.4V369.5V373.4L392.8,372V374V370.1L394.4,371.5V369.5V373.5L396,370.9V373.4V368.3L397.6,371.2V369.3V373.1L399.2,372V373.9V370.1L400.8,371.6V369.2V374L402.4,371.9V375.3V368.5L404,372.9V370.4V375.3L405.6,370.5V373.9V367.1L407.2,370.8V368.1V373.5L408.8,373V375.6V370.5L410.4,372.4V370.6V374.2L412,373.6V375.4V371.8L413.6,373.7V371.3V376.2L415.2,371.8V373.7V370L416.8,371.7V368.9V374.6L418.4,370.8V372.4V369.2L420,371.6V369.3V373.9L421.6,371.5V373.3V369.7L423.2,372.3V370.5V374.2L424.8,372.4V374.2V370.6L426.4,370V367V373L428,371V372.8V369.3L429.6,370.8V368.2V373.3L431.2,371.6V375.5V367.7L432.8,370.7V369V372.4L434.4,370.9V374.1V367.6L436,372.7V370.8V374.5L437.6,371.9V374.5V369.3L439.2,373.1V371V375.2L440.8,373.2V375.8V370.5L442.4,373V370.6V375.3L444,372.7V375V370.5L445.6,372.7V370.5V375L447.2,373.3V376V370.6L448.8,370.9V367.8V373.9L450.4,372.5V376.2V368.7L452,372V369V375L453.6,372.1V374.2V370L455.2,372.1V370.3V373.8L456.8,371.9V373.7V370.1L458.4,371.4V368.7V374.2L460,374V377V371L461.6,371.2V369V373.4L463.2,370.6V373.2V368.1L464.8,371.8V369.7V373.9L466.4,374.5V377.6V371.4L468,372.6V370.5V374.7L469.6,371.9V373.7V370.1L471.2,370.7V367.7V373.6L472.8,372.5V374.2V370.8L474.4,371.2V369.5V373L476,371.5V373.5V369.5L477.6,372.5V370.6V374.4L479.2,373.3V376.7V369.9L480.8,371.4V368.6V374.2L482.4,372.4V376V368.8L484,371.2V369.1V373.2L485.6,370.7V372.8V368.5L487.2,371.2V369V373.4L488.8,370.3V374.1V366.4L490.4,373.2V369.7V376.6L492,371.1V373.3V369L493.6,370.2V367.1V373.4L495.2,371.4V373.9V368.9L496.8,371.2V368.2V374.3L498.4,372.7V374.6V370.8L500,372V370.1V374L501.6,371.6V373.4V369.9L503.2,371.7V369.6V373.9L504.8,371.9V373.7V370.1L506.4,371.8V369.5V374.2L508,371.5V373.2V369.9L509.6,371.3V369.5V373.1L511.2,371.9V374.6V369.2L512.8,372.2V370.3V374.2L514.4,372.7V376V369.5L516,372.5V369.5V375.5L517.6,372.5V374.9V370.2L519.2,371.2V367.9V374.4L520.8,372.8V374.9V370.6L522.4,370.9V368V373.9L524,371.1V372.9V369.2L525.6,370.5V367.9V373.1L527.2,371.3V373.1V369.5L528.8,371.7V368.8V374.6L530.4,373.5V377.2V369.8L532,370.8V368.2V373.4L533.6,370.8V373.5V368.1L535.2,371.5V369.9V373.2L536.8,370.7V372.4V368.9L538.4,370.6V368.2V373.1L540,371.3V373.6V369L541.6,371.8V369.9V373.6L543.2,371.9V373.7V370.1L544.8,372.2V368.5V375.9L546.4,371.5V373.7V369.3L548,372.4V370.5V374.4L549.6,372.1V374.2V369.9L551.2,371.1V369.1V373L552.8,370.9V372.5V369.2L554.4,371.1V369.1V373.2L556,371.3V374V368.6L557.6,370.6V367.4V373.9L559.2,372V373.9V370L560.8,373.3V370V376.5L562.4,371.7V374.1V369.2L564,371.4V369V373.8L565.6,372V373.7V370.3L567.2,370.6V368.8V372.4L568.8,371.5V374.5V368.4L570.4,371.1V367.5V374.7L572,372.2V374.9V369.5L573.6,371.6V369.7V373.5L575.2,371.1V372.9V369.2L576.8,371.5V369.3V373.7L578.4,372.2V375V369.4L580,371.5V369.2V373.8L581.6,369.2V372.2V366.3L583.2,373.5V370.5V376.5L584.8,372.6V374.9V370.4L586.4,371.5V369.5V373.5L588,371.6V373.9V369.3L589.6,371.6V368.3V374.9L591.2,373.1V375.8V370.4L592.8,372.1V370.3V373.9L594.4,372.1V374.2V370L596,372.1V369.8V374.3L597.6,372.8V375.8V369.7L599.2,372.4V370.7V374.1L600.8,374V377.1V370.9L602.4,373V371.3V374.7L604,373.2V377.6V368.8L605.6,373.1V370.4V375.8L607.2,371.2V373.1V369.3L608.8,370.3V368.5V372L610.4,371V375.5V366.5L612,372.3V370.4V374.2L613.6,371.4V373.1V369.7L615.2,370.4V367.7V373L616.8,371.9V373.6V370.2L618.4,371.8V370.1V373.6L620,373.8V377V370.7L621.6,372.6V370.6V374.7L623.2,371.7V374V369.5L624.8,371.3V369.3V373.3L626.4,371.9V373.6V370.2L628,370.4V367.3V373.4L629.6,371.2V373.1V369.3L631.2,371V367.6V374.4L632.8,372.7V374.3V371.1L634.4,371.4V369.6V373.2L636,371.2V373.2V369.2L637.6,371.4V369.5V373.3L639.2,371.2V373.4V369L640.8,373.4V369.8V377L642.4,372.1V374.1V370.2L644,371.7V368.6V374.7L645.6,370.1V372.4V367.8L647.2,371.3V369.5V373L648.8,371.2V373.1V369.3L650.4,372V369.6V374.4L652,370.4V372.6V368.3L653.6,371.2V369.1V373.3L655.2,371.8V373.8V369.8L656.8,371.4V369.5V373.2L658.4,371.4V373.2V369.6L660,370.5V367.3V373.7L661.6,371.4V373.3V369.5L663.2,372.1V370V374.2L664.8,371.3V375.1V367.5L666.4,371.2V366.7V375.7L668,372.1V374.7V369.4L669.6,372.1V370.2V374L671.2,372.2V374.1V370.3L672.8,372.2V369.9V374.4L674.4,371.5V373.4V369.6L676,371.1V368.8V373.3L677.6,370.9V372.6V369.2L679.2,369.5V367.3V371.8L680.8,371V373.6V368.4L682.4,371.2V369.3V373.1L684,371.5V374.3V368.7L685.6,372.3V370.1V374.5L687.2,368.9V371.7V366.1L688.8,369V365.9V372.1L690.4,370.2V371.9V368.5L692,371.7V369V374.5L693.6,370.4V372.7V368.1L695.2,371.3V368.4V374.2L696.8,370.6V372.6V368.6L698.4,369.9V367.7V372.2L700,370.4V373.3V367.4L701.6,370.3V367.8V372.9L703.2,370.1V372.1V368.1L704.8,369.6V367.4V371.8L706.4,370.8V373.6V367.9L708,371.9V369.6V374.1L709.6,371.5V373.4V369.6L711.2,372V368.7V375.3L712.8,371.5V374.4V368.6L714.4,369.6V367.3V372L716,370.7V372.6V368.7L717.6,368.8V365.8V371.8L719.2,370.7V372.7V368.7L720.8,370.2V368.3V372.1L722.4,367.5V370.7V364.3L724,369.6V367.3V371.9L725.6,369.6V372.5V366.7L727.2,370.3V368.3V372.3L728.8,371V373.1V368.9L730.4,370.5V368.5V372.5L732,369.9V371.7V368.2L733.6,369.7V368V371.5L735.2,369.8V371.8V367.8L736.8,372.1V369.1V375.2L738.4,370.4V372.4V368.3L740,370.7V368.8V372.6L741.6,369V371.9V366.2L743.2,369V366.8V371.2L744.8,370.7V372.5V368.8L746.4,369.9V366.8V373L748,370.8V372.8V368.9L749.6,368.9V366.2V371.5L751.2,369.4V371.5V367.3L752.8,369V366.8V371.1L754.4,370.2V373.5V366.9L756,369.7V367.6V371.8L757.6,368.2V371.5V364.9L759.2,369.3V367.5V371.1L760.8,371V373V369L762.4,371V368.5V373.4L764,369.6V372V367.3L765.6,369.8V368V371.7L767.2,369.8V371.7V368L768.8,369.1V367.2V371L771.2,369.9V348L772.6,347V341.8V352.2L774.2,346.6V350.1V343.2L775.8,349.4V345.4V353.5L777.4,350V353.8V346.2L779,347.9V343.5V352.2L780.6,346.1V350V342.3L782.2,348.9V346.2V351.6L783.8,352.1V357V347.1L785.4,349.9V346.9V352.9L787,348.8V351.3V346.3L788.6,349V346.3V351.7L790.2,349V352V345.9L791.8,347.2V344.5V350L793.4,347.3V350V344.6L795,348.5V345.9V351.2L796.6,349V355.2V342.8L798.2,347.8V344.3V351.3L799.8,348.5V352.9V344.1L801.4,348.1V345.3V350.9L803,350.5V355.2V345.7L804.6,349.2V346.2V352.2L806.2,347.7V351.6V343.8L807.8,348V345.3V350.7L810.1,348V476L811.3,430.8V432.3V429.2L812.5,425V423.1V426.8L813.7,420.5V423V418L814.9,420.1V418.6V421.6L816.1,418.1V420.6V415.5L817.3,416.2V414.7V417.8L818.5,415.4V416.9V413.8L819.7,415.1V413.6V416.7L820.9,413.9V416.5V411.2L822.1,415.1V413.6V416.6L823.3,416.2V419.4V413L824.5,416.2V413.7V418.6L825.7,414.4V415.9V412.9L826.9,415.4V413.2V417.6L828.1,415.4V417.1V413.6"/>
<path d="M149.5,401.6L149.5,401.8V399V404.6L151.1,400.2V404.7V395.8L152.7,400.9V396.3V405.5L154.3,401.5V407.2V395.7L155.9,401.3V397.3V405.3L157.5,400.8V403.8V397.9L159.1,402.8V398.6V407L160.7,401.7V406.3V397.1L162.3,402.1V398V406.2L163.9,401V404.2V397.8L165.5,403.6V399.3V407.8L167.1,401.6V405.2V397.9L168.7,401.2V398.2V404.3L170.3,399.3V404.1V394.5L171.9,401.5V398.4V404.7L173.5,400.8V403.5V398.2L175.1,403.2V399.3V407.1L176.7,401.5V404.6V398.5L178.3,403.4V399.1V407.7L179.9,400.8V404V397.5L181.5,401.8V399V404.7L183.1,403V407.3V398.8L184.7,401.9V398.4V405.3L186.3,402.2V405.6V398.7L188.7,403.6V291.6L189.6,380.5V378V383L191.2,378.9V382V375.8L192.8,379.4V377.7V381.1L194.4,379.7V381.8V377.6L196,379.7V375.6V383.8L197.6,380.3V382.7V377.9L199.2,380.5V378.5V382.4L200.8,379.3V381.9V376.7L202.4,380.2V378V382.5L204,379.8V381.4V378.1L205.6,378.3V376.3V380.3L207.2,380.7V383.1V378.2L208.8,381.1V379.3V382.9L210.4,381.5V384.4V378.6L212,379.1V376.4V381.8L213.6,379.7V381.7V377.8L215.2,379.1V375.3V382.9L216.8,378.9V382V375.7L218.4,378.6V375.8V381.5L220,378.9V380.6V377.1L221.6,379.9V378.2V381.5L223.2,380.1V382.3V378L224.8,379.9V378.3V381.6L226.4,380.5V383.4V377.5L228,379.5V377.4V381.5L229.6,379.5V381.5V377.4L231.2,379.3V377.6V381L232.8,379.8V382V377.6L234.4,380.3V377.9V382.7L236,380.5V383.2V377.8L237.6,379.8V377.8V381.8L239.2,380.5V383.4V377.5L240.8,378.4V376V380.8L242.4,379.8V381.5V378.2L244,380.1V378.5V381.7L245.6,380.4V382.5V378.3L247.2,378.3V375.3V381.3L248.8,378.9V380.6V377.3L250.4,378.4V375.5V381.3L252,379.3V381V377.5L253.6,379.7V377.7V381.6L255.2,380.8V382.6V379.1L256.8,380.5V378.7V382.2L258.4,381V383.9V378.1L260,379.5V377.4V381.5L261.6,380.5V383.8V377.1L263.2,380V376.6V383.5L264.8,379.6V381.7V377.5L266.4,380.2V378.4V382L268,379.1V381V377.2L269.6,378.6V376.7V380.5L271.2,380.3V383V377.6L272.8,379.5V377.4V381.6L274.4,380.3V382.1V378.4L276,380.2V378V382.4L277.6,380.7V383.8V377.6L279.2,379.1V376.9V381.4L280.8,380.1V381.7V378.5L282.4,380.8V378V383.6L284,379.2V381.6V376.8L285.6,379.6V377.8V381.4L287.2,379.1V381V377.3L288.8,378.9V376.1V381.7L290.4,379.4V381.9V376.9L292,378.1V375.3V380.8L293.6,378.5V381.3V375.8L295.2,379.9V378.4V381.4L296.8,378.1V381.2V375L298.4,379.2V377.5V380.9L300,379.1V381V377.3L301.6,379.5V377.6V381.4L303.2,378.3V381.5V375.1L304.8,378.7V377V380.4L306.4,379.5V382.1V376.8L308,379.6V378V381.2L309.6,380V381.7V378.3L311.2,381.3V379.3V383.4L312.8,380.8V382.7V379L314.4,380.1V377.8V382.3L316,380V382.3V377.7L317.6,379.7V376.6V382.8L319.2,379.3V382.1V376.6L320.8,380.7V377.9V383.5L322.4,379.5V382.3V376.7L324,379V377.1V380.8L325.6,378.4V380.3V376.4L327.2,378.7V377.1V380.2L328.8,377.5V380.2V374.9L330.4,378.5V375.8V381.2L332,379.6V381.5V377.6L333.6,379V377.2V380.8L335.2,378.1V379.7V376.5L336.8,377.8V375.1V380.4L338.4,378.5V380.3V376.8L340,379.3V377.2V381.4L341.6,379.4V381V377.8L343.2,379.2V376.6V381.9L344.8,379.5V381.6V377.5L346.4,378.1V375.9V380.2L348,378.4V380.1V376.6L349.6,377.8V375V380.7L351.2,378.4V381.4V375.4L352.8,377.6V374.7V380.4L354.4,378.9V381.8V376.1L356,379.1V376.9V381.3L357.6,379.6V381.2V378.1L359.2,379.9V377.2V382.7L360.8,379.7V382.1V377.2L362.4,377V374.3V379.6L364,377.8V379.5V376.1L365.6,378.5V376.8V380.1L367.2,378.2V380.7V375.6L368.8,378.2V375.2V381.1L370.4,380.3V381.9V378.7L372,379.4V377.1V381.7L373.6,379.1V380.9V377.3L375.2,380V376.1V383.8L376.8,379.5V381.2V377.7L378.4,378.4V375.6V381.3L380,378.8V380.7V376.8L381.6,380.1V378.3V381.9L383.2,378.8V381.6V375.9L384.8,378.1V376.5V379.8L386.4,378.8V380.7V376.9L388,379.7V378V381.5L389.6,379.6V381.2V378.1L391.2,379.1V376.1V382L392.8,378.4V381.2V375.6L394.4,377.4V375.2V379.5L396,377.7V379.8V375.6L397.6,378.9V376.4V381.3L399.2,379.8V382V377.5L400.8,378.6V376.4V380.8L402.4,378.6V381.4V375.7L404,379.5V377.6V381.5L405.6,379V381.8V376.3L407.2,378V375.6V380.4L408.8,379.3V381.4V377.3L410.4,380.2V377.9V382.5L412,379V381V377.1L413.6,380.2V377.6V382.9L415.2,378.1V381V375.2L416.8,377.6V375.8V379.4L418.4,377.4V380.4V374.3L420,378.9V375.8V382L421.6,378.1V379.7V376.4L423.2,379.5V377V381.9L424.8,378.7V380.3V377.2L426.4,378.3V375.8V380.9L428,380.1V382.9V377.3L429.6,380V377.7V382.2L431.2,378.3V381.1V375.5L432.8,378V375.5V380.5L434.4,378V379.6V376.4L436,378.3V375.9V380.7L437.6,377.9V379.8V376L439.2,379.1V376V382.3L440.8,377.6V379.2V375.9L442.4,377.5V374.8V380.2L444,379.4V381.2V377.6L445.6,379.1V377.5V380.7L447.2,377.6V379.2V376.1L448.8,378.5V376.8V380.2L450.4,379.7V381.3V378L452,379.3V376.7V382L453.6,379.3V381V377.5L455.2,378.4V376.3V380.6L456.8,378.7V380.5V376.9L458.4,378.7V374.7V382.7L460,379.2V381.2V377.3L461.6,379.8V378.1V381.6L463.2,379.6V381.6V377.7L464.8,377.9V375.2V380.6L466.4,379.4V381V377.9L468,379V377.1V380.8L469.6,378.8V381V376.5L471.2,379.3V376.9V381.8L472.8,379.7V381.3V378L474.4,378V375.3V380.8L476,378.4V381.2V375.5L477.6,379.7V377V382.5L479.2,378.2V381.3V375.2L480.8,377.3V375.3V379.3L482.4,379.2V380.8V377.6L484,380.2V378.1V382.4L485.6,379.2V380.7V377.6L487.2,378.7V377V380.4L488.8,379V381.2V376.8L490.4,379.2V377.6V380.7L492,379.9V382.9V377L493.6,378.7V376.5V381L495.2,380.3V382.6V378.1L496.8,380.3V378.4V382.2L498.4,380.4V382.6V378.3L500,380.3V377.3V383.2L501.6,379.6V381.3V378L503.2,380.6V378.3V382.9L504.8,380.2V384.1V376.4L506.4,378.5V376.1V380.9L508,378.6V380.5V376.7L509.6,379V377V380.9L511.2,378.7V380.6V376.8L512.8,379.5V377.3V381.7L514.4,378.8V380.5V377.1L516,379.9V376.3V383.6L517.6,378.9V381.2V376.6L519.2,379.1V377.5V380.8L520.8,379.4V381.5V377.3L522.4,379.9V377.7V382.1L524,379.8V381.7V377.9L525.6,377.9V375V380.8L527.2,378.7V380.3V377.1L528.8,380V376.2V383.7L530.4,380.6V383.6V377.6L532,379.6V377.7V381.5L533.6,378.6V380.4V376.7L535.2,378.6V376.8V380.4L536.8,379.3V381.2V377.3L538.4,381.2V378.3V384L540,378.8V380.4V377.2L541.6,378.3V376.7V379.9L543.2,378.2V379.8V376.7L544.8,377.7V376V379.5L546.4,379.3V382.6V376L548,379.3V377.3V381.3L549.6,380.1V382V378.2L551.2,379.3V377.6V380.9L552.8,378.5V381.9V375.1L554.4,379.7V377.8V381.6L556,380.3V382.3V378.4L557.6,379.3V376.5V382.2L559.2,380.1V381.9V378.3L560.8,378.6V376V381.2L562.4,379.7V381.2V378.2L564,379.8V378.3V381.3L565.6,379.1V382.4V375.7L567.2,379.3V377.6V380.9L568.8,378.8V380.8V376.7L570.4,379.6V377.2V382L572,381.1V384.6V377.7L573.6,378.8V377V380.6L575.2,378.3V381.2V375.3L576.8,379.4V376V382.9L578.4,379.5V381.5V377.5L580,378.3V375.7V380.9L581.6,380.2V383V377.5L583.2,378.4V376.4V380.3L584.8,379.1V380.9V377.3L586.4,380V378V382.1L588,380.3V383.8V376.8L589.6,378.9V377.3V380.6L591.2,379.6V382.1V377.1L592.8,380.4V378.4V382.5L594.4,381.8V384.9V378.6L596,379.1V376.5V381.7L597.6,380.5V383.3V377.7L599.2,378.9V376.6V381.2L600.8,381.1V384.3V378L602.4,379.4V377.9V380.9L604,379.3V380.9V377.7L605.6,380.8V377.8V383.8L607.2,379.4V381.1V377.8L608.8,380.3V377.8V382.8L610.4,379.8V382.2V377.5L612,378.2V375.5V381L613.6,377.8V380.8V374.9L615.2,379.2V377.1V381.3L616.8,378.1V380.6V375.5L618.4,377.7V374.8V380.7L620,378.2V380.1V376.3L621.6,379.1V376.9V381.2L623.2,379.6V382.8V376.5L624.8,376.8V374V379.6L626.4,378.3V380V376.6L628,380V378.1V382L629.6,379.9V381.6V378.2L631.2,377.4V374.7V380.1L632.8,377.7V380.5V374.9L634.4,380.8V377.8V383.7L636,379.5V381.2V377.9L637.6,379.8V377.6V382L639.2,379.8V381.4V378.1L640.8,380.9V377.7V384L642.4,379.9V381.8V378.1L644,379V376.9V381L645.6,379.2V381.1V377.3L647.2,379V377V381L648.8,380.2V383V377.4L650.4,379V376.8V381.1L652,379.7V382V377.4L653.6,379.7V377.9V381.5L655.2,380V382V377.9L656.8,378.8V376.5V381.2L658.4,379.1V381.5V376.7L660,379.7V377.8V381.6L661.6,380.1V383.5V376.8L663.2,380.2V378.4V382L664.8,380.7V384.1V377.2L666.4,379.3V377.7V381L668,379.4V383.5V375.3L669.6,379.1V376.3V382L671.2,379.9V381.8V377.9L672.8,379.5V376.6V382.4L674.4,379V380.7V377.3L676,377.2V374.1V380.2L677.6,378.7V381.1V376.2L679.2,379.4V377V381.8L680.8,379.8V381.6V378.1L682.4,378.1V375.3V380.8L684,379.3V381V377.5L685.6,378.4V376.3V380.4L687.2,377.2V379.8V374.6L688.8,379.7V377.9V381.6L690.4,379.6V381.4V377.8L692,379.3V376.9V381.7L693.6,378.7V380.5V376.9L695.2,380V377.4V382.7L696.8,378.7V381.5V375.8L698.4,379.5V377.7V381.2L700,379.7V382.1V377.4L701.6,379.1V377.3V380.9L703.2,379.6V381.5V377.8L704.8,379.3V377.8V380.9L706.4,378.6V380.4V376.7L708,378.7V377V380.4L709.6,379.5V381.3V377.6L711.2,379V377.1V380.9L712.8,378.3V380.5V376.2L714.4,377.6V375.9V379.4L716,377.6V379.4V375.8L717.6,378.2V375.8V380.6L719.2,379.6V383.8V375.5L720.8,379.4V377V381.8L722.4,378.7V382.4V375L724,380V377.3V382.7L725.6,379.4V381.1V377.6L727.2,379V376.4V381.6L728.8,379.3V380.8V377.8L730.4,379.3V377.6V381.1L732,378.6V381.4V375.8L733.6,380.5V377.9V383L735.2,380.1V381.9V378.3L736.8,380V377.7V382.4L738.4,379V381.8V376.3L740,380.3V377.1V383.5L741.6,379.4V382.7V376.1L743.2,379.4V377.5V381.2L744.8,379.5V381.1V377.8L746.4,378.5V376.4V380.6L748,379.5V382.1V376.9L749.6,379.1V377.4V380.8L751.2,379.3V381.1V377.5L752.8,379.6V377.7V381.5L754.4,378.7V380.4V376.9L756,377.5V375.3V379.7L757.6,379.6V382V377.2L759.2,379.4V377V381.8L760.8,379.9V382.3V377.6L762.4,379.8V377.9V381.6L764,379.8V381.6V378L765.6,380V376.9V383L767.2,378.9V380.7V377.1L768.8,379.8V378.2V381.4L771.7,379.3V349.5L772.6,348.7V344.3V353L774.2,350.4V354.1V346.6L775.8,347.6V343.7V351.6L777.4,348.3V352.4V344.3L779,348.2V344.4V352.1L780.6,348.6V352.3V344.9L782.2,352.2V347.8V356.6L783.8,349.7V352.5V346.9L785.4,351.1V346.1V356.2L787,351.8V356.2V347.4L788.6,349.5V344.5V354.5L790.2,351.3V357.5V345.2L791.8,351.2V347.9V354.5L793.4,349.6V352.8V346.4L795,348.6V342.4V354.9L796.6,350V356.1V343.8L798.2,350.6V347.4V353.9L799.8,351V355.6V346.4L801.4,347.2V343.3V351.1L803,350.5V354.2V346.8L804.6,350.8V346.5V355L806.2,351.1V353.9V348.2L807.8,349.8V346.4V353.2L810.7,349.5V482L811.3,435.5V437V434L812.5,431.3V429V433.5L813.7,426.1V428V424.2L814.9,422.3V420.2V424.5L816.1,419.6V422V417.2L817.3,419.1V417.6V420.6L818.5,418.5V420.1V416.9L819.7,418.4V416.5V420.2L820.9,417V419.5V414.5L822.1,417.2V415.1V419.3L823.3,417.6V421.5V413.7L824.5,417.3V415.7V419L825.7,415.3V417.8V412.8L826.9,417.3V415.2V419.4L828.1,417.1V419.3V414.9"/>
<path d="M149.5,397.3L149.5,399.5V394.9V404L151.1,398.1V402.7V393.5L152.7,399.8V395.4V404.2L154.3,397.1V401.6V392.5L155.9,396.4V392.7V400L157.5,398.9V403.6V394.3L159.1,396.6V393.2V400.1L160.7,398V401.7V394.3L162.3,396V391.4V400.6L163.9,397.3V400.2V394.5L165.5,397.4V394.3V400.5L167.1,400V404.2V395.8L168.7,396.8V392.9V400.8L170.3,398.1V401.1V395.2L171.9,396V392.6V399.4L173.5,397.6V400.1V395L175.1,398.6V394.1V403L176.7,396.1V398.5V393.7L178.3,395.6V393.1V398.1L179.9,395.8V399.1V392.5L181.5,396.7V393.9V399.6L183.1,397.8V400.4V395.2L184.7,397.7V394.8V400.6L186.3,398.3V403.9V392.7L188.2,399.3V288.4L189.6,384.3V382.9V385.8L191.2,384.3V385.9V382.8L192.8,384V382.5V385.5L194.4,382.7V384.4V381.1L196,381.6V379.1V384.1L197.6,385.3V387.3V383.2L199.2,385.1V383.6V386.7L200.8,384.9V386.6V383.2L202.4,386.5V383.8V389.2L204,384.7V386.8V382.7L205.6,383.9V382.4V385.3L207.2,382.3V384.3V380.4L208.8,382.2V380.5V383.8L210.4,382.3V384.7V379.9L212,384.3V382.9V385.8L213.6,385.7V387.8V383.5L215.2,383V380.5V385.4L216.8,383.7V385.1V382.4L218.4,384.4V383V385.7L220,384.2V385.9V382.5L221.6,383.5V380.8V386.2L223.2,383.9V386.3V381.5L224.8,383.9V382.1V385.7L226.4,384.6V386.3V382.8L228,384.3V382.7V386L229.6,383.5V385.5V381.5L231.2,384.2V382.9V385.5L232.8,385V387.1V382.9L234.4,384.7V383V386.3L236,382.9V385.3V380.5L237.6,383.8V382.2V385.4L239.2,384.7V386.1V383.3L240.8,384.2V382.8V385.7L242.4,383.3V385.7V380.9L244,384V382.2V385.8L245.6,384.5V385.9V383L247.2,384.2V382.7V385.6L248.8,384.2V385.6V382.8L250.4,384.1V382.6V385.7L252,385.4V388.1V382.8L253.6,383.9V381.9V385.8L255.2,385.2V387.3V383.2L256.8,384.3V382.4V386.2L258.4,384.3V386V382.7L260,384.6V382.6V386.6L261.6,384.2V386.6V381.9L263.2,385V382.7V387.3L264.8,385.8V387.8V383.7L266.4,384.3V382.1V386.5L268,384V386.2V381.9L269.6,384.3V382.5V386.2L271.2,384.6V386.8V382.5L272.8,384.2V382.7V385.7L274.4,383.8V385.1V382.5L276,381.4V378.5V384.2L277.6,384.1V385.7V382.6L279.2,384.5V382.5V386.6L280.8,383.5V385.1V381.9L282.4,383.2V380.6V385.8L284,384.1V385.5V382.7L285.6,384.9V383.4V386.5L287.2,384.9V386.4V383.4L288.8,383.7V381.9V385.6L290.4,384.6V386.1V383.1L292,384.8V382.1V387.5L293.6,382.9V385.4V380.4L295.2,383.9V382.2V385.6L296.8,384.2V387V381.4L298.4,384.5V382.9V386L300,383.9V385.5V382.4L301.6,383.7V381.9V385.6L303.2,383.1V384.7V381.4L304.8,383.8V381.5V386.1L306.4,384.5V386.7V382.4L308,384.2V382.7V385.7L309.6,384.1V386.8V381.4L311.2,385.1V383.1V387L312.8,384.8V386.2V383.5L314.4,383.9V381.5V386.3L316,384.6V386.1V383.1L317.6,383.3V381.9V384.7L319.2,382.9V384.2V381.5L320.8,383.7V382.2V385.1L322.4,383.1V385.7V380.6L324,384.4V382V386.9L325.6,382.6V385.4V379.8L327.2,384.7V380.9V388.5L328.8,385.7V388.7V382.8L330.4,384.4V382.9V386L332,383.8V385.5V382.2L333.6,383.2V380.8V385.5L335.2,384.3V386.1V382.6L336.8,383.4V382V384.8L338.4,383.4V386V380.9L340,383.8V382.4V385.2L341.6,383.9V386.7V381.1L343.2,383.5V381.8V385.2L344.8,383.4V386.3V380.5L346.4,383.7V380.5V386.9L348,384.3V385.9V382.6L349.6,384.1V382.4V385.8L351.2,385.5V387.8V383.1L352.8,385.1V382.8V387.5L354.4,384.3V386.1V382.5L356,383.3V381.1V385.6L357.6,383.8V385.2V382.3L359.2,383.3V381.8V384.9L360.8,383.2V384.8V381.6L362.4,383.2V381.4V384.9L364,383.4V386.5V380.3L365.6,383.6V381V386.2L367.2,385.3V388.4V382.1L368.8,384.2V382.3V386L370.4,384.2V386.6V381.8L372,381.8V379.2V384.3L373.6,383.6V385.3V381.9L375.2,384.2V382.5V385.9L376.8,385.2V387.4V383L378.4,383.2V381.5V384.9L380,383.8V385.2V382.4L381.6,384.1V382.6V385.5L383.2,385.4V387.3V383.4L384.8,385.3V384V386.7L386.4,385.5V388.4V382.5L388,384.8V383.3V386.3L389.6,384.6V387.2V381.9L391.2,384.7V382.7V386.7L392.8,383.5V385.3V381.7L394.4,384.6V383V386.3L396,385.3V386.9V383.7L397.6,384.9V383.5V386.2L399.2,384.6V386.1V383.1L400.8,384.1V382.3V385.9L402.4,383.6V385.2V381.9L404,383.8V382.4V385.1L405.6,384.3V386.8V381.8L407.2,385.3V383V387.6L408.8,384.9V387.8V382L410.4,385.1V383.4V386.8L412,385.6V387.8V383.4L413.6,384.1V382.7V385.5L415.2,384.2V386.3V382.1L416.8,383.6V382.2V385L418.4,383.2V385.2V381.2L420,384.5V382.8V386.1L421.6,385.4V386.9V384L423.2,384.9V383.2V386.5L424.8,383.4V385V381.8L426.4,382.7V380.6V384.7L428,384.1V385.6V382.7L429.6,384.7V383.1V386.3L431.2,384.4V385.9V383L432.8,384.7V383.1V386.3L434.4,384.4V387V381.7L436,385V383.6V386.5L437.6,385.1V386.5V383.7L439.2,385.9V383.5V388.3L440.8,385.2V387.4V383L442.4,384.5V383.2V385.9L444,382.8V386.3V379.3L445.6,383.6V382.1V385.1L447.2,383.8V386.4V381.2L448.8,383.5V381.6V385.4L450.4,384.3V385.8V382.9L452,386.2V384V388.3L453.6,384.6V386.8V382.4L455.2,384.1V380.5V387.8L456.8,384.4V385.9V382.9L458.4,384.6V382.9V386.3L460,383.9V385.6V382.3L461.6,384.6V383.1V386.1L463.2,384.5V386V382.9L464.8,382.9V381.3V384.5L466.4,383.4V384.8V382L468,383.2V380.8V385.5L469.6,384.2V385.8V382.6L471.2,383.9V381.3V386.4L472.8,384.8V386.7V383L474.4,383.5V381.8V385.2L476,384V385.9V382.1L477.6,384.8V383V386.6L479.2,384.6V386V383.2L480.8,384.5V382.7V386.3L482.4,383.4V385.1V381.8L484,385.3V383V387.7L485.6,385V386.6V383.4L487.2,385.2V383.7V386.6L488.8,384.4V386.6V382.1L490.4,383.6V382.2V385L492,383.2V385.4V380.9L493.6,385.1V382.6V387.6L495.2,383.8V385.3V382.3L496.8,384.4V382.4V386.5L498.4,384.2V385.7V382.6L500,384.5V382.9V386.1L501.6,385.3V386.9V383.7L503.2,384.1V381.3V386.8L504.8,383.4V385.9V380.9L506.4,384.9V383.1V386.7L508,384.5V386V383L509.6,384.1V382.6V385.6L511.2,384.2V386.4V381.9L512.8,383.7V381.4V385.9L514.4,383.7V385.7V381.7L516,384V382.5V385.5L517.6,384.1V385.6V382.6L519.2,384.3V382.7V386L520.8,385.6V388.2V383.1L522.4,385.7V383.4V387.9L524,385.4V387.3V383.5L525.6,386.2V383.5V388.8L527.2,384.7V386.7V382.6L528.8,384.3V382.3V386.3L530.4,383.2V385.3V381.1L532,383.9V381V386.8L533.6,384.3V385.7V383L535.2,384.2V382.7V385.6L536.8,385.1V386.7V383.5L538.4,384.6V382.6V386.6L540,383.8V385.2V382.4L541.6,384.3V382.3V386.4L543.2,383.9V385.5V382.3L544.8,383.3V380.9V385.6L546.4,383.5V385V381.9L548,384V382.1V385.8L549.6,383.9V386.4V381.4L551.2,384.6V383.2V385.9L552.8,384.9V386.5V383.4L554.4,385.4V383.1V387.7L556,384.1V385.3V382.8L557.6,383.8V382.2V385.3L559.2,383.6V385.4V381.9L560.8,385.1V382.4V387.8L562.4,384.2V386.3V382.1L564,383.3V381.1V385.5L565.6,382.6V385V380.2L567.2,383.3V382V384.6L568.8,383.3V384.9V381.7L570.4,384.2V381.9V386.6L572,384.9V387.1V382.8L573.6,384.3V382.8V385.9L575.2,384V385.6V382.4L576.8,384.4V382.8V385.9L578.4,383.7V386.5V381L580,384.7V383.2V386.1L581.6,385.1V387.6V382.5L583.2,384V382.4V385.6L584.8,384.8V387V382.5L586.4,384.1V382.6V385.6L588,384.3V386.1V382.6L589.6,384.4V382.6V386.2L591.2,385V388V381.9L592.8,383.5V382.1V384.9L594.4,383.5V385.1V381.9L596,384.2V382.7V385.7L597.6,385.3V387.7V382.9L599.2,384V381.2V386.7L600.8,385V386.6V383.3L602.4,385.1V383.6V386.5L604,385.2V387.7V382.7L605.6,383.4V381.8V385L607.2,383.6V385.1V382L608.8,383.2V380.3V386.1L610.4,383.3V384.7V381.9L612,383.5V381.9V385.1L613.6,384.4V386V382.8L615.2,384.3V382.7V385.9L616.8,384.4V387.2V381.5L618.4,384.9V383.3V386.6L620,384.2V386.1V382.4L621.6,384.9V383.6V386.3L623.2,384.5V385.8V383.2L624.8,383.4V381.5V385.4L626.4,384.5V385.9V383.1L628,384.8V383.4V386.3L629.6,384V385.6V382.4L631.2,384.3V382.1V386.6L632.8,384.4V385.9V382.9L634.4,383.4V382V384.8L636,384.2V385.8V382.5L637.6,383.5V381.6V385.4L639.2,384.1V385.8V382.5L640.8,384.3V382.9V385.7L642.4,384.1V385.5V382.7L644,384.4V383V385.9L645.6,384.7V387.1V382.3L647.2,384.5V382.9V386.1L648.8,384.2V385.8V382.5L650.4,383.3V381V385.6L652,384.2V385.8V382.6L653.6,383.3V380.9V385.6L655.2,385.6V387.3V383.9L656.8,384.3V382.9V385.8L658.4,383.9V385.9V381.9L660,383.3V381.5V385L661.6,383.3V384.9V381.7L663.2,383.8V381.2V386.3L664.8,384.4V386.2V382.6L666.4,384.8V381.1V388.5L668,384.6V386.3V382.9L669.6,383.5V381.9V385.1L671.2,384.4V386.8V382L672.8,384.8V383.1V386.5L674.4,384.5V386V382.9L676,384.5V382.6V386.3L677.6,383.2V385.3V381.1L679.2,383.5V381.4V385.6L680.8,383.6V386.4V380.9L682.4,384.8V382V387.7L684,382.9V385.1V380.8L685.6,383.6V381.7V385.5L687.2,384.3V386.1V382.4L688.8,384.4V381.3V387.4L690.4,384.5V386V383.1L692,384.3V382.5V386L693.6,385V386.5V383.5L695.2,385V382.9V387.1L696.8,384.8V386.6V382.9L698.4,385.5V384V387L700,384.9V387V382.7L701.6,384.4V382.3V386.4L703.2,384.1V385.7V382.5L704.8,384.4V383.1V385.8L706.4,383.8V385.2V382.3L708,383.6V382V385.3L709.6,383.8V385.2V382.4L711.2,384.7V382.2V387.3L712.8,383.9V385.3V382.4L714.4,383.5V381.6V385.5L716,382.8V384.2V381.4L717.6,382.8V381.3V384.4L719.2,384.1V386.6V381.6L720.8,384.5V382.5V386.4L722.4,385.3V387.6V383L724,384.3V382.6V386L725.6,383.6V385V382.3L727.2,383V380.6V385.4L728.8,383.8V385.9V381.6L730.4,384.1V381.9V386.3L732,385.1V386.7V383.5L733.6,385.2V383.6V386.8L735.2,384.1V386.3V381.9L736.8,383.9V382.5V385.4L738.4,383.3V384.7V382L740,384.9V382.5V387.2L741.6,383.8V385.2V382.4L743.2,384V382.4V385.5L744.8,384.2V386.1V382.2L746.4,383.1V380.6V385.6L748,383.2V385.6V380.8L749.6,384.1V382.6V385.7L751.2,383.5V385.4V381.6L752.8,383.7V381.6V385.7L754.4,384.1V385.6V382.6L756,384.4V382.4V386.3L757.6,385.7V388V383.5L759.2,383.5V381.2V385.9L760.8,384.2V385.6V382.9L762.4,385.6V383.3V388L764,383.6V386.5V380.6L765.6,383.5V381.9V385L767.2,383.2V385.5V381L768.8,384.1V382V386.2L771.2,384.2V351L772.6,350.2V345V355.4L774.2,348.8V353.8V343.8L775.8,352.4V348V356.9L777.4,351.5V354.2V348.7L779,352.4V348V356.8L780.6,351.4V354.3V348.5L782.2,352.5V349.7V355.3L783.8,350.7V356.2V345.1L785.4,352.6V349V356.2L787,351V354.4V347.5L788.6,349.4V346.8V352.1L790.2,349.9V353.8V345.9L791.8,351.1V348.3V354L793.4,351.8V354.4V349.1L795,350V345.9V354.1L796.6,350.6V355.1V346.2L798.2,351.3V348.5V354.2L799.8,350.3V356.3V344.2L801.4,351.1V348.1V354.2L803,353.5V358.4V348.6L804.6,353.4V348V358.7L806.2,350.9V354.6V347.3L807.8,353.1V347.5V358.6L810.1,351V488L811.3,438.5V441.5V435.4L812.5,432.4V430.2V434.7L813.7,427.6V430.5V424.6L814.9,424.9V423.1V426.7L816.1,423.4V424.9V421.8L817.3,421.7V419.3V424.2L818.5,420.8V422.4V419.2L819.7,420.3V418.4V422.2L820.9,420.7V422.4V419L822.1,420.3V418.2V422.3L823.3,419.4V421.8V416.9L824.5,419.6V417V422.2L825.7,418.3V420.8V415.7L826.9,419.2V416V422.3L828.1,420.4V422.7V418.1"/>
<path d="M149.5,400L149.5,400.8V397.8V403.8L151.1,400.1V402.7V397.6L152.7,399.6V397V402.2L154.3,399.7V402.1V397.3L155.9,398.1V393.6V402.5L157.5,400V402.6V397.4L159.1,399.3V396V402.6L160.7,400.9V404V397.7L162.3,398.1V393.6V402.6L163.9,399.6V402.5V396.8L165.5,399.7V396.7V402.8L167.1,400V402.9V397.1L168.7,400.4V397.6V403.2L170.3,400V402.9V397.1L171.9,399.9V397.3V402.6L173.5,396.6V401.2V392L175.1,400.7V396V405.3L176.7,399.8V403V396.5L178.3,399V395.1V402.9L179.9,398.5V402.6V394.4L181.5,398.3V394.5V402.1L183.1,400.3V402.9V397.8L184.7,400.1V397.3V402.9L186.3,400.3V405.6V395L188.7,402V292L189.6,387.4V385.5V389.4L191.2,387.6V389.1V386.1L192.8,387.7V385.8V389.7L194.4,386.1V388V384.1L196,387V385.3V388.7L197.6,388.2V390.2V386.3L199.2,387.6V385.9V389.3L200.8,388V390V386L202.4,387.1V385.5V388.6L204,387.1V390.3V383.9L205.6,385.5V383.2V387.8L207.2,387.1V388.7V385.4L208.8,388.9V386.4V391.4L210.4,388.2V390.1V386.2L212,387.3V385.5V389.1L213.6,385.9V388.2V383.5L215.2,386V383.7V388.4L216.8,386.6V389.8V383.4L218.4,387.3V385.6V388.9L220,386.8V388.4V385.2L221.6,385.5V382.8V388.2L223.2,387.4V390.2V384.6L224.8,386.9V384.8V388.9L226.4,386.8V389.4V384.2L228,386.9V384.6V389.1L229.6,386.5V388.5V384.4L231.2,387.3V385.1V389.5L232.8,387.3V388.7V385.9L234.4,388.6V386.2V391.1L236,386.9V388.4V385.4L237.6,386V383.4V388.5L239.2,385.9V388V383.8L240.8,385.6V382.8V388.4L242.4,386.5V388V385L244,386.6V385.1V388.2L245.6,387.7V390.5V384.9L247.2,387.2V385.6V388.9L248.8,387.5V389.5V385.4L250.4,386.9V385.4V388.5L252,387.5V389.4V385.5L253.6,388V385.4V390.5L255.2,386.9V389.9V383.9L256.8,387.8V384.7V390.9L258.4,387.9V391.2V384.5L260,388V385.5V390.4L261.6,387.3V388.9V385.7L263.2,386.2V384.8V387.5L264.8,386.6V388.1V385.1L266.4,387.6V386V389.1L268,387.3V389V385.6L269.6,387.1V385.4V388.8L271.2,386.5V388.1V384.9L272.8,386.5V384.6V388.4L274.4,387.6V389V386.2L276,385.3V382.7V387.9L277.6,384.5V386.6V382.4L279.2,387.2V385.3V389.1L280.8,387.9V389.8V386.1L282.4,387.3V385.8V388.9L284,387.3V389.3V385.3L285.6,387V384.8V389.1L287.2,387V388.8V385.1L288.8,387.4V384.7V390L290.4,387V389.8V384.3L292,387.6V385.7V389.5L293.6,386.9V388.4V385.3L295.2,387.1V385.6V388.5L296.8,387.1V388.6V385.7L298.4,386.8V385.4V388.3L300,386.4V389.5V383.2L301.6,386.9V385.5V388.3L303.2,385.6V387.9V383.2L304.8,386.6V383.9V389.3L306.4,386.8V388.4V385.3L308,385.8V383.3V388.4L309.6,385.9V387.4V384.3L311.2,387.4V384.9V389.9L312.8,388.1V389.4V386.7L314.4,387.8V386.4V389.2L316,387.4V389.9V384.8L317.6,387.4V384.6V390.2L319.2,386.7V389.1V384.2L320.8,387.4V385.6V389.3L322.4,386.6V388.8V384.4L324,387V384.8V389.3L325.6,388.4V390.9V385.8L327.2,387.6V386.1V389.1L328.8,388.8V391.1V386.4L330.4,387.1V385.2V388.9L332,387.3V388.8V385.7L333.6,387.7V386V389.3L335.2,387.7V389.3V386.2L336.8,388.5V386.1V391L338.4,387.1V389.1V385.2L340,386.7V384.4V389.1L341.6,387.2V389.2V385.3L343.2,387.3V384.6V390L344.8,386.7V388.1V385.2L346.4,387.8V385.8V389.8L348,386.9V388.3V385.5L349.6,387.1V384.1V390.1L351.2,387.2V390.5V384L352.8,387.2V385.6V388.8L354.4,386.6V388.3V384.9L356,386.3V384.8V387.8L357.6,386.9V388.3V385.6L359.2,386.6V384.1V389L360.8,386.6V388.9V384.4L362.4,387V385.6V388.3L364,386.9V388.3V385.4L365.6,386.9V384.3V389.6L367.2,386.5V388.5V384.4L368.8,386V383.6V388.4L370.4,385.5V387.8V383.2L372,386.3V384.7V387.9L373.6,387.6V390V385.3L375.2,386.8V383.1V390.4L376.8,387V388.5V385.4L378.4,387.5V385.7V389.3L380,386.4V389.1V383.6L381.6,387.4V385.8V388.9L383.2,388.2V390.5V386L384.8,386.4V385V387.8L386.4,386.3V388.4V384.3L388,387.2V385.2V389.1L389.6,386.5V388.4V384.6L391.2,386.7V385.1V388.3L392.8,386.9V388.8V385.1L394.4,386.3V384.2V388.5L396,386.4V387.8V384.9L397.6,386.7V384.6V388.7L399.2,386.5V389.2V383.9L400.8,386V384.6V387.5L402.4,387V389.2V384.9L404,386V383.7V388.4L405.6,387V388.3V385.6L407.2,386V384V387.9L408.8,386.1V387.5V384.8L410.4,385.9V384.5V387.3L412,386.8V388.3V385.3L413.6,387.6V384.8V390.3L415.2,385.2V387.6V382.8L416.8,386.3V385V387.7L418.4,387.2V388.5V385.9L420,387V385.3V388.7L421.6,386.7V388.5V384.9L423.2,386.4V384.8V388.1L424.8,386V388.1V383.8L426.4,386.7V383.3V390.1L428,386.8V389.1V384.5L429.6,387.2V384.7V389.7L431.2,386.8V388.2V385.3L432.8,387.5V385.6V389.4L434.4,387.2V388.6V385.9L436,387.8V386.1V389.6L437.6,387.6V389.5V385.6L439.2,387.6V385.2V390L440.8,386.6V388.3V384.9L442.4,386.2V383.8V388.6L444,387.6V390.4V384.8L445.6,387V385.3V388.7L447.2,387.3V388.9V385.6L448.8,387.3V384.8V389.7L450.4,386.6V388.4V384.8L452,387V385.4V388.7L453.6,385.8V388.3V383.3L455.2,387.4V385.9V388.9L456.8,386.5V388.1V384.8L458.4,386.2V384.8V387.7L460,385.2V387.7V382.7L461.6,385.9V384.4V387.4L463.2,385.7V388.2V383.3L464.8,386.4V384.6V388.1L466.4,386.7V388.4V385L468,387.8V384.7V390.8L469.6,387.6V389.2V386L471.2,387.4V386.1V388.8L472.8,387.2V389.5V384.9L474.4,387.2V385.9V388.6L476,386.7V389.4V383.9L477.6,388.7V386V391.3L479.2,386.8V389.3V384.3L480.8,387.7V384.5V390.9L482.4,386.9V388.3V385.5L484,386.9V385.3V388.5L485.6,387.9V390.3V385.4L487.2,386.6V385.2V388L488.8,387.6V389.1V386.1L490.4,387.4V385.5V389.2L492,386.4V389.2V383.7L493.6,386.7V383.6V389.9L495.2,385.8V388.1V383.5L496.8,386.1V384.4V387.8L498.4,387.5V389.2V385.8L500,387.5V386.2V388.8L501.6,386.1V387.5V384.7L503.2,386.1V384.6V387.6L504.8,387.1V388.6V385.6L506.4,388V385.3V390.7L508,386.4V388.8V383.9L509.6,387.4V385.1V389.6L511.2,387.2V388.7V385.7L512.8,386.4V383.6V389.2L514.4,385.4V388.1V382.8L516,385.6V383.4V387.7L517.6,387V389.5V384.5L519.2,387.7V386.2V389.2L520.8,387.5V389.1V385.9L522.4,387.2V385.5V388.8L524,386.8V388.2V385.5L525.6,385.9V384V387.8L527.2,386.3V387.8V384.8L528.8,385.7V383.2V388.2L530.4,387V388.8V385.3L532,386.8V385.1V388.5L533.6,386.8V389.2V384.5L535.2,386.2V384.4V387.9L536.8,387.3V388.8V385.7L538.4,387.6V385.7V389.4L540,387.2V389V385.3L541.6,387.4V385.5V389.3L543.2,385.7V388.2V383.2L544.8,386.4V383.8V389L546.4,387.5V389V386L548,388.2V386.6V389.8L549.6,387.2V390.3V384.1L551.2,387.3V385.7V388.8L552.8,386.5V388.5V384.5L554.4,386.6V385.2V388L556,386.9V389.1V384.7L557.6,387.7V385.5V390L559.2,386.2V388V384.4L560.8,385.8V383.3V388.4L562.4,386.7V388.3V385L564,388.2V385.7V390.7L565.6,386.5V389.1V383.9L567.2,387.5V386V389L568.8,387.8V389.2V386.3L570.4,386.6V384.2V389L572,388.6V391.1V386.1L573.6,386.2V383.8V388.6L575.2,387V388.3V385.6L576.8,387.9V385.7V390L578.4,386.8V388.7V384.9L580,387.9V386.2V389.5L581.6,386.5V388.7V384.3L583.2,386.4V384.4V388.3L584.8,387.1V388.8V385.3L586.4,387V384.6V389.3L588,387V388.8V385.1L589.6,387.4V385.6V389.1L591.2,387.8V389.3V386.3L592.8,387.2V385.7V388.6L594.4,385.6V387.9V383.2L596,387.3V383.7V390.8L597.6,388V389.6V386.4L599.2,387.8V385.9V389.8L600.8,387.3V390.3V384.3L602.4,386.7V385.3V388.2L604,386V387.6V384.5L605.6,385.9V383.9V387.8L607.2,387V388.7V385.3L608.8,388.7V386.6V390.8L610.4,387V389.2V384.7L612,386.8V385.3V388.3L613.6,388V390.3V385.7L615.2,386.6V383.9V389.3L616.8,386.4V388.5V384.3L618.4,386.7V385V388.4L620,385.3V387.9V382.7L621.6,386.7V385V388.3L623.2,385.9V387.8V384.1L624.8,386.3V384.8V387.8L626.4,386.7V388.4V385L628,386.1V383.6V388.6L629.6,384.8V387.2V382.4L631.2,387.7V385.3V390.2L632.8,387.2V388.5V385.8L634.4,387.9V384.9V390.9L636,388.3V390.4V386.2L637.6,387.2V385.7V388.7L639.2,386.5V389.5V383.5L640.8,387.2V385.1V389.3L642.4,387.8V390V385.5L644,387.8V385.7V390L645.6,386.5V388.5V384.4L647.2,386.6V385V388.3L648.8,387V388.5V385.5L650.4,386.9V384.8V389L652,385.8V388.4V383.3L653.6,386.7V384.5V389L655.2,387.8V390.5V385.2L656.8,387.1V385.2V388.9L658.4,387.3V388.8V385.9L660,387V384.8V389.2L661.6,387.4V388.7V386L663.2,386.9V385.4V388.3L664.8,386.8V388.4V385.2L666.4,386.4V384.5V388.2L668,386.6V388.1V385.1L669.6,386V383.5V388.6L671.2,386.7V389.1V384.2L672.8,385.8V383.2V388.5L674.4,387.5V389.8V385.2L676,386.6V384.3V388.8L677.6,386.8V388.4V385.2L679.2,386.9V385.3V388.5L680.8,386.3V387.7V384.9L682.4,385.9V384.2V387.5L684,386.7V390V383.4L685.6,387.8V385.7V390L687.2,386.9V388.2V385.5L688.8,387.1V385.1V389L690.4,387.2V389.3V385.2L692,387.5V385.7V389.2L693.6,387.3V388.8V385.7L695.2,386.7V385.3V388.1L696.8,387.3V389.3V385.4L698.4,388V386.5V389.6L700,386.3V388.8V383.8L701.6,387.4V385.3V389.5L703.2,387.9V390V385.8L704.8,387.2V385.7V388.8L706.4,386.9V389V384.9L708,386.2V384.8V387.5L709.6,386.2V387.7V384.8L711.2,386.6V385.2V388.1L712.8,385.8V388.2V383.5L714.4,385.6V383V388.3L716,386.9V388.3V385.4L717.6,386.8V383.7V390L719.2,389V391.6V386.5L720.8,388.1V385.6V390.6L722.4,386.3V387.9V384.6L724,386.2V384.7V387.7L725.6,386.3V387.7V384.9L727.2,385.9V384.1V387.8L728.8,386.5V388.2V384.8L730.4,385.6V383.7V387.5L732,387.2V389.9V384.5L733.6,386.4V383.6V389.1L735.2,388.3V390.5V386.2L736.8,386.4V383.9V388.8L738.4,388.4V390.9V385.9L740,387.7V386.2V389.3L741.6,387.1V389.2V385.1L743.2,387.1V385.3V388.8L744.8,386.1V389.1V383.1L746.4,386.9V384.5V389.3L748,387.7V390.1V385.3L749.6,387.4V384.6V390.3L751.2,386.7V388.2V385.1L752.8,387.4V385.6V389.2L754.4,387.1V389.1V385.1L756,387.2V385.1V389.3L757.6,387.4V389.1V385.8L759.2,385.6V383.9V387.2L760.8,386.5V388.5V384.5L762.4,387.3V385.6V388.9L764,386V388.5V383.4L765.6,386V383.3V388.7L767.2,386.9V389.5V384.2L768.8,387.4V384.6V390.3L771.7,387V352.5L772.6,352.2V349.1V355.4L774.2,352V355.6V348.5L775.8,353.7V347.3V360L777.4,351.5V355V348.1L779,351.8V349V354.6L780.6,352.4V355.5V349.3L782.2,353.9V348.6V359.2L783.8,350.7V355.2V346.3L785.4,352.3V348.5V356.1L787,351.8V354.7V349L788.6,353.9V351.1V356.6L790.2,353V356.1V349.9L791.8,353.9V349.7V358.1L793.4,352.5V356.6V348.4L795,352.4V349.3V355.5L796.6,353.6V356.5V350.8L798.2,352.8V350.1V355.5L799.8,351.3V354.6V348L801.4,351.8V348.8V354.8L803,352V354.8V349.2L804.6,352V348.5V355.5L806.2,353.1V355.7V350.6L807.8,354V351.1V356.9L810.7,352.5V494L811.3,443.3V444.6V442.1L812.5,437.6V436.5V438.6L813.7,434V435V433L814.9,431.5V430.5V432.5L816.1,428.5V429.5V427.5L817.3,426.6V425.6V427.6L818.5,426.1V427.5V424.6L819.7,426.3V425.2V427.4L820.9,427.2V428.3V426.2L822.1,426.6V425.6V427.6L823.3,426.2V427.1V425.2L824.5,426.6V425.1V428.1L825.7,425.9V426.8V425L826.9,426.5V425.3V427.8L828.1,426.1V427.2V425"/>
<path d="M149.5,402.7L149.5,402.1V399.2V405L151.1,402.3V404.7V399.9L152.7,403.4V400V406.7L154.3,402.8V405.5V400.1L155.9,403.1V400.4V405.7L157.5,402.8V407.7V397.8L159.1,403V400V405.9L160.7,402.9V405.7V400.2L162.3,404.1V400.3V408L163.9,402.6V405.1V400.1L165.5,400V396V404L167.1,402.7V405.6V399.8L168.7,402.9V399.5V406.2L170.3,403.5V406.9V400.2L171.9,404.3V399.8V408.7L173.5,402.8V406V399.5L175.1,403.3V400.3V406.3L176.7,402.8V405.3V400.2L178.3,403.2V399.3V407L179.9,402.2V405V399.4L181.5,402.1V399.5V404.7L183.1,402.2V405.6V398.7L184.7,402.5V400.1V404.9L186.3,401.6V404.6V398.6L188.2,404.7V288.4L189.6,389.5V388V391.1L191.2,389.3V391.6V387L192.8,390.2V388.7V391.7L194.4,389.7V391.2V388.2L196,388.9V387.5V390.3L197.6,389.1V390.7V387.5L199.2,389.9V388.3V391.5L200.8,390.2V391.5V388.8L202.4,391.4V389V393.8L204,389.7V391.3V388L205.6,390.4V388V392.7L207.2,390.6V392V389.1L208.8,390.2V388.2V392.1L210.4,390.1V391.8V388.5L212,388.5V386.7V390.3L213.6,389.4V391.1V387.8L215.2,390.1V388.7V391.5L216.8,389V391.2V386.8L218.4,389.3V387.8V390.7L220,389.2V391.1V387.3L221.6,389.6V388.1V391L223.2,390.8V393.3V388.3L224.8,390V388.5V391.5L226.4,388.8V390.9V386.7L228,389.5V388.1V391L229.6,390V391.4V388.5L231.2,389.7V387.8V391.6L232.8,390.9V393.1V388.8L234.4,389V386.5V391.6L236,390.7V393.2V388.1L237.6,389.6V387.9V391.4L239.2,389.2V390.8V387.7L240.8,389.4V387.8V391L242.4,390.2V392.9V387.5L244,390.8V388.2V393.5L245.6,390V391.7V388.2L247.2,390.2V388.3V392.2L248.8,389.9V391.9V387.9L250.4,390.4V388.5V392.2L252,389V390.7V387.3L253.6,388.5V386.2V390.8L255.2,389.7V391.2V388.2L256.8,388.6V386.5V390.8L258.4,389.7V391.3V388.1L260,390.2V388.6V391.8L261.6,390.4V391.8V389L263.2,390.6V389V392.2L264.8,388.6V391.5V385.7L266.4,388.9V387V390.8L268,389.4V391.2V387.7L269.6,389V387.3V390.6L271.2,389.6V391.6V387.6L272.8,390.4V388.8V391.9L274.4,391.8V394.4V389.2L276,390.1V388.3V391.9L277.6,389.9V391.6V388.2L279.2,389.1V387.7V390.6L280.8,388.5V391V386L282.4,390.5V388.1V393L284,389.8V392V387.6L285.6,390V388.1V392L287.2,390.6V392.3V388.9L288.8,390.5V388.9V392.1L290.4,390.1V391.7V388.6L292,390.2V388.7V391.7L293.6,390V391.4V388.6L295.2,389V386.2V391.9L296.8,388.6V391.2V385.9L298.4,389.9V388.4V391.4L300,390.4V392.8V388L301.6,388.5V386.3V390.7L303.2,388.9V390.6V387.1L304.8,389.2V386.4V391.9L306.4,389.9V392.5V387.3L308,390.2V388.7V391.7L309.6,390.9V393.6V388.2L311.2,390.1V388.5V391.7L312.8,388.3V390.7V385.9L314.4,389.3V387.8V390.7L316,389.3V391.2V387.3L317.6,389.7V388.2V391.1L319.2,390.5V392.1V388.9L320.8,390.7V388.7V392.7L322.4,389.1V391V387.3L324,390.2V387.8V392.6L325.6,388.3V391V385.7L327.2,391.5V389.3V393.8L328.8,391V392.4V389.6L330.4,390.4V388.9V392L332,389.2V390.7V387.8L333.6,389.2V386V392.5L335.2,389.4V391V387.9L336.8,390V387.5V392.5L338.4,389.3V392.2V386.4L340,390.7V389.4V392L341.6,391.2V393V389.5L343.2,389.7V387.4V392.1L344.8,390.6V394V387.2L346.4,390.2V387.9V392.5L348,390.1V391.8V388.4L349.6,389.7V388.2V391.2L351.2,390.6V392.7V388.5L352.8,391V389.5V392.5L354.4,390.4V392V388.9L356,389.6V387.3V391.9L357.6,390.5V392.4V388.7L359.2,390.1V388.6V391.6L360.8,390.9V393V388.8L362.4,390.4V388.8V392L364,389.9V391.4V388.5L365.6,389.1V387.5V390.7L367.2,389.1V390.8V387.4L368.8,390.3V387.8V392.7L370.4,389.7V391.5V387.9L372,388.8V386.1V391.5L373.6,390.3V392.3V388.3L375.2,389.6V388.1V391.1L376.8,389.8V391.3V388.4L378.4,389V385.7V392.3L380,389.1V391V387.2L381.6,390.3V388.4V392.2L383.2,389.8V391.4V388.2L384.8,389.9V387.3V392.5L386.4,389.3V390.7V387.8L388,389.3V387.8V390.7L389.6,388.6V392V385.2L391.2,389.4V387.9V390.8L392.8,390.3V393V387.7L394.4,389.2V387.2V391.2L396,390V391.7V388.2L397.6,389.9V388.4V391.4L399.2,389.9V391.3V388.5L400.8,390.4V388.6V392.3L402.4,390.1V392.4V387.8L404,389.2V387.2V391.2L405.6,389.3V392.4V386.2L407.2,389.3V387.1V391.5L408.8,389V391.3V386.7L410.4,389.4V388V390.9L412,390.3V392.5V388.1L413.6,391.4V389.1V393.7L415.2,390.6V392.4V388.9L416.8,390.5V388.9V392.1L418.4,391.3V394V388.6L420,390.4V387.6V393.2L421.6,389.3V391V387.5L423.2,389.5V388.2V390.8L424.8,390.1V391.5V388.7L426.4,390.6V388.4V392.9L428,391.1V393.2V388.9L429.6,389.7V388.3V391.1L431.2,390.2V391.9V388.6L432.8,389.6V388.1V391.1L434.4,387.9V390.3V385.4L436,388.2V385.7V390.7L437.6,390.6V393.1V388.1L439.2,389.9V387.5V392.3L440.8,389.6V391.4V387.8L442.4,388.8V386.4V391.2L444,390.2V392.2V388.2L445.6,390.3V388.4V392.1L447.2,390.2V392.1V388.3L448.8,389.5V387.5V391.5L450.4,390.5V392.1V388.9L452,389.9V387.6V392.1L453.6,390.3V391.7V389L455.2,390V388.6V391.4L456.8,391V393.7V388.3L458.4,390.8V389.2V392.4L460,390.9V393.3V388.5L461.6,389.8V388.2V391.5L463.2,390.8V392.3V389.3L464.8,390.6V388.9V392.3L466.4,389V390.7V387.3L468,389V386.8V391.2L469.6,390.6V393.8V387.4L471.2,390.1V388.3V391.8L472.8,390V392.8V387.1L474.4,390.1V388.3V391.9L476,389.3V391V387.7L477.6,388.1V385.5V390.6L479.2,389.1V390.5V387.8L480.8,389.1V387.7V390.6L482.4,391.2V394.1V388.4L484,390V388.4V391.6L485.6,390.3V391.8V388.9L487.2,389.3V387V391.6L488.8,390.5V391.8V389.1L490.4,390.2V388.3V392.1L492,389.6V392.5V386.7L493.6,389.9V388.2V391.6L495.2,390.8V392.8V388.9L496.8,390.7V387.9V393.4L498.4,390.2V391.6V388.8L500,390.5V389V392.1L501.6,390.2V392V388.3L503.2,388.8V387.2V390.4L504.8,389.7V391.2V388.2L506.4,389.6V387.3V391.9L508,391V393.7V388.3L509.6,390.6V388.1V393.2L511.2,389.9V391.5V388.4L512.8,389.3V387.6V391.1L514.4,390.1V391.5V388.6L516,390.2V388.7V391.8L517.6,389.7V392.2V387.2L519.2,389.5V387.7V391.3L520.8,390.5V392.4V388.6L522.4,390V388.3V391.6L524,388V390.3V385.6L525.6,389.9V388.3V391.4L527.2,390V391.6V388.4L528.8,390.4V389V391.8L530.4,391.2V393.8V388.7L532,389.4V387.3V391.6L533.6,389.2V391.8V386.5L535.2,388.6V386.6V390.7L536.8,390.1V392.5V387.6L538.4,389.9V388.3V391.4L540,390.5V391.9V389L541.6,389.2V387.8V390.6L543.2,390.1V393.1V387.1L544.8,389.6V388V391.1L546.4,389.4V390.8V387.9L548,389V387.3V390.6L549.6,389.5V391V388.1L551.2,390.5V388.6V392.4L552.8,389.1V391.3V386.8L554.4,389V387.1V391L556,390.3V391.7V389L557.6,390.4V388.2V392.6L559.2,390.5V392.3V388.6L560.8,390.2V387.6V392.8L562.4,389.9V391.6V388.1L564,390.3V388.2V392.4L565.6,390V391.5V388.5L567.2,389.2V387.8V390.7L568.8,388.8V390.4V387.1L570.4,389V387.7V390.3L572,388V389.5V386.5L573.6,389.6V387.4V391.7L575.2,390V391.9V388.1L576.8,391.2V388.6V393.8L578.4,389.1V391.1V387.1L580,389.2V386.7V391.7L581.6,388.7V391.2V386.2L583.2,390.2V387.9V392.5L584.8,390.7V393.2V388.1L586.4,390V388.1V391.9L588,389.4V390.8V387.9L589.6,389.2V387.3V391.2L591.2,389.7V391.4V388L592.8,389V386.2V391.8L594.4,390.2V391.8V388.6L596,390.2V388.3V392.2L597.6,390.3V392V388.6L599.2,389.5V388V391.1L600.8,388.9V392.6V385.3L602.4,390V388.4V391.6L604,391.9V394.4V389.4L605.6,389.2V386.9V391.6L607.2,390.5V393.3V387.7L608.8,390.1V388.4V391.8L610.4,390V391.4V388.7L612,389.6V388.2V391L613.6,391V393.6V388.3L615.2,389.8V388.2V391.4L616.8,388.2V390.6V385.9L618.4,388.3V385.8V390.8L620,388.2V390.7V385.7L621.6,389V387.1V390.9L623.2,389.6V391.4V387.8L624.8,389.8V388.4V391.3L626.4,390.1V393V387.3L628,389.7V387V392.3L629.6,389.6V391.2V388.1L631.2,389.8V388.1V391.4L632.8,388.4V391.3V385.5L634.4,390.9V387.7V394.1L636,389.5V391V388L637.6,390.6V388.9V392.2L639.2,390.1V392.1V388.1L640.8,390.7V388.5V392.8L642.4,389.9V391.2V388.6L644,390.6V388.6V392.5L645.6,389.2V391.7V386.8L647.2,389.5V388V390.9L648.8,388.8V391.2V386.5L650.4,390.6V388.3V392.9L652,390.8V393.3V388.4L653.6,389.9V388.2V391.6L655.2,389.7V391.2V388.2L656.8,389.9V387.8V392.1L658.4,390.8V392.3V389.3L660,390.2V388.8V391.6L661.6,389.9V391.5V388.4L663.2,389.9V388.3V391.6L664.8,391V392.8V389.3L666.4,390.7V388.7V392.7L668,389.7V392.3V387.1L669.6,388.8V387.3V390.2L671.2,389.8V391.4V388.2L672.8,390.7V388.7V392.6L674.4,390.4V392.4V388.3L676,389.6V387.6V391.6L677.6,389.1V390.6V387.7L679.2,389.8V388.4V391.2L680.8,389.5V391.5V387.5L682.4,388.3V385.8V390.9L684,390V392.3V387.6L685.6,390.3V389V391.6L687.2,388.3V390.4V386.1L688.8,391V388.4V393.5L690.4,390.4V392.3V388.5L692,389.5V387.5V391.5L693.6,389.5V391.5V387.5L695.2,389.2V387.3V391.2L696.8,388.7V390.2V387.2L698.4,388.7V387.3V390.2L700,390.1V391.8V388.3L701.6,390.9V388.3V393.5L703.2,389.4V391.5V387.4L704.8,389.1V387.4V390.8L706.4,389.8V391.9V387.6L708,389.6V388.1V391.2L709.6,389.3V392.4V386.2L711.2,390.1V388.4V391.8L712.8,389.7V391.8V387.5L714.4,389.6V387.8V391.4L716,388.5V390V387L717.6,389V387.4V390.6L719.2,389.6V391.1V388.2L720.8,389.7V388.2V391.3L722.4,390V391.3V388.7L724,391V388.1V394L725.6,389.4V391.5V387.3L727.2,389.3V386.3V392.3L728.8,389.4V391V387.8L730.4,389.8V386.8V392.8L732,388.8V390.7V387L733.6,390.1V387.7V392.6L735.2,390.6V392.5V388.7L736.8,390.1V388.7V391.5L738.4,390V392.9V387.1L740,388.9V386.9V390.9L741.6,387.5V389.4V385.5L743.2,389.6V386.7V392.4L744.8,389.5V391.2V387.7L746.4,388.7V387.1V390.4L748,388.7V391.2V386.2L749.6,388.5V386.3V390.6L751.2,389.5V391.3V387.8L752.8,389.1V387.7V390.4L754.4,389.6V391.1V388.1L756,390.7V388.5V392.9L757.6,390.5V392.8V388.1L759.2,389.7V388.2V391.1L760.8,389.2V390.7V387.6L762.4,389.2V387.7V390.7L764,388.5V390.8V386.2L765.6,389.2V387.7V390.7L767.2,388.7V391.1V386.3L768.8,390.5V388.3V392.7L771.2,389.8V354L772.6,353.2V350V356.4L774.2,355.5V360.5V350.5L775.8,354V349.3V358.7L777.4,354.3V357V351.7L779,352.9V349.5V356.4L780.6,351.9V356.5V347.4L782.2,352.4V347.9V356.9L783.8,352.6V356.7V348.6L785.4,355.2V351V359.5L787,354.7V358.8V350.5L788.6,354.2V350.9V357.6L790.2,355.1V357.7V352.5L791.8,356.2V353.4V359L793.4,355.8V360.2V351.4L795,353.4V350.6V356.2L796.6,355.7V359.1V352.2L798.2,354.6V350.6V358.6L799.8,354.3V358.5V350.2L801.4,352.4V345.4V359.3L803,353.3V356.8V349.9L804.6,353.8V348.7V358.9L806.2,352.4V355.2V349.5L807.8,350.2V345.7V354.8L810.1,354V500L811.3,451.2V452.3V450.1L812.5,447.7V446.6V448.8L813.7,444.4V445.8V443.1L814.9,440.7V438.8V442.6L816.1,438.9V440.5V437.4L817.3,436.5V435.5V437.6L818.5,435.4V436.9V433.9L819.7,433.6V432.6V434.6L820.9,433.2V435.4V431.1L822.1,432.5V431.4V433.5L823.3,432.5V433.5V431.6L824.5,432.9V432V433.8L825.7,432.7V433.7V431.6L826.9,431.8V430.3V433.3L828.1,431.2V432.5V429.9"/>
<path d="M149.5,398.4L149.5,397.9V395.1V400.8L151.1,399.6V402.6V396.5L152.7,398.3V393.6V403L154.3,398.4V401.2V395.5L155.9,398.4V395.6V401.1L157.5,398.2V401.4V395L159.1,398.7V395.7V401.7L160.7,397.2V401.9V392.5L162.3,398V394.8V401.2L163.9,398.7V401.2V396.2L165.5,398V392.3V403.7L167.1,399.6V403.5V395.7L168.7,397.1V393.4V400.8L170.3,396.2V400.9V391.4L171.9,398.4V395.5V401.4L173.5,397.9V400.5V395.3L175.1,397.2V393.8V400.6L176.7,399.9V404.1V395.7L178.3,396.8V392.9V400.7L179.9,398.8V401.6V396L181.5,398V395.3V400.7L183.1,398.5V400.9V396L184.7,397.3V394.4V400.2L186.3,396.9V401.3V392.5L188.7,400.4V291L189.6,392.5V389.9V395.1L191.2,390.5V392.5V388.5L192.8,391.9V389.2V394.5L194.4,390.3V392.7V387.9L196,390.1V387.6V392.6L197.6,389.8V392.4V387.2L199.2,391.5V389.5V393.5L200.8,390.8V392.2V389.3L202.4,391.7V390.2V393.3L204,392.7V395.3V390.1L205.6,390.2V387.3V393.1L207.2,391.3V392.9V389.8L208.8,391V388.6V393.5L210.4,390.4V392.5V388.4L212,389.7V387.7V391.8L213.6,390.5V392.1V389L215.2,391.8V389.6V394L216.8,391.1V392.6V389.6L218.4,391V389.7V392.4L220,389.7V392.3V387.1L221.6,390.7V389.3V392.2L223.2,390.4V392.7V388L224.8,391.6V388.2V394.9L226.4,393.4V396.1V390.8L228,392.5V390.9V394.1L229.6,391.8V393.8V389.8L231.2,391.7V390.3V393.1L232.8,392.5V395.1V390L234.4,392.4V390.8V393.9L236,390.7V392.7V388.7L237.6,391.2V389.2V393.2L239.2,392.5V394V390.9L240.8,392.4V390.8V393.9L242.4,392.5V394.2V390.9L244,391.9V390.4V393.5L245.6,390.4V392.7V388.1L247.2,391.2V389V393.3L248.8,392.4V393.8V391L250.4,391.9V390.5V393.2L252,391.3V393.1V389.6L253.6,392.8V391.3V394.4L255.2,392.3V393.9V390.7L256.8,392.2V390.7V393.7L258.4,391.4V394V388.9L260,392.6V389.9V395.3L261.6,392.2V393.7V390.6L263.2,392.1V390.5V393.7L264.8,391.1V392.6V389.6L266.4,389.9V387.5V392.4L268,391.9V393.6V390.2L269.6,391.6V389.4V393.8L271.2,391.2V393.2V389.3L272.8,391.2V389.3V393.2L274.4,392.5V394.1V390.9L276,392.8V390.9V394.8L277.6,392V394.6V389.4L279.2,392.3V390.6V394L280.8,392.3V394V390.5L282.4,393.7V391.4V396L284,393.1V394.4V391.8L285.6,392.6V390.8V394.3L287.2,392.5V394.1V391L288.8,393.4V390.8V395.9L290.4,391.1V393.3V389L292,391.7V390.3V393.2L293.6,391.9V393.4V390.3L295.2,392.6V391V394.2L296.8,392.7V394.3V391L298.4,392.3V390.1V394.5L300,391.9V393.4V390.5L301.6,392.7V389.7V395.7L303.2,391.7V393.8V389.6L304.8,392.1V390.5V393.7L306.4,392.2V393.9V390.5L308,393V391.4V394.6L309.6,392.7V394.9V390.4L311.2,391.5V389.4V393.6L312.8,392.9V395.5V390.4L314.4,392V389.8V394.2L316,393.1V394.5V391.6L317.6,392.6V390.2V395L319.2,393.1V394.5V391.7L320.8,392.9V391.4V394.5L322.4,393.4V395.2V391.6L324,392.8V389.6V396.1L325.6,392.5V393.8V391.2L327.2,393.1V391.1V395.2L328.8,392.7V394.6V390.8L330.4,393.3V391.7V394.9L332,391.8V393.3V390.2L333.6,391V389.7V392.3L335.2,391.3V393.4V389.1L336.8,392V390.5V393.5L338.4,391.8V393.4V390.3L340,392.4V390.8V393.9L341.6,393V394.4V391.6L343.2,393.9V391.5V396.3L344.8,392.8V394.7V390.9L346.4,391.7V390V393.4L348,392.3V393.8V390.8L349.6,393.1V391.7V394.5L351.2,393.7V396.2V391.1L352.8,393.6V391.3V396L354.4,393.1V395.5V390.6L356,391.3V389.5V393.1L357.6,391.4V392.7V390.1L359.2,391.1V389.4V392.9L360.8,392.6V394.2V391.1L362.4,393.1V391.2V395L364,391.7V393.8V389.6L365.6,392.2V389.7V394.6L367.2,393.9V396V391.9L368.8,392.5V391.2V393.9L370.4,391.7V393.5V389.8L372,391.6V389.2V394L373.6,393.5V396.4V390.7L375.2,392.9V391.6V394.1L376.8,393.6V396.9V390.3L378.4,392.3V390.8V393.9L380,391.4V393.7V389L381.6,395.1V392.7V397.6L383.2,394.2V396.6V391.8L384.8,391.5V389.6V393.4L386.4,392.1V393.5V390.8L388,392.9V391.5V394.4L389.6,392V394.6V389.4L391.2,391.4V390V392.9L392.8,391.6V393.6V389.6L394.4,392.7V390.3V395.1L396,394.5V396.7V392.2L397.6,392.8V389.8V395.8L399.2,392.1V393.7V390.5L400.8,392.5V390.6V394.4L402.4,392.5V394.2V390.9L404,392.1V390.7V393.6L405.6,392.3V394.2V390.4L407.2,392.5V391.1V393.8L408.8,391.3V393.8V388.8L410.4,390.7V388V393.5L412,393.1V395.6V390.6L413.6,392.1V389.1V395L415.2,392.5V393.9V391L416.8,393.4V391.7V395.2L418.4,393.1V395.1V391.2L420,391.9V390.4V393.5L421.6,391.5V392.9V390.1L423.2,391.6V390.3V393L424.8,391.7V393.6V389.7L426.4,391.6V389.5V393.7L428,392.8V394.4V391.1L429.6,392.8V391.2V394.3L431.2,391.4V393.7V389L432.8,392.3V390.7V393.9L434.4,392.5V394V391L436,391.7V389.8V393.6L437.6,393.1V394.8V391.4L439.2,393.4V391.1V395.7L440.8,392.8V394.3V391.3L442.4,393.1V390.8V395.3L444,392.9V394.7V391.1L445.6,391.9V390.3V393.5L447.2,391.2V393.7V388.7L448.8,392.2V390.7V393.7L450.4,392.2V393.6V390.7L452,392.3V391V393.6L453.6,392.7V394.2V391.2L455.2,393.2V391.7V394.6L456.8,392V393.7V390.4L458.4,391.9V390.6V393.3L460,392.1V394.4V389.8L461.6,393V390.4V395.6L463.2,391.7V393.1V390.2L464.8,393.2V391.6V394.7L466.4,391.7V394.2V389.2L468,393.6V391.1V396.2L469.6,392.9V394.8V390.9L471.2,392V389V395.1L472.8,392.3V393.7V390.8L474.4,391.8V390.1V393.4L476,391.7V393.1V390.2L477.6,391.8V390.1V393.6L479.2,393.3V395.5V391.1L480.8,392.8V390.9V394.6L482.4,392.6V395.6V389.6L484,391V388.4V393.5L485.6,392.9V394.3V391.5L487.2,392.5V390.4V394.6L488.8,392.1V394.1V390L490.4,391.7V389.7V393.7L492,391.2V392.9V389.6L493.6,392.4V390.8V393.9L495.2,393.2V395.1V391.4L496.8,392.4V390.9V394L498.4,391.8V393.2V390.4L500,392V390.6V393.4L501.6,392.4V395.4V389.4L503.2,393V391.4V394.6L504.8,392.9V394.7V391.2L506.4,393.2V391.7V394.8L508,393.8V395.6V392L509.6,393.5V391.6V395.4L511.2,392.5V394V390.9L512.8,391.7V389.7V393.6L514.4,392.1V393.6V390.7L516,392.6V391.3V393.9L517.6,392.4V394V390.7L519.2,391.8V390V393.5L520.8,393.1V395.2V391L522.4,392.1V390.1V394.1L524,390.8V393.4V388.2L525.6,391.9V390.3V393.5L527.2,391.5V394.2V388.8L528.8,391.6V389.8V393.5L530.4,392.1V393.4V390.7L532,392.3V390.3V394.3L533.6,391.7V393.7V389.7L535.2,392.2V390.4V394L536.8,392.4V393.8V391.1L538.4,392.1V390.1V394.1L540,392.8V394.1V391.5L541.6,392.7V390.8V394.5L543.2,392.4V394.1V390.6L544.8,392.9V391.3V394.5L546.4,392.8V394.2V391.4L548,392.1V390.5V393.6L549.6,392.8V395V390.6L551.2,392.6V390.5V394.6L552.8,393.2V395.9V390.5L554.4,393.6V391.1V396L556,394V396.8V391.3L557.6,392.9V391.3V394.6L559.2,393V395.5V390.5L560.8,392.6V391V394.3L562.4,391.4V393.8V389L564,393V391.5V394.4L565.6,392V394.3V389.7L567.2,392.3V390.7V393.9L568.8,391.9V393.4V390.3L570.4,391.2V388.4V394L572,392.2V394.7V389.7L573.6,392.1V390.4V393.8L575.2,391.7V393.3V390.1L576.8,392.3V390.7V393.9L578.4,392.7V394.2V391.1L580,392.2V390.7V393.7L581.6,393.1V394.8V391.3L583.2,392.8V389.9V395.8L584.8,393V394.8V391.2L586.4,393.5V392V395L588,393.7V396.5V390.9L589.6,392.4V390.9V394L591.2,392.5V394.2V390.8L592.8,393.9V391.6V396.2L594.4,392.4V393.8V391L596,391.4V389.9V393L597.6,391V392.9V389L599.2,392.8V390V395.6L600.8,393V394.6V391.4L602.4,394.6V392V397.1L604,392.2V394.2V390.2L605.6,391.9V390.3V393.5L607.2,392.5V394.8V390.2L608.8,392.7V390.8V394.5L610.4,392.8V394.3V391.3L612,393.3V391.7V394.9L613.6,393V396.7V389.4L615.2,392.2V390.8V393.5L616.8,392.8V394.7V390.9L618.4,392.3V389.8V394.7L620,393.4V395.8V391.1L621.6,392.2V390.1V394.2L623.2,391V393V389L624.8,392.8V389.7V395.9L626.4,392.6V394V391.1L628,393.4V391.5V395.2L629.6,393.3V395.3V391.4L631.2,393.3V390.3V396.3L632.8,392.5V394.1V390.9L634.4,392.8V391V394.6L636,392.4V394V390.8L637.6,392.2V390.5V393.8L639.2,391.3V394.4V388.3L640.8,390.5V388.1V392.9L642.4,391.5V392.9V390.1L644,391.6V388.6V394.6L645.6,392V393.5V390.5L647.2,392.6V390.9V394.3L648.8,392.1V393.5V390.7L650.4,393.5V391.2V395.8L652,393.7V395.3V392.1L653.6,392.4V389.9V395L655.2,393V394.9V391.1L656.8,393V391.4V394.7L658.4,391.4V393.5V389.4L660,391.8V390.2V393.5L661.6,392.8V394.5V391.1L663.2,394.1V392V396.2L664.8,393.5V395V392L666.4,393.2V390.7V395.6L668,391.3V392.6V390L669.6,393.1V390.5V395.6L671.2,392V393.7V390.3L672.8,391.6V390.1V393.1L674.4,392.7V394.1V391.3L676,392.2V390.1V394.3L677.6,393.5V395.7V391.4L679.2,392V390.1V393.9L680.8,392.2V393.9V390.5L682.4,392.7V391.2V394.2L684,392.9V394.5V391.3L685.6,392.2V390.9V393.5L687.2,392.5V394V390.9L688.8,392.2V390.8V393.5L690.4,391.5V393.2V389.9L692,391.4V389.8V393L693.6,392.1V394.1V390L695.2,392.5V391V394L696.8,391.9V393.5V390.3L698.4,392.1V390.2V394L700,391.9V393.3V390.6L701.6,392.6V391.1V394L703.2,392.7V394.3V391.1L704.8,392.4V390.9V394L706.4,392.6V394.1V391.1L708,391V388.6V393.4L709.6,391.9V393.3V390.4L711.2,393.2V390.8V395.5L712.8,392.5V394.1V390.9L714.4,392.6V390V395.1L716,391.4V394V388.8L717.6,394V391.6V396.3L719.2,393.3V394.6V392L720.8,392.5V390.3V394.6L722.4,391.5V394.2V388.8L724,393.1V391.5V394.7L725.6,392V394V390.1L727.2,393.5V390.9V396.1L728.8,392.5V394.1V390.9L730.4,392.1V390.5V393.8L732,392.7V394.2V391.2L733.6,392.2V390.7V393.7L735.2,392.2V393.7V390.6L736.8,393.1V391V395.3L738.4,391.9V394.1V389.7L740,393V390.9V395L741.6,391.3V393.6V388.9L743.2,392.5V391V394L744.8,392.9V394.3V391.5L746.4,392.3V390.4V394.3L748,392.2V396.2V388.2L749.6,393.5V390.8V396.3L751.2,390.9V393.4V388.5L752.8,392.3V390.5V394.1L754.4,392.9V394.7V391L756,391.9V389.5V394.2L757.6,392.2V395.2V389.2L759.2,392.1V390.7V393.4L760.8,391.8V393.4V390.2L762.4,391.7V390V393.4L764,391.3V393.1V389.5L765.6,391.9V390.4V393.5L767.2,392.9V394.5V391.3L768.8,392.6V389.2V395.9L771.7,392.4V355.3L772.6,355.1V351.4V358.8L774.2,354.4V357.6V351.2L775.8,353.4V350.1V356.8L777.4,356.4V359.3V353.4L779,354V350.1V358L780.6,355.1V358.3V351.9L782.2,356.4V352.3V360.5L783.8,357.2V360V354.5L785.4,353.9V349.8V357.9L787,353.8V356.3V351.3L788.6,355.6V352.8V358.3L790.2,358V362.9V353.1L791.8,355.7V353.1V358.2L793.4,356.9V360.6V353.2L795,354.9V351.8V358L796.6,353.6V358.1V349.2L798.2,355.5V352.9V358.1L799.8,354.2V357.2V351.3L801.4,355.2V352.4V358L803,355.3V359.2V351.4L804.6,355.1V352.2V358.1L806.2,355.3V359.8V350.7L807.8,354.9V350.8V359.1L810.7,355.3V506L811.3,459.8V460.8V458.7L812.5,455.4V454.4V456.3L813.7,452.2V454.5V450L814.9,451.2V449.4V453L816.1,448.2V449.7V446.8L817.3,446.3V445.2V447.3L818.5,444.5V446.2V442.7L819.7,443.2V441.7V444.7L820.9,441.6V442.6V440.6L822.1,440.2V439.3V441.1L823.3,439V440.8V437.3L824.5,438.2V437.2V439.2L825.7,438V439V437.1L826.9,437.8V436.2V439.4L828.1,436V437.5V434.4"/>
<path d="M149.5,401.1L149.5,401.4V397V405.7L151.1,401.8V404.6V399.1L152.7,401.7V396.4V406.9L154.3,401.1V404V398.2L155.9,401V398.1V404L157.5,401.1V404.1V398.1L159.1,402.9V398.8V407L160.7,403.4V407.1V399.6L162.3,401.6V398.5V404.6L163.9,402.1V404.9V399.2L165.5,401.4V399V403.8L167.1,399.4V403.7V395.1L168.7,400.4V397.8V403.1L170.3,398.4V402.9V394L171.9,400.7V398.3V403.1L173.5,401.4V406.8V396L175.1,401.6V398.7V404.4L176.7,401.1V403.8V398.4L178.3,401.3V399V403.6L179.9,402V405.6V398.3L181.5,399.3V395V403.6L183.1,400.3V405.5V395L184.7,401.1V398.8V403.4L186.3,400V403.1V396.8L188.2,403.1V288.4L189.6,392.5V391.1V394L191.2,393.8V396.3V391.3L192.8,393.4V391V395.8L194.4,390.9V393.3V388.4L196,390.9V388.7V393.1L197.6,392.2V393.9V390.5L199.2,392.2V390.5V393.8L200.8,391.4V392.8V390L202.4,392.5V391.2V393.8L204,392.1V394.5V389.7L205.6,392.8V391.2V394.3L207.2,392.1V393.6V390.6L208.8,391.9V390.3V393.5L210.4,393.9V396V391.8L212,393V391.5V394.6L213.6,392.7V394.1V391.3L215.2,392.9V391.3V394.5L216.8,393.6V396.1V391.1L218.4,394.2V392.1V396.3L220,392.6V394.3V390.9L221.6,392.6V390.1V395.2L223.2,392.4V393.8V391L224.8,393.9V392.4V395.5L226.4,393.5V396V390.9L228,393.7V392.3V395.2L229.6,393V394.5V391.5L231.2,392.6V391.1V394.2L232.8,393.1V394.5V391.7L234.4,392.8V390.1V395.4L236,392.5V394.1V390.8L237.6,393.4V391.3V395.4L239.2,393.3V395.3V391.3L240.8,393.7V391.8V395.5L242.4,393.5V395.1V391.8L244,393.4V390.2V396.5L245.6,394V395.6V392.5L247.2,395.1V393V397.3L248.8,394.8V396.2V393.3L250.4,394.7V393.2V396.2L252,393.6V396.9V390.3L253.6,393.5V390.2V396.8L255.2,394.7V396.3V393.1L256.8,395V392.8V397.2L258.4,394.1V395.7V392.5L260,394.8V392.5V397.2L261.6,393.9V395.6V392.2L263.2,393.8V392.5V395.2L264.8,394V395.5V392.5L266.4,394.9V393.5V396.2L268,395.5V397.9V393.1L269.6,393.8V392.1V395.5L271.2,393.6V395.5V391.8L272.8,395.6V393.3V397.9L274.4,394.4V396V392.8L276,394.1V390.7V397.5L277.6,394.4V396.1V392.7L279.2,393.6V391.5V395.8L280.8,393.3V395.8V390.8L282.4,393.7V390.8V396.6L284,394.9V396.6V393.2L285.6,394V391.8V396.2L287.2,394.1V395.5V392.6L288.8,393.3V391.5V395.1L290.4,393.8V395.2V392.5L292,393.7V391.3V396.2L293.6,395.4V398.4V392.3L295.2,394.2V392.1V396.2L296.8,393.8V395.2V392.4L298.4,393.2V391.1V395.4L300,393.2V395.6V390.9L301.6,394.7V393.1V396.2L303.2,394V395.8V392.2L304.8,393.8V392.4V395.3L306.4,395.2V397.7V392.6L308,393.9V392.5V395.3L309.6,394.3V395.9V392.8L311.2,394.5V393.1V395.9L312.8,393.8V395.2V392.3L314.4,394.2V392.3V396.2L316,394.3V397.2V391.5L317.6,394.2V392.6V395.9L319.2,393.1V395.3V391L320.8,393.9V392V395.7L322.4,394.3V396.9V391.7L324,394.7V393.3V396.1L325.6,394.4V396.4V392.5L327.2,393.8V392.1V395.6L328.8,394.6V396.3V393L330.4,394.6V393.1V396.1L332,394.3V396.7V391.8L333.6,394.3V392.9V395.7L335.2,393.6V395.2V391.9L336.8,394.9V392.4V397.4L338.4,394V395.3V392.6L340,392.9V391.2V394.7L341.6,394.2V395.9V392.4L343.2,393.8V391.7V395.9L344.8,394.1V396.9V391.4L346.4,394V392.5V395.5L348,393.6V395.5V391.8L349.6,393.7V392.3V395.1L351.2,394.5V397.2V391.8L352.8,394.1V391.7V396.5L354.4,393.5V395.9V391.1L356,392.4V389.6V395.3L357.6,393.2V395.5V390.9L359.2,394.5V392.9V396.2L360.8,395V397.7V392.3L362.4,394V392.3V395.7L364,393.4V395.2V391.5L365.6,395.2V393.2V397.1L367.2,394.8V396.7V392.9L368.8,395.5V393.2V397.8L370.4,394.6V396.7V392.4L372,393.3V391.3V395.3L373.6,394.1V396V392.2L375.2,395.3V393.1V397.4L376.8,394.3V396.1V392.4L378.4,394.9V393.3V396.6L380,394.6V395.9V393.2L381.6,393.9V392.4V395.4L383.2,394.6V396.6V392.6L384.8,393.9V392.1V395.6L386.4,392.8V395.1V390.5L388,393.7V392.3V395.1L389.6,393.7V395.1V392.3L391.2,392.7V390.1V395.2L392.8,393.4V394.7V392.1L394.4,394.2V392.6V395.8L396,395.3V397.1V393.4L397.6,394.6V392.7V396.6L399.2,395.2V398V392.5L400.8,395.7V393.4V398.1L402.4,395.4V397.1V393.6L404,396V393.3V398.6L405.6,394.1V395.6V392.6L407.2,395.5V392.9V398.2L408.8,394.4V397.4V391.3L410.4,394.3V392.6V396L412,395V396.8V393.2L413.6,395V392.4V397.5L415.2,394.3V395.8V392.8L416.8,393.4V391.6V395.2L418.4,394.4V396.2V392.5L420,394.7V393.2V396.1L421.6,393.8V395.6V392L423.2,393.8V390.8V396.8L424.8,394.8V396.2V393.4L426.4,395.3V393V397.6L428,394.6V396.1V393.1L429.6,394.4V391.5V397.2L431.2,393V395.8V390.2L432.8,393.6V391.9V395.3L434.4,393.1V395.1V391.2L436,393.3V391.8V394.8L437.6,394.6V396V393.1L439.2,394.5V393.1V395.8L440.8,394.3V396.3V392.2L442.4,393.9V391V396.9L444,395.9V397.6V394.1L445.6,395.4V393.5V397.4L447.2,394.2V395.6V392.8L448.8,394.1V392.8V395.5L450.4,394.7V397V392.4L452,394.2V392.7V395.8L453.6,393.2V395.1V391.3L455.2,393.4V391.5V395.4L456.8,393.3V395.1V391.5L458.4,393.8V392.2V395.3L460,394.4V396.1V392.7L461.6,394.9V393.2V396.6L463.2,394.4V396.1V392.8L464.8,394.5V392.9V396.2L466.4,395.3V397.6V393L468,395V392.9V397.1L469.6,394V395.5V392.5L471.2,393.1V391.8V394.5L472.8,393.5V394.9V392.2L474.4,394.6V393.1V396.1L476,394.9V396.5V393.3L477.6,395V393.5V396.5L479.2,393V395.6V390.3L480.8,395.2V393.5V396.9L482.4,395.4V397.7V393.2L484,393.7V392V395.4L485.6,395.2V397.5V392.9L487.2,394.3V392.8V395.7L488.8,393.2V394.7V391.8L490.4,393.3V391.8V394.8L492,394V395.5V392.6L493.6,393.1V390.8V395.3L495.2,393.9V395.3V392.4L496.8,394.9V392.7V397L498.4,396.3V398.8V393.7L500,395.1V393.3V396.9L501.6,395.3V397.1V393.5L503.2,395.3V393.8V396.8L504.8,393.2V395.9V390.4L506.4,394.6V392.5V396.7L508,393.5V395.3V391.6L509.6,393.1V390.6V395.7L511.2,393V395.2V390.8L512.8,393.3V391.9V394.6L514.4,393.2V395.7V390.7L516,394.8V393V396.6L517.6,395.1V396.7V393.5L519.2,394.2V391.8V396.6L520.8,394.5V396V393.1L522.4,394.3V392.4V396.3L524,396V398.1V393.9L525.6,394.8V393.4V396.3L527.2,394.3V395.8V392.9L528.8,394.9V392.5V397.2L530.4,395.3V396.9V393.7L532,394.9V393.4V396.3L533.6,394.4V396.9V391.8L535.2,394.6V391.6V397.6L536.8,392.7V395.3V390.2L538.4,394.3V392.8V395.8L540,394.3V395.8V392.8L541.6,395.5V392.8V398.1L543.2,393.6V396.4V390.8L544.8,394.1V392.4V395.7L546.4,393.8V395.8V391.7L548,394.9V393.5V396.2L549.6,394V396.4V391.6L551.2,394.3V392.7V396L552.8,393.9V395.5V392.2L554.4,394.2V392.7V395.7L556,394.4V396.2V392.5L557.6,394V392.5V395.5L559.2,394.5V396V393L560.8,394.4V392.5V396.3L562.4,394V395.7V392.3L564,394.6V393.1V396.1L565.6,395V398.1V392L567.2,394.3V392.5V396.1L568.8,394.3V396.2V392.5L570.4,393.1V390.5V395.6L572,394.2V395.9V392.4L573.6,393.2V390.6V395.8L575.2,393.5V395.2V391.8L576.8,394.3V392.9V395.6L578.4,394.2V396.4V392.1L580,394.6V393V396.1L581.6,394.3V395.8V392.7L583.2,395.1V393.3V396.8L584.8,396V397.5V394.6L586.4,396.3V393.3V399.2L588,394.1V396.3V391.9L589.6,395.2V393.5V396.9L591.2,394.5V396.4V392.5L592.8,393.2V390.4V395.9L594.4,395.2V397.5V392.8L596,395.5V393.2V397.9L597.6,393.8V395.6V392.1L599.2,393.8V391.6V396L600.8,394V395.6V392.5L602.4,395.4V392.7V398.1L604,395.9V398.7V393.2L605.6,395.2V393.3V397.2L607.2,394.3V395.7V392.9L608.8,394.6V393.2V396.1L610.4,394V396.5V391.5L612,394.4V392.9V396L613.6,394.7V396.9V392.5L615.2,395.2V392.5V398L616.8,394.8V396.4V393.2L618.4,394.9V393.5V396.3L620,396V398.2V393.7L621.6,395.4V393.7V397.1L623.2,395.3V396.9V393.7L624.8,394.7V392V397.3L626.4,396.2V397.6V394.7L628,395.3V393.6V397L629.6,393.9V396.4V391.4L631.2,392.8V390.2V395.4L632.8,395.2V397.9V392.5L634.4,395.7V393.3V398L636,395.4V397.8V392.9L637.6,394.9V393V396.8L639.2,394.5V396.3V392.8L640.8,395.1V392.3V397.9L642.4,395.1V396.6V393.6L644,396V394.1V397.9L645.6,395.1V398.1V392.2L647.2,394.1V391.7V396.6L648.8,395.3V397.6V393L650.4,394.8V393.5V396.2L652,394.5V395.9V393.1L653.6,394.5V392.6V396.5L655.2,394V395.6V392.5L656.8,394.5V391.8V397.2L658.4,394.7V396.6V392.8L660,393.7V392.2V395.1L661.6,394.2V395.8V392.7L663.2,393.9V391.7V396L664.8,395V397.4V392.7L666.4,393.2V391.2V395.2L668,395.3V397.5V393L669.6,394.3V391.7V396.8L671.2,394.8V397.8V391.7L672.8,394.2V392.7V395.7L674.4,393V394.3V391.7L676,394.3V392V396.7L677.6,395.8V398.3V393.2L679.2,396.2V394V398.4L680.8,394.4V396.3V392.5L682.4,394.9V393.3V396.5L684,393.8V395.2V392.3L685.6,392.5V390.9V394L687.2,394.4V396.6V392.1L688.8,396.2V393.8V398.6L690.4,394.4V396.3V392.4L692,393.7V392.2V395.3L693.6,393.5V395.2V391.7L695.2,393.5V392.1V394.9L696.8,393.9V396.3V391.5L698.4,394.5V393V396L700,395.1V396.9V393.3L701.6,394.8V392.7V396.9L703.2,393.9V395.5V392.3L704.8,393.7V391.4V396.1L706.4,395.5V398.1V392.9L708,393.4V391.4V395.4L709.6,394.2V395.8V392.7L711.2,395.3V392.4V398.1L712.8,395.1V397.1V393.1L714.4,394.2V392.3V396.1L716,394.7V396.6V392.9L717.6,395.3V393.1V397.4L719.2,394.5V396V392.9L720.8,393.7V391.8V395.5L722.4,394.8V397.5V392.1L724,393.8V392.1V395.6L725.6,393.1V395.7V390.6L727.2,395.1V392.5V397.7L728.8,394.2V397.2V391.3L730.4,395.9V393.3V398.5L732,394.6V396.2V392.9L733.6,395.4V393.5V397.2L735.2,395.5V398.2V392.9L736.8,393.9V392.3V395.6L738.4,395.3V396.8V393.9L740,394.7V392.2V397.2L741.6,395.2V397.5V393L743.2,394.7V392V397.5L744.8,394.7V396.1V393.4L746.4,395.4V393.5V397.3L748,394V395.6V392.4L749.6,392.5V390.3V394.7L751.2,393.2V395.4V391.1L752.8,394.2V392.4V396.1L754.4,395.2V397.3V393.1L756,393.8V392.1V395.5L757.6,394.6V396.5V392.7L759.2,395V393.7V396.4L760.8,394.7V397.4V392.1L762.4,394.5V392.6V396.4L764,394.6V395.9V393.3L765.6,394.3V392.5V396.1L767.2,394.2V395.7V392.7L768.8,394V392.1V395.8L771.2,394.4V356.5L772.6,357.6V352.8V362.3L774.2,358.3V362.8V353.7L775.8,356.1V353.5V358.8L777.4,355.3V358V352.7L779,356.5V353.6V359.4L780.6,355.9V358.8V353.1L782.2,355.5V351.2V359.8L783.8,355.4V358.4V352.4L785.4,355.5V352.2V358.7L787,358.1V363V353.3L788.6,357.6V354.2V361L790.2,359V364V354L791.8,358.2V354V362.3L793.4,356.4V359.1V353.8L795,355.5V352.9V358.1L796.6,356.1V359.3V352.9L798.2,357.3V353.2V361.3L799.8,358.3V361.6V355L801.4,356.5V353.9V359.1L803,356.2V359.9V352.5L804.6,357.6V353.6V361.6L806.2,355.4V358.4V352.4L807.8,356.2V353.2V359.2L810.1,356.5V512.5L811.3,468.6V470V467.2L812.5,463.6V462.1V465L813.7,460.4V462V458.7L814.9,455.3V454.3V456.3L816.1,453.1V454.6V451.5L817.3,453.9V452.4V455.3L818.5,451.5V452.6V450.4L819.7,449.5V448.4V450.5L820.9,449.1V450.8V447.3L822.1,447.4V445.6V449.2L823.3,446.9V448.3V445.6L824.5,445V443.1V446.9L825.7,442.2V443.3V441L826.9,440.9V439.7V442.2L828.1,440.2V442V438.3"/>
</g>
</svg>
</body>
</html>
